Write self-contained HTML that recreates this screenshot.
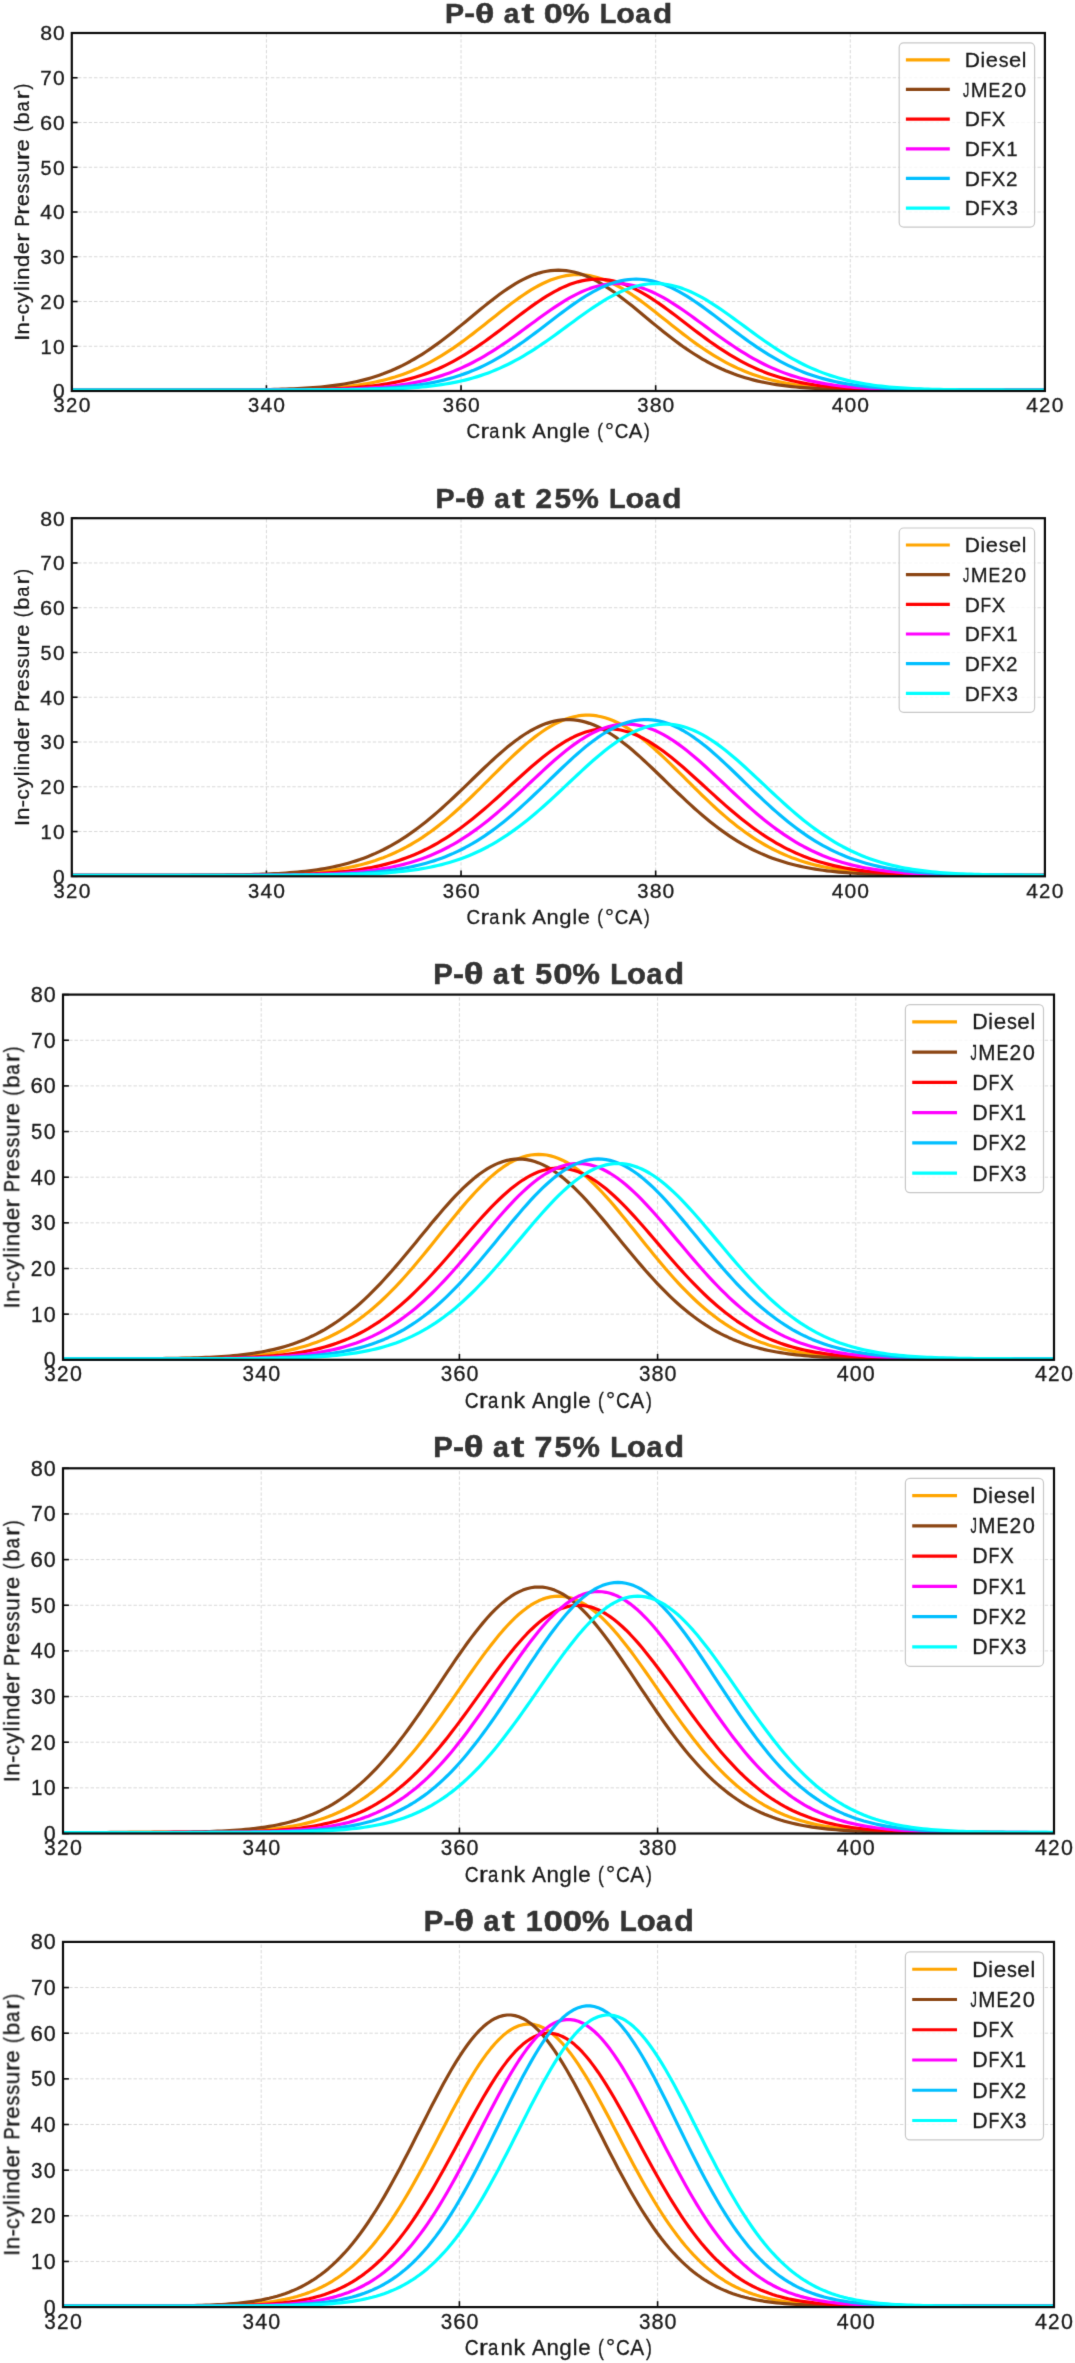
<!DOCTYPE html>
<html><head><meta charset="utf-8"><style>html,body{margin:0;padding:0;background:#fff;}svg{display:block;}</style></head>
<body>
<svg width="1075" height="2363" viewBox="0 0 1075 2363" font-family='"Liberation Sans", sans-serif'>
<defs><filter id="bl" x="0" y="0" width="1075" height="2363" filterUnits="userSpaceOnUse" color-interpolation-filters="sRGB"><feConvolveMatrix order="3" kernelMatrix="0.01134 0.08382 0.01134 0.08382 0.61935 0.08382 0.01134 0.08382 0.01134" divisor="1" edgeMode="duplicate" preserveAlpha="true"/></filter></defs>
<g filter="url(#bl)"><rect width="1075" height="2363" fill="#fff"/>
<g stroke="#d9d9d9" stroke-width="1" stroke-dasharray="3.4 1.96"><line x1="266.42" y1="391" x2="266.42" y2="33"/><line x1="461.04" y1="391" x2="461.04" y2="33"/><line x1="655.66" y1="391" x2="655.66" y2="33"/><line x1="850.28" y1="391" x2="850.28" y2="33"/><line x1="71.8" y1="346.25" x2="1044.9" y2="346.25" stroke-dashoffset="-0.8"/><line x1="71.8" y1="301.5" x2="1044.9" y2="301.5" stroke-dashoffset="-0.8"/><line x1="71.8" y1="256.75" x2="1044.9" y2="256.75" stroke-dashoffset="-0.8"/><line x1="71.8" y1="212" x2="1044.9" y2="212" stroke-dashoffset="-0.8"/><line x1="71.8" y1="167.25" x2="1044.9" y2="167.25" stroke-dashoffset="-0.8"/><line x1="71.8" y1="122.5" x2="1044.9" y2="122.5" stroke-dashoffset="-0.8"/><line x1="71.8" y1="77.75" x2="1044.9" y2="77.75" stroke-dashoffset="-0.8"/></g>
<g stroke="#0a0a0a" stroke-width="1.6"><line x1="71.8" y1="391" x2="71.8" y2="385.2"/><line x1="266.42" y1="391" x2="266.42" y2="385.2"/><line x1="461.04" y1="391" x2="461.04" y2="385.2"/><line x1="655.66" y1="391" x2="655.66" y2="385.2"/><line x1="850.28" y1="391" x2="850.28" y2="385.2"/><line x1="1044.9" y1="391" x2="1044.9" y2="385.2"/><line x1="71.8" y1="391" x2="77.6" y2="391"/><line x1="71.8" y1="346.25" x2="77.6" y2="346.25"/><line x1="71.8" y1="301.5" x2="77.6" y2="301.5"/><line x1="71.8" y1="256.75" x2="77.6" y2="256.75"/><line x1="71.8" y1="212" x2="77.6" y2="212"/><line x1="71.8" y1="167.25" x2="77.6" y2="167.25"/><line x1="71.8" y1="122.5" x2="77.6" y2="122.5"/><line x1="71.8" y1="77.75" x2="77.6" y2="77.75"/><line x1="71.8" y1="33" x2="77.6" y2="33"/></g>
<g><polyline fill="none" stroke="#FFA500" stroke-width="3.2" stroke-linejoin="round" points="71.8,390.02 75.69,390.02 79.58,390.02 83.48,390.02 87.37,390.02 91.26,390.02 95.15,390.02 99.05,390.02 102.94,390.02 106.83,390.02 110.72,390.02 114.62,390.02 118.51,390.02 122.4,390.02 126.29,390.02 130.19,390.02 134.08,390.02 137.97,390.02 141.86,390.02 145.76,390.01 149.65,390.01 153.54,390.01 157.43,390.01 161.33,390.01 165.22,390.01 169.11,390.01 173,390.01 176.89,390.01 180.79,390.01 184.68,390.01 188.57,390.01 192.46,390.01 196.36,390.01 200.25,390 204.14,390 208.03,390 211.93,390 215.82,389.99 219.71,389.99 223.6,389.98 227.5,389.98 231.39,389.97 235.28,389.96 239.17,389.95 243.07,389.94 246.96,389.92 250.85,389.91 254.74,389.89 258.64,389.86 262.53,389.84 266.42,389.81 270.31,389.77 274.2,389.73 278.1,389.69 281.99,389.63 285.88,389.57 289.77,389.5 293.67,389.42 297.56,389.33 301.45,389.22 305.34,389.1 309.24,388.97 313.13,388.82 317.02,388.65 320.91,388.45 324.81,388.24 328.7,388 332.59,387.73 336.48,387.43 340.38,387.09 344.27,386.72 348.16,386.31 352.05,385.85 355.95,385.35 359.84,384.8 363.73,384.2 367.62,383.54 371.51,382.82 375.41,382.03 379.3,381.18 383.19,380.25 387.08,379.25 390.98,378.16 394.87,377 398.76,375.74 402.65,374.4 406.55,372.97 410.44,371.44 414.33,369.81 418.22,368.09 422.12,366.26 426.01,364.33 429.9,362.3 433.79,360.17 437.69,357.94 441.58,355.61 445.47,353.18 449.36,350.66 453.26,348.05 457.15,345.36 461.04,342.59 464.93,339.74 468.82,336.83 472.72,333.86 476.61,330.84 480.5,327.79 484.39,324.7 488.29,321.6 492.18,318.49 496.07,315.38 499.96,312.3 503.86,309.25 507.75,306.24 511.64,303.3 515.53,300.42 519.43,297.64 523.32,294.95 527.21,292.38 531.1,289.94 535,287.64 538.89,285.5 542.78,283.52 546.67,281.72 550.57,280.1 554.46,278.68 558.35,277.46 562.24,276.46 566.13,275.67 570.03,275.1 573.92,274.76 577.81,274.65 581.7,274.76 585.6,275.1 589.49,275.67 593.38,276.46 597.27,277.46 601.17,278.68 605.06,280.1 608.95,281.72 612.84,283.52 616.74,285.5 620.63,287.64 624.52,289.94 628.41,292.38 632.31,294.95 636.2,297.64 640.09,300.42 643.98,303.3 647.88,306.24 651.77,309.25 655.66,312.3 659.55,315.38 663.44,318.49 667.34,321.6 671.23,324.7 675.12,327.79 679.01,330.84 682.91,333.86 686.8,336.83 690.69,339.74 694.58,342.59 698.48,345.36 702.37,348.05 706.26,350.66 710.15,353.18 714.05,355.61 717.94,357.94 721.83,360.17 725.72,362.3 729.62,364.33 733.51,366.26 737.4,368.09 741.29,369.81 745.19,371.44 749.08,372.97 752.97,374.4 756.86,375.74 760.75,377 764.65,378.16 768.54,379.25 772.43,380.25 776.32,381.18 780.22,382.03 784.11,382.82 788,383.54 791.89,384.2 795.79,384.8 799.68,385.35 803.57,385.85 807.46,386.31 811.36,386.72 815.25,387.09 819.14,387.43 823.03,387.73 826.93,388 830.82,388.24 834.71,388.45 838.6,388.65 842.5,388.82 846.39,388.97 850.28,389.1 854.17,389.22 858.06,389.33 861.96,389.42 865.85,389.5 869.74,389.57 873.63,389.63 877.53,389.69 881.42,389.73 885.31,389.77 889.2,389.81 893.1,389.84 896.99,389.86 900.88,389.89 904.77,389.91 908.67,389.92 912.56,389.94 916.45,389.95 920.34,389.96 924.24,389.97 928.13,389.98 932.02,389.98 935.91,389.99 939.81,389.99 943.7,390 947.59,390 951.48,390 955.37,390 959.27,390.01 963.16,390.01 967.05,390.01 970.94,390.01 974.84,390.01 978.73,390.01 982.62,390.01 986.51,390.01 990.41,390.01 994.3,390.01 998.19,390.01 1002.08,390.01 1005.98,390.01 1009.87,390.01 1013.76,390.02 1017.65,390.02 1021.55,390.02 1025.44,390.02 1029.33,390.02 1033.22,390.02 1037.12,390.02 1041.01,390.02 1044.9,390.02"/><polyline fill="none" stroke="#8B4513" stroke-width="3.2" stroke-linejoin="round" points="71.8,390.02 75.69,390.02 79.58,390.02 83.48,390.02 87.37,390.02 91.26,390.02 95.15,390.02 99.05,390.02 102.94,390.02 106.83,390.02 110.72,390.02 114.62,390.02 118.51,390.02 122.4,390.02 126.29,390.01 130.19,390.01 134.08,390.01 137.97,390.01 141.86,390.01 145.76,390.01 149.65,390.01 153.54,390.01 157.43,390.01 161.33,390.01 165.22,390.01 169.11,390.01 173,390.01 176.89,390.01 180.79,390 184.68,390 188.57,390 192.46,390 196.36,389.99 200.25,389.99 204.14,389.98 208.03,389.98 211.93,389.97 215.82,389.96 219.71,389.95 223.6,389.93 227.5,389.92 231.39,389.9 235.28,389.88 239.17,389.86 243.07,389.83 246.96,389.8 250.85,389.76 254.74,389.72 258.64,389.67 262.53,389.62 266.42,389.55 270.31,389.48 274.2,389.39 278.1,389.3 281.99,389.19 285.88,389.07 289.77,388.93 293.67,388.77 297.56,388.59 301.45,388.39 305.34,388.17 309.24,387.92 313.13,387.64 317.02,387.33 320.91,386.98 324.81,386.59 328.7,386.17 332.59,385.69 336.48,385.17 340.38,384.6 344.27,383.97 348.16,383.29 352.05,382.54 355.95,381.72 359.84,380.83 363.73,379.87 367.62,378.83 371.51,377.7 375.41,376.49 379.3,375.19 383.19,373.8 387.08,372.31 390.98,370.72 394.87,369.03 398.76,367.23 402.65,365.34 406.55,363.33 410.44,361.23 414.33,359.01 418.22,356.7 422.12,354.27 426.01,351.75 429.9,349.14 433.79,346.43 437.69,343.63 441.58,340.75 445.47,337.79 449.36,334.77 453.26,331.68 457.15,328.55 461.04,325.37 464.93,322.17 468.82,318.94 472.72,315.71 476.61,312.49 480.5,309.29 484.39,306.12 488.29,302.99 492.18,299.93 496.07,296.95 499.96,294.05 503.86,291.27 507.75,288.6 511.64,286.06 515.53,283.67 519.43,281.45 523.32,279.39 527.21,277.52 531.1,275.84 535,274.36 538.89,273.1 542.78,272.05 546.67,271.24 550.57,270.65 554.46,270.29 558.35,270.18 562.24,270.29 566.13,270.65 570.03,271.24 573.92,272.05 577.81,273.1 581.7,274.36 585.6,275.84 589.49,277.52 593.38,279.39 597.27,281.45 601.17,283.67 605.06,286.06 608.95,288.6 612.84,291.27 616.74,294.05 620.63,296.95 624.52,299.93 628.41,302.99 632.31,306.12 636.2,309.29 640.09,312.49 643.98,315.71 647.88,318.94 651.77,322.17 655.66,325.37 659.55,328.55 663.44,331.68 667.34,334.77 671.23,337.79 675.12,340.75 679.01,343.63 682.91,346.43 686.8,349.14 690.69,351.75 694.58,354.27 698.48,356.7 702.37,359.01 706.26,361.23 710.15,363.33 714.05,365.34 717.94,367.23 721.83,369.03 725.72,370.72 729.62,372.31 733.51,373.8 737.4,375.19 741.29,376.49 745.19,377.7 749.08,378.83 752.97,379.87 756.86,380.83 760.75,381.72 764.65,382.54 768.54,383.29 772.43,383.97 776.32,384.6 780.22,385.17 784.11,385.69 788,386.17 791.89,386.59 795.79,386.98 799.68,387.33 803.57,387.64 807.46,387.92 811.36,388.17 815.25,388.39 819.14,388.59 823.03,388.77 826.93,388.93 830.82,389.07 834.71,389.19 838.6,389.3 842.5,389.39 846.39,389.48 850.28,389.55 854.17,389.62 858.06,389.67 861.96,389.72 865.85,389.76 869.74,389.8 873.63,389.83 877.53,389.86 881.42,389.88 885.31,389.9 889.2,389.92 893.1,389.93 896.99,389.95 900.88,389.96 904.77,389.97 908.67,389.98 912.56,389.98 916.45,389.99 920.34,389.99 924.24,390 928.13,390 932.02,390 935.91,390 939.81,390.01 943.7,390.01 947.59,390.01 951.48,390.01 955.37,390.01 959.27,390.01 963.16,390.01 967.05,390.01 970.94,390.01 974.84,390.01 978.73,390.01 982.62,390.01 986.51,390.01 990.41,390.01 994.3,390.02 998.19,390.02 1002.08,390.02 1005.98,390.02 1009.87,390.02 1013.76,390.02 1017.65,390.02 1021.55,390.02 1025.44,390.02 1029.33,390.02 1033.22,390.02 1037.12,390.02 1041.01,390.02 1044.9,390.02"/><polyline fill="none" stroke="#FF0000" stroke-width="3.2" stroke-linejoin="round" points="71.8,390.02 75.69,390.02 79.58,390.02 83.48,390.02 87.37,390.02 91.26,390.02 95.15,390.02 99.05,390.02 102.94,390.02 106.83,390.02 110.72,390.02 114.62,390.02 118.51,390.02 122.4,390.02 126.29,390.02 130.19,390.02 134.08,390.02 137.97,390.02 141.86,390.02 145.76,390.02 149.65,390.02 153.54,390.02 157.43,390.02 161.33,390.02 165.22,390.01 169.11,390.01 173,390.01 176.89,390.01 180.79,390.01 184.68,390.01 188.57,390.01 192.46,390.01 196.36,390.01 200.25,390.01 204.14,390.01 208.03,390.01 211.93,390.01 215.82,390.01 219.71,390.01 223.6,390 227.5,390 231.39,390 235.28,389.99 239.17,389.99 243.07,389.98 246.96,389.98 250.85,389.97 254.74,389.96 258.64,389.95 262.53,389.94 266.42,389.93 270.31,389.91 274.2,389.89 278.1,389.87 281.99,389.85 285.88,389.82 289.77,389.78 293.67,389.74 297.56,389.7 301.45,389.65 305.34,389.59 309.24,389.52 313.13,389.44 317.02,389.35 320.91,389.25 324.81,389.14 328.7,389.01 332.59,388.86 336.48,388.7 340.38,388.51 344.27,388.31 348.16,388.07 352.05,387.82 355.95,387.53 359.84,387.2 363.73,386.85 367.62,386.45 371.51,386.02 375.41,385.54 379.3,385.01 383.19,384.43 387.08,383.79 390.98,383.1 394.87,382.34 398.76,381.52 402.65,380.63 406.55,379.66 410.44,378.62 414.33,377.5 418.22,376.3 422.12,375.01 426.01,373.63 429.9,372.16 433.79,370.6 437.69,368.94 441.58,367.18 445.47,365.33 449.36,363.38 453.26,361.33 457.15,359.18 461.04,356.94 464.93,354.61 468.82,352.19 472.72,349.68 476.61,347.09 480.5,344.43 484.39,341.69 488.29,338.89 492.18,336.04 496.07,333.14 499.96,330.2 503.86,327.23 507.75,324.25 511.64,321.26 515.53,318.28 519.43,315.32 523.32,312.38 527.21,309.49 531.1,306.66 535,303.9 538.89,301.22 542.78,298.64 546.67,296.17 550.57,293.83 554.46,291.62 558.35,289.55 562.24,287.65 566.13,285.92 570.03,284.36 573.92,283 577.81,281.83 581.7,280.86 585.6,280.11 589.49,279.56 593.38,279.23 597.27,279.12 601.17,279.23 605.06,279.56 608.95,280.11 612.84,280.86 616.74,281.83 620.63,283 624.52,284.36 628.41,285.92 632.31,287.65 636.2,289.55 640.09,291.62 643.98,293.83 647.88,296.17 651.77,298.64 655.66,301.22 659.55,303.9 663.44,306.66 667.34,309.49 671.23,312.38 675.12,315.32 679.01,318.28 682.91,321.26 686.8,324.25 690.69,327.23 694.58,330.2 698.48,333.14 702.37,336.04 706.26,338.89 710.15,341.69 714.05,344.43 717.94,347.09 721.83,349.68 725.72,352.19 729.62,354.61 733.51,356.94 737.4,359.18 741.29,361.33 745.19,363.38 749.08,365.33 752.97,367.18 756.86,368.94 760.75,370.6 764.65,372.16 768.54,373.63 772.43,375.01 776.32,376.3 780.22,377.5 784.11,378.62 788,379.66 791.89,380.63 795.79,381.52 799.68,382.34 803.57,383.1 807.46,383.79 811.36,384.43 815.25,385.01 819.14,385.54 823.03,386.02 826.93,386.45 830.82,386.85 834.71,387.2 838.6,387.53 842.5,387.82 846.39,388.07 850.28,388.31 854.17,388.51 858.06,388.7 861.96,388.86 865.85,389.01 869.74,389.14 873.63,389.25 877.53,389.35 881.42,389.44 885.31,389.52 889.2,389.59 893.1,389.65 896.99,389.7 900.88,389.74 904.77,389.78 908.67,389.82 912.56,389.85 916.45,389.87 920.34,389.89 924.24,389.91 928.13,389.93 932.02,389.94 935.91,389.95 939.81,389.96 943.7,389.97 947.59,389.98 951.48,389.98 955.37,389.99 959.27,389.99 963.16,390 967.05,390 970.94,390 974.84,390.01 978.73,390.01 982.62,390.01 986.51,390.01 990.41,390.01 994.3,390.01 998.19,390.01 1002.08,390.01 1005.98,390.01 1009.87,390.01 1013.76,390.01 1017.65,390.01 1021.55,390.01 1025.44,390.01 1029.33,390.01 1033.22,390.02 1037.12,390.02 1041.01,390.02 1044.9,390.02"/><polyline fill="none" stroke="#FF00FF" stroke-width="3.2" stroke-linejoin="round" points="71.8,390.02 75.69,390.02 79.58,390.02 83.48,390.02 87.37,390.02 91.26,390.02 95.15,390.02 99.05,390.02 102.94,390.02 106.83,390.02 110.72,390.02 114.62,390.02 118.51,390.02 122.4,390.02 126.29,390.02 130.19,390.02 134.08,390.02 137.97,390.02 141.86,390.02 145.76,390.02 149.65,390.02 153.54,390.02 157.43,390.02 161.33,390.02 165.22,390.02 169.11,390.02 173,390.02 176.89,390.02 180.79,390.02 184.68,390.01 188.57,390.01 192.46,390.01 196.36,390.01 200.25,390.01 204.14,390.01 208.03,390.01 211.93,390.01 215.82,390.01 219.71,390.01 223.6,390.01 227.5,390.01 231.39,390.01 235.28,390.01 239.17,390.01 243.07,390 246.96,390 250.85,390 254.74,389.99 258.64,389.99 262.53,389.99 266.42,389.98 270.31,389.97 274.2,389.96 278.1,389.96 281.99,389.94 285.88,389.93 289.77,389.92 293.67,389.9 297.56,389.88 301.45,389.85 305.34,389.82 309.24,389.79 313.13,389.75 317.02,389.71 320.91,389.66 324.81,389.6 328.7,389.54 332.59,389.46 336.48,389.38 340.38,389.28 344.27,389.17 348.16,389.05 352.05,388.91 355.95,388.75 359.84,388.57 363.73,388.38 367.62,388.15 371.51,387.9 375.41,387.63 379.3,387.32 383.19,386.98 387.08,386.6 390.98,386.18 394.87,385.72 398.76,385.21 402.65,384.65 406.55,384.04 410.44,383.38 414.33,382.65 418.22,381.86 422.12,381.01 426.01,380.08 429.9,379.08 433.79,378.01 437.69,376.85 441.58,375.61 445.47,374.29 449.36,372.88 453.26,371.38 457.15,369.79 461.04,368.1 464.93,366.32 468.82,364.45 472.72,362.49 476.61,360.43 480.5,358.28 484.39,356.04 488.29,353.72 492.18,351.31 496.07,348.82 499.96,346.27 503.86,343.64 507.75,340.96 511.64,338.22 515.53,335.43 519.43,332.61 523.32,329.77 527.21,326.91 531.1,324.04 535,321.17 538.89,318.33 542.78,315.51 546.67,312.74 550.57,310.02 554.46,307.37 558.35,304.8 562.24,302.33 566.13,299.96 570.03,297.71 573.92,295.59 577.81,293.61 581.7,291.78 585.6,290.12 589.49,288.63 593.38,287.32 597.27,286.2 601.17,285.27 605.06,284.54 608.95,284.02 612.84,283.71 616.74,283.6 620.63,283.71 624.52,284.02 628.41,284.54 632.31,285.27 636.2,286.2 640.09,287.32 643.98,288.63 647.88,290.12 651.77,291.78 655.66,293.61 659.55,295.59 663.44,297.71 667.34,299.96 671.23,302.33 675.12,304.8 679.01,307.37 682.91,310.02 686.8,312.74 690.69,315.51 694.58,318.33 698.48,321.17 702.37,324.04 706.26,326.91 710.15,329.77 714.05,332.61 717.94,335.43 721.83,338.22 725.72,340.96 729.62,343.64 733.51,346.27 737.4,348.82 741.29,351.31 745.19,353.72 749.08,356.04 752.97,358.28 756.86,360.43 760.75,362.49 764.65,364.45 768.54,366.32 772.43,368.1 776.32,369.79 780.22,371.38 784.11,372.88 788,374.29 791.89,375.61 795.79,376.85 799.68,378.01 803.57,379.08 807.46,380.08 811.36,381.01 815.25,381.86 819.14,382.65 823.03,383.38 826.93,384.04 830.82,384.65 834.71,385.21 838.6,385.72 842.5,386.18 846.39,386.6 850.28,386.98 854.17,387.32 858.06,387.63 861.96,387.9 865.85,388.15 869.74,388.38 873.63,388.57 877.53,388.75 881.42,388.91 885.31,389.05 889.2,389.17 893.1,389.28 896.99,389.38 900.88,389.46 904.77,389.54 908.67,389.6 912.56,389.66 916.45,389.71 920.34,389.75 924.24,389.79 928.13,389.82 932.02,389.85 935.91,389.88 939.81,389.9 943.7,389.92 947.59,389.93 951.48,389.94 955.37,389.96 959.27,389.96 963.16,389.97 967.05,389.98 970.94,389.99 974.84,389.99 978.73,389.99 982.62,390 986.51,390 990.41,390 994.3,390.01 998.19,390.01 1002.08,390.01 1005.98,390.01 1009.87,390.01 1013.76,390.01 1017.65,390.01 1021.55,390.01 1025.44,390.01 1029.33,390.01 1033.22,390.01 1037.12,390.01 1041.01,390.01 1044.9,390.01"/><polyline fill="none" stroke="#00BFFF" stroke-width="3.2" stroke-linejoin="round" points="71.8,390.02 75.69,390.02 79.58,390.02 83.48,390.02 87.37,390.02 91.26,390.02 95.15,390.02 99.05,390.02 102.94,390.02 106.83,390.02 110.72,390.02 114.62,390.02 118.51,390.02 122.4,390.02 126.29,390.02 130.19,390.02 134.08,390.02 137.97,390.02 141.86,390.02 145.76,390.02 149.65,390.02 153.54,390.02 157.43,390.02 161.33,390.02 165.22,390.02 169.11,390.02 173,390.02 176.89,390.02 180.79,390.02 184.68,390.02 188.57,390.02 192.46,390.02 196.36,390.02 200.25,390.02 204.14,390.01 208.03,390.01 211.93,390.01 215.82,390.01 219.71,390.01 223.6,390.01 227.5,390.01 231.39,390.01 235.28,390.01 239.17,390.01 243.07,390.01 246.96,390.01 250.85,390.01 254.74,390.01 258.64,390.01 262.53,390 266.42,390 270.31,390 274.2,389.99 278.1,389.99 281.99,389.98 285.88,389.98 289.77,389.97 293.67,389.96 297.56,389.95 301.45,389.94 305.34,389.93 309.24,389.91 313.13,389.89 317.02,389.87 320.91,389.85 324.81,389.82 328.7,389.78 332.59,389.74 336.48,389.7 340.38,389.65 344.27,389.59 348.16,389.52 352.05,389.44 355.95,389.35 359.84,389.25 363.73,389.14 367.62,389.01 371.51,388.86 375.41,388.7 379.3,388.51 383.19,388.31 387.08,388.07 390.98,387.82 394.87,387.53 398.76,387.2 402.65,386.85 406.55,386.45 410.44,386.02 414.33,385.54 418.22,385.01 422.12,384.43 426.01,383.79 429.9,383.1 433.79,382.34 437.69,381.52 441.58,380.63 445.47,379.66 449.36,378.62 453.26,377.5 457.15,376.3 461.04,375.01 464.93,373.63 468.82,372.16 472.72,370.6 476.61,368.94 480.5,367.18 484.39,365.33 488.29,363.38 492.18,361.33 496.07,359.18 499.96,356.94 503.86,354.61 507.75,352.19 511.64,349.68 515.53,347.09 519.43,344.43 523.32,341.69 527.21,338.89 531.1,336.04 535,333.14 538.89,330.2 542.78,327.23 546.67,324.25 550.57,321.26 554.46,318.28 558.35,315.32 562.24,312.38 566.13,309.49 570.03,306.66 573.92,303.9 577.81,301.22 581.7,298.64 585.6,296.17 589.49,293.83 593.38,291.62 597.27,289.55 601.17,287.65 605.06,285.92 608.95,284.36 612.84,283 616.74,281.83 620.63,280.86 624.52,280.11 628.41,279.56 632.31,279.23 636.2,279.12 640.09,279.23 643.98,279.56 647.88,280.11 651.77,280.86 655.66,281.83 659.55,283 663.44,284.36 667.34,285.92 671.23,287.65 675.12,289.55 679.01,291.62 682.91,293.83 686.8,296.17 690.69,298.64 694.58,301.22 698.48,303.9 702.37,306.66 706.26,309.49 710.15,312.38 714.05,315.32 717.94,318.28 721.83,321.26 725.72,324.25 729.62,327.23 733.51,330.2 737.4,333.14 741.29,336.04 745.19,338.89 749.08,341.69 752.97,344.43 756.86,347.09 760.75,349.68 764.65,352.19 768.54,354.61 772.43,356.94 776.32,359.18 780.22,361.33 784.11,363.38 788,365.33 791.89,367.18 795.79,368.94 799.68,370.6 803.57,372.16 807.46,373.63 811.36,375.01 815.25,376.3 819.14,377.5 823.03,378.62 826.93,379.66 830.82,380.63 834.71,381.52 838.6,382.34 842.5,383.1 846.39,383.79 850.28,384.43 854.17,385.01 858.06,385.54 861.96,386.02 865.85,386.45 869.74,386.85 873.63,387.2 877.53,387.53 881.42,387.82 885.31,388.07 889.2,388.31 893.1,388.51 896.99,388.7 900.88,388.86 904.77,389.01 908.67,389.14 912.56,389.25 916.45,389.35 920.34,389.44 924.24,389.52 928.13,389.59 932.02,389.65 935.91,389.7 939.81,389.74 943.7,389.78 947.59,389.82 951.48,389.85 955.37,389.87 959.27,389.89 963.16,389.91 967.05,389.93 970.94,389.94 974.84,389.95 978.73,389.96 982.62,389.97 986.51,389.98 990.41,389.98 994.3,389.99 998.19,389.99 1002.08,390 1005.98,390 1009.87,390 1013.76,390.01 1017.65,390.01 1021.55,390.01 1025.44,390.01 1029.33,390.01 1033.22,390.01 1037.12,390.01 1041.01,390.01 1044.9,390.01"/><polyline fill="none" stroke="#00FFFF" stroke-width="3.2" stroke-linejoin="round" points="71.8,390.02 75.69,390.02 79.58,390.02 83.48,390.02 87.37,390.02 91.26,390.02 95.15,390.02 99.05,390.02 102.94,390.02 106.83,390.02 110.72,390.02 114.62,390.02 118.51,390.02 122.4,390.02 126.29,390.02 130.19,390.02 134.08,390.02 137.97,390.02 141.86,390.02 145.76,390.02 149.65,390.02 153.54,390.02 157.43,390.02 161.33,390.02 165.22,390.02 169.11,390.02 173,390.02 176.89,390.02 180.79,390.02 184.68,390.02 188.57,390.02 192.46,390.02 196.36,390.02 200.25,390.02 204.14,390.02 208.03,390.02 211.93,390.02 215.82,390.02 219.71,390.02 223.6,390.01 227.5,390.01 231.39,390.01 235.28,390.01 239.17,390.01 243.07,390.01 246.96,390.01 250.85,390.01 254.74,390.01 258.64,390.01 262.53,390.01 266.42,390.01 270.31,390.01 274.2,390.01 278.1,390.01 281.99,390 285.88,390 289.77,390 293.67,389.99 297.56,389.99 301.45,389.99 305.34,389.98 309.24,389.97 313.13,389.96 317.02,389.96 320.91,389.94 324.81,389.93 328.7,389.92 332.59,389.9 336.48,389.88 340.38,389.85 344.27,389.82 348.16,389.79 352.05,389.75 355.95,389.71 359.84,389.66 363.73,389.6 367.62,389.54 371.51,389.46 375.41,389.38 379.3,389.28 383.19,389.17 387.08,389.05 390.98,388.91 394.87,388.75 398.76,388.57 402.65,388.38 406.55,388.15 410.44,387.9 414.33,387.63 418.22,387.32 422.12,386.98 426.01,386.6 429.9,386.18 433.79,385.72 437.69,385.21 441.58,384.65 445.47,384.04 449.36,383.38 453.26,382.65 457.15,381.86 461.04,381.01 464.93,380.08 468.82,379.08 472.72,378.01 476.61,376.85 480.5,375.61 484.39,374.29 488.29,372.88 492.18,371.38 496.07,369.79 499.96,368.1 503.86,366.32 507.75,364.45 511.64,362.49 515.53,360.43 519.43,358.28 523.32,356.04 527.21,353.72 531.1,351.31 535,348.82 538.89,346.27 542.78,343.64 546.67,340.96 550.57,338.22 554.46,335.43 558.35,332.61 562.24,329.77 566.13,326.91 570.03,324.04 573.92,321.17 577.81,318.33 581.7,315.51 585.6,312.74 589.49,310.02 593.38,307.37 597.27,304.8 601.17,302.33 605.06,299.96 608.95,297.71 612.84,295.59 616.74,293.61 620.63,291.78 624.52,290.12 628.41,288.63 632.31,287.32 636.2,286.2 640.09,285.27 643.98,284.54 647.88,284.02 651.77,283.71 655.66,283.6 659.55,283.71 663.44,284.02 667.34,284.54 671.23,285.27 675.12,286.2 679.01,287.32 682.91,288.63 686.8,290.12 690.69,291.78 694.58,293.61 698.48,295.59 702.37,297.71 706.26,299.96 710.15,302.33 714.05,304.8 717.94,307.37 721.83,310.02 725.72,312.74 729.62,315.51 733.51,318.33 737.4,321.17 741.29,324.04 745.19,326.91 749.08,329.77 752.97,332.61 756.86,335.43 760.75,338.22 764.65,340.96 768.54,343.64 772.43,346.27 776.32,348.82 780.22,351.31 784.11,353.72 788,356.04 791.89,358.28 795.79,360.43 799.68,362.49 803.57,364.45 807.46,366.32 811.36,368.1 815.25,369.79 819.14,371.38 823.03,372.88 826.93,374.29 830.82,375.61 834.71,376.85 838.6,378.01 842.5,379.08 846.39,380.08 850.28,381.01 854.17,381.86 858.06,382.65 861.96,383.38 865.85,384.04 869.74,384.65 873.63,385.21 877.53,385.72 881.42,386.18 885.31,386.6 889.2,386.98 893.1,387.32 896.99,387.63 900.88,387.9 904.77,388.15 908.67,388.38 912.56,388.57 916.45,388.75 920.34,388.91 924.24,389.05 928.13,389.17 932.02,389.28 935.91,389.38 939.81,389.46 943.7,389.54 947.59,389.6 951.48,389.66 955.37,389.71 959.27,389.75 963.16,389.79 967.05,389.82 970.94,389.85 974.84,389.88 978.73,389.9 982.62,389.92 986.51,389.93 990.41,389.94 994.3,389.96 998.19,389.96 1002.08,389.97 1005.98,389.98 1009.87,389.99 1013.76,389.99 1017.65,389.99 1021.55,390 1025.44,390 1029.33,390 1033.22,390.01 1037.12,390.01 1041.01,390.01 1044.9,390.01"/></g>
<rect x="71.8" y="33" width="973.1" height="358" fill="none" stroke="#0a0a0a" stroke-width="2.2"/>
<g><g transform="translate(71.8,412.2)" font-size="21" fill="#1a1a1a" stroke="#1a1a1a" stroke-width="0.3"><text transform="translate(-18.33,0) scale(0.964,1)">3</text><text transform="translate(-5.92,0) scale(0.968,1)">2</text><text transform="translate(6.86,0) scale(1.004,1)">0</text></g><g transform="translate(266.42,412.2)" font-size="21" fill="#1a1a1a" stroke="#1a1a1a" stroke-width="0.3"><text transform="translate(-18.33,0) scale(0.964,1)">3</text><text transform="translate(-5.87,0) scale(1.004,1)">4</text><text transform="translate(6.86,0) scale(1.004,1)">0</text></g><g transform="translate(461.04,412.2)" font-size="21" fill="#1a1a1a" stroke="#1a1a1a" stroke-width="0.3"><text transform="translate(-18.33,0) scale(0.964,1)">3</text><text transform="translate(-6.07,0) scale(1.039,1)">6</text><text transform="translate(6.86,0) scale(1.004,1)">0</text></g><g transform="translate(655.66,412.2)" font-size="21" fill="#1a1a1a" stroke="#1a1a1a" stroke-width="0.3"><text transform="translate(-18.33,0) scale(0.964,1)">3</text><text transform="translate(-5.93,0) scale(1.015,1)">8</text><text transform="translate(6.86,0) scale(1.004,1)">0</text></g><g transform="translate(850.28,412.2)" font-size="21" fill="#1a1a1a" stroke="#1a1a1a" stroke-width="0.3"><text transform="translate(-18.59,0) scale(1.004,1)">4</text><text transform="translate(-5.87,0) scale(1.004,1)">0</text><text transform="translate(6.86,0) scale(1.004,1)">0</text></g><g transform="translate(1044.9,412.2)" font-size="21" fill="#1a1a1a" stroke="#1a1a1a" stroke-width="0.3"><text transform="translate(-18.59,0) scale(1.004,1)">4</text><text transform="translate(-5.92,0) scale(0.968,1)">2</text><text transform="translate(6.86,0) scale(1.004,1)">0</text></g><g transform="translate(65.2,398.3)" font-size="21" fill="#1a1a1a" stroke="#1a1a1a" stroke-width="0.3"><text transform="translate(-12.23,0) scale(1.004,1)">0</text></g><g transform="translate(65.2,353.55)" font-size="21" fill="#1a1a1a" stroke="#1a1a1a" stroke-width="0.3"><text transform="translate(-24.79,0) scale(0.959,1)">1</text><text transform="translate(-12.23,0) scale(1.004,1)">0</text></g><g transform="translate(65.2,308.8)" font-size="21" fill="#1a1a1a" stroke="#1a1a1a" stroke-width="0.3"><text transform="translate(-25.01,0) scale(0.968,1)">2</text><text transform="translate(-12.23,0) scale(1.004,1)">0</text></g><g transform="translate(65.2,264.05)" font-size="21" fill="#1a1a1a" stroke="#1a1a1a" stroke-width="0.3"><text transform="translate(-24.7,0) scale(0.964,1)">3</text><text transform="translate(-12.23,0) scale(1.004,1)">0</text></g><g transform="translate(65.2,219.3)" font-size="21" fill="#1a1a1a" stroke="#1a1a1a" stroke-width="0.3"><text transform="translate(-24.96,0) scale(1.004,1)">4</text><text transform="translate(-12.23,0) scale(1.004,1)">0</text></g><g transform="translate(65.2,174.55)" font-size="21" fill="#1a1a1a" stroke="#1a1a1a" stroke-width="0.3"><text transform="translate(-24.7,0) scale(0.947,1)">5</text><text transform="translate(-12.23,0) scale(1.004,1)">0</text></g><g transform="translate(65.2,129.8)" font-size="21" fill="#1a1a1a" stroke="#1a1a1a" stroke-width="0.3"><text transform="translate(-25.16,0) scale(1.039,1)">6</text><text transform="translate(-12.23,0) scale(1.004,1)">0</text></g><g transform="translate(65.2,85.05)" font-size="21" fill="#1a1a1a" stroke="#1a1a1a" stroke-width="0.3"><text transform="translate(-24.87,0) scale(0.982,1)">7</text><text transform="translate(-12.23,0) scale(1.004,1)">0</text></g><g transform="translate(65.2,40.3)" font-size="21" fill="#1a1a1a" stroke="#1a1a1a" stroke-width="0.3"><text transform="translate(-25.02,0) scale(1.015,1)">8</text><text transform="translate(-12.23,0) scale(1.004,1)">0</text></g></g>
<g transform="translate(558.35,438.4)" font-size="21" fill="#1a1a1a" stroke="#1a1a1a" stroke-width="0.3"><text transform="translate(-91.97,0) scale(0.897,1)">C</text><text transform="translate(-77.86,0) scale(1.239,1)">r</text><text transform="translate(-69.19,0) scale(0.869,1)">a</text><text transform="translate(-56.8,0) scale(1.042,1)">n</text><text transform="translate(-44.01,0) scale(1.081,1)">k</text><text transform="translate(-26,0) scale(0.974,1)">A</text><text transform="translate(-11.84,0) scale(1.042,1)">n</text><text transform="translate(0.83,0) scale(1.051,1)">g</text><text transform="translate(14.03,0) scale(0.988,1)">l</text><text transform="translate(19.35,0) scale(1.044,1)">e</text><text transform="translate(38.78,0) scale(0.817,1)">(</text><text transform="translate(46.62,0) scale(1.068,1)">°</text><text transform="translate(56.35,0) scale(0.897,1)">C</text><text transform="translate(70.46,0) scale(0.974,1)">A</text><text transform="translate(85.76,0) scale(0.817,1)">)</text></g>
<g transform="translate(28.9,212) rotate(-90)" font-size="21" fill="#1a1a1a" stroke="#1a1a1a" stroke-width="0.3"><text transform="translate(-128.77,0) scale(1.022,1)">I</text><text transform="translate(-122.41,0) scale(1.042,1)">n</text><text transform="translate(-109.91,0) scale(1.042,1)">-</text><text transform="translate(-102.35,0) scale(0.970,1)">c</text><text transform="translate(-90.89,0) scale(1.038,1)">y</text><text transform="translate(-78.92,0) scale(0.988,1)">l</text><text transform="translate(-73.27,0) scale(0.988,1)">i</text><text transform="translate(-67.76,0) scale(1.042,1)">n</text><text transform="translate(-55.09,0) scale(1.051,1)">d</text><text transform="translate(-42.21,0) scale(1.044,1)">e</text><text transform="translate(-29.79,0) scale(1.239,1)">r</text><text transform="translate(-14.59,0) scale(0.855,1)">P</text><text transform="translate(-2.75,0) scale(1.239,1)">r</text><text transform="translate(5.67,0) scale(1.044,1)">e</text><text transform="translate(18.52,0) scale(0.927,1)">s</text><text transform="translate(29.1,0) scale(0.927,1)">s</text><text transform="translate(39.42,0) scale(1.042,1)">u</text><text transform="translate(52.1,0) scale(1.239,1)">r</text><text transform="translate(60.52,0) scale(1.044,1)">e</text><text transform="translate(79.95,0) scale(0.817,1)">(</text><text transform="translate(87.61,0) scale(1.052,1)">b</text><text transform="translate(100.52,0) scale(0.869,1)">a</text><text transform="translate(112.63,0) scale(1.239,1)">r</text><text transform="translate(122.39,0) scale(0.817,1)">)</text></g>
<g transform="translate(558.35,22.6)" font-size="28.4" font-weight="bold" fill="#333" stroke="#333" stroke-width="0.5"><text transform="translate(-113.44,0) scale(1.008,1)">P</text><text transform="translate(-94.03,0) scale(1.148,1)">-</text><text transform="translate(-83.43,0) scale(1.264,1)">θ</text><text transform="translate(-54.72,0) scale(0.986,1)">a</text><text transform="translate(-36.9,0) scale(1.350,1)">t</text><text transform="translate(-14.59,0) scale(1.200,1)">0</text><text transform="translate(4.37,0) scale(1.064,1)">%</text><text transform="translate(41.36,0) scale(0.960,1)">L</text><text transform="translate(57.88,0) scale(1.073,1)">o</text><text transform="translate(76.8,0) scale(0.986,1)">a</text><text transform="translate(94.6,0) scale(1.107,1)">d</text></g>
<rect x="899.2" y="42.8" width="135.4" height="184.3" rx="4.5" fill="#fff" fill-opacity="0.8" stroke="#c8c8c8" stroke-width="1.2"/>
<g><line x1="905.9" y1="59.8" x2="949.8" y2="59.8" stroke="#FFA500" stroke-width="3.2"/><g transform="translate(964.4,67)" font-size="21" fill="#1a1a1a" stroke="#1a1a1a" stroke-width="0.3"><text transform="translate(0.27,0) scale(1.000,1)">D</text><text transform="translate(16.16,0) scale(0.988,1)">i</text><text transform="translate(21.46,0) scale(1.044,1)">e</text><text transform="translate(34.32,0) scale(0.927,1)">s</text><text transform="translate(44.53,0) scale(1.044,1)">e</text><text transform="translate(57.34,0) scale(0.988,1)">l</text></g><line x1="905.9" y1="89.46" x2="949.8" y2="89.46" stroke="#8B4513" stroke-width="3.2"/><g transform="translate(964.4,96.66)" font-size="21" fill="#1a1a1a" stroke="#1a1a1a" stroke-width="0.3"><text transform="translate(-1.31,0) scale(0.600,1)">J</text><text transform="translate(6.32,0) scale(0.964,1)">M</text><text transform="translate(24.05,0) scale(0.838,1)">E</text><text transform="translate(36.78,0) scale(0.982,1)">2</text><text transform="translate(49.75,0) scale(1.019,1)">0</text></g><line x1="905.9" y1="119.12" x2="949.8" y2="119.12" stroke="#FF0000" stroke-width="3.2"/><g transform="translate(964.4,126.32)" font-size="21" fill="#1a1a1a" stroke="#1a1a1a" stroke-width="0.3"><text transform="translate(0.27,0) scale(1.000,1)">D</text><text transform="translate(16.2,0) scale(0.829,1)">F</text><text transform="translate(27.46,0) scale(0.967,1)">X</text></g><line x1="905.9" y1="148.78" x2="949.8" y2="148.78" stroke="#FF00FF" stroke-width="3.2"/><g transform="translate(964.4,155.98)" font-size="21" fill="#1a1a1a" stroke="#1a1a1a" stroke-width="0.3"><text transform="translate(0.27,0) scale(1.000,1)">D</text><text transform="translate(16.2,0) scale(0.829,1)">F</text><text transform="translate(27.46,0) scale(0.967,1)">X</text><text transform="translate(41.89,0) scale(0.973,1)">1</text></g><line x1="905.9" y1="178.44" x2="949.8" y2="178.44" stroke="#00BFFF" stroke-width="3.2"/><g transform="translate(964.4,185.64)" font-size="21" fill="#1a1a1a" stroke="#1a1a1a" stroke-width="0.3"><text transform="translate(0.27,0) scale(1.000,1)">D</text><text transform="translate(16.2,0) scale(0.829,1)">F</text><text transform="translate(27.46,0) scale(0.967,1)">X</text><text transform="translate(41.66,0) scale(0.982,1)">2</text></g><line x1="905.9" y1="208.1" x2="949.8" y2="208.1" stroke="#00FFFF" stroke-width="3.2"/><g transform="translate(964.4,215.3)" font-size="21" fill="#1a1a1a" stroke="#1a1a1a" stroke-width="0.3"><text transform="translate(0.27,0) scale(1.000,1)">D</text><text transform="translate(16.2,0) scale(0.829,1)">F</text><text transform="translate(27.46,0) scale(0.967,1)">X</text><text transform="translate(41.98,0) scale(0.979,1)">3</text></g></g>
<g stroke="#d9d9d9" stroke-width="1" stroke-dasharray="3.4 1.96"><line x1="266.42" y1="876.3" x2="266.42" y2="518.2"/><line x1="461.04" y1="876.3" x2="461.04" y2="518.2"/><line x1="655.66" y1="876.3" x2="655.66" y2="518.2"/><line x1="850.28" y1="876.3" x2="850.28" y2="518.2"/><line x1="71.8" y1="831.54" x2="1044.9" y2="831.54" stroke-dashoffset="-0.8"/><line x1="71.8" y1="786.77" x2="1044.9" y2="786.77" stroke-dashoffset="-0.8"/><line x1="71.8" y1="742.01" x2="1044.9" y2="742.01" stroke-dashoffset="-0.8"/><line x1="71.8" y1="697.25" x2="1044.9" y2="697.25" stroke-dashoffset="-0.8"/><line x1="71.8" y1="652.49" x2="1044.9" y2="652.49" stroke-dashoffset="-0.8"/><line x1="71.8" y1="607.73" x2="1044.9" y2="607.73" stroke-dashoffset="-0.8"/><line x1="71.8" y1="562.96" x2="1044.9" y2="562.96" stroke-dashoffset="-0.8"/></g>
<g stroke="#0a0a0a" stroke-width="1.6"><line x1="71.8" y1="876.3" x2="71.8" y2="870.5"/><line x1="266.42" y1="876.3" x2="266.42" y2="870.5"/><line x1="461.04" y1="876.3" x2="461.04" y2="870.5"/><line x1="655.66" y1="876.3" x2="655.66" y2="870.5"/><line x1="850.28" y1="876.3" x2="850.28" y2="870.5"/><line x1="1044.9" y1="876.3" x2="1044.9" y2="870.5"/><line x1="71.8" y1="876.3" x2="77.6" y2="876.3"/><line x1="71.8" y1="831.54" x2="77.6" y2="831.54"/><line x1="71.8" y1="786.77" x2="77.6" y2="786.77"/><line x1="71.8" y1="742.01" x2="77.6" y2="742.01"/><line x1="71.8" y1="697.25" x2="77.6" y2="697.25"/><line x1="71.8" y1="652.49" x2="77.6" y2="652.49"/><line x1="71.8" y1="607.73" x2="77.6" y2="607.73"/><line x1="71.8" y1="562.96" x2="77.6" y2="562.96"/><line x1="71.8" y1="518.2" x2="77.6" y2="518.2"/></g>
<g><polyline fill="none" stroke="#FFA500" stroke-width="3.2" stroke-linejoin="round" points="71.8,875.32 75.69,875.32 79.58,875.32 83.48,875.31 87.37,875.31 91.26,875.31 95.15,875.31 99.05,875.31 102.94,875.31 106.83,875.31 110.72,875.31 114.62,875.31 118.51,875.31 122.4,875.31 126.29,875.31 130.19,875.31 134.08,875.31 137.97,875.31 141.86,875.31 145.76,875.31 149.65,875.31 153.54,875.31 157.43,875.31 161.33,875.3 165.22,875.3 169.11,875.3 173,875.3 176.89,875.29 180.79,875.29 184.68,875.28 188.57,875.28 192.46,875.27 196.36,875.27 200.25,875.26 204.14,875.25 208.03,875.24 211.93,875.22 215.82,875.21 219.71,875.19 223.6,875.17 227.5,875.14 231.39,875.12 235.28,875.09 239.17,875.05 243.07,875.01 246.96,874.96 250.85,874.91 254.74,874.85 258.64,874.79 262.53,874.71 266.42,874.62 270.31,874.53 274.2,874.42 278.1,874.3 281.99,874.16 285.88,874 289.77,873.83 293.67,873.64 297.56,873.43 301.45,873.19 305.34,872.93 309.24,872.63 313.13,872.31 317.02,871.96 320.91,871.56 324.81,871.13 328.7,870.66 332.59,870.14 336.48,869.57 340.38,868.95 344.27,868.28 348.16,867.54 352.05,866.75 355.95,865.88 359.84,864.95 363.73,863.94 367.62,862.86 371.51,861.69 375.41,860.44 379.3,859.09 383.19,857.66 387.08,856.13 390.98,854.49 394.87,852.76 398.76,850.92 402.65,848.97 406.55,846.92 410.44,844.75 414.33,842.46 418.22,840.07 422.12,837.56 426.01,834.93 429.9,832.2 433.79,829.35 437.69,826.39 441.58,823.32 445.47,820.15 449.36,816.88 453.26,813.51 457.15,810.06 461.04,806.52 464.93,802.9 468.82,799.22 472.72,795.48 476.61,791.69 480.5,787.86 484.39,783.99 488.29,780.12 492.18,776.23 496.07,772.35 499.96,768.49 503.86,764.66 507.75,760.88 511.64,757.16 515.53,753.52 519.43,749.96 523.32,746.5 527.21,743.16 531.1,739.95 535,736.88 538.89,733.97 542.78,731.23 546.67,728.68 550.57,726.31 554.46,724.15 558.35,722.2 562.24,720.48 566.13,718.98 570.03,717.73 573.92,716.72 577.81,715.95 581.7,715.44 585.6,715.19 589.49,715.19 593.38,715.44 597.27,715.95 601.17,716.72 605.06,717.73 608.95,718.98 612.84,720.48 616.74,722.2 620.63,724.15 624.52,726.31 628.41,728.68 632.31,731.23 636.2,733.97 640.09,736.88 643.98,739.95 647.88,743.16 651.77,746.5 655.66,749.96 659.55,753.52 663.44,757.16 667.34,760.88 671.23,764.66 675.12,768.49 679.01,772.35 682.91,776.23 686.8,780.12 690.69,783.99 694.58,787.86 698.48,791.69 702.37,795.48 706.26,799.22 710.15,802.9 714.05,806.52 717.94,810.06 721.83,813.51 725.72,816.88 729.62,820.15 733.51,823.32 737.4,826.39 741.29,829.35 745.19,832.2 749.08,834.93 752.97,837.56 756.86,840.07 760.75,842.46 764.65,844.75 768.54,846.92 772.43,848.97 776.32,850.92 780.22,852.76 784.11,854.49 788,856.13 791.89,857.66 795.79,859.09 799.68,860.44 803.57,861.69 807.46,862.86 811.36,863.94 815.25,864.95 819.14,865.88 823.03,866.75 826.93,867.54 830.82,868.28 834.71,868.95 838.6,869.57 842.5,870.14 846.39,870.66 850.28,871.13 854.17,871.56 858.06,871.96 861.96,872.31 865.85,872.63 869.74,872.93 873.63,873.19 877.53,873.43 881.42,873.64 885.31,873.83 889.2,874 893.1,874.16 896.99,874.3 900.88,874.42 904.77,874.53 908.67,874.62 912.56,874.71 916.45,874.79 920.34,874.85 924.24,874.91 928.13,874.96 932.02,875.01 935.91,875.05 939.81,875.09 943.7,875.12 947.59,875.14 951.48,875.17 955.37,875.19 959.27,875.21 963.16,875.22 967.05,875.24 970.94,875.25 974.84,875.26 978.73,875.27 982.62,875.27 986.51,875.28 990.41,875.28 994.3,875.29 998.19,875.29 1002.08,875.3 1005.98,875.3 1009.87,875.3 1013.76,875.3 1017.65,875.31 1021.55,875.31 1025.44,875.31 1029.33,875.31 1033.22,875.31 1037.12,875.31 1041.01,875.31 1044.9,875.31"/><polyline fill="none" stroke="#8B4513" stroke-width="3.2" stroke-linejoin="round" points="71.8,875.31 75.69,875.31 79.58,875.31 83.48,875.31 87.37,875.31 91.26,875.31 95.15,875.31 99.05,875.31 102.94,875.31 106.83,875.31 110.72,875.31 114.62,875.31 118.51,875.31 122.4,875.31 126.29,875.31 130.19,875.31 134.08,875.31 137.97,875.31 141.86,875.3 145.76,875.3 149.65,875.3 153.54,875.3 157.43,875.29 161.33,875.29 165.22,875.29 169.11,875.28 173,875.27 176.89,875.27 180.79,875.26 184.68,875.25 188.57,875.24 192.46,875.22 196.36,875.21 200.25,875.19 204.14,875.17 208.03,875.15 211.93,875.12 215.82,875.09 219.71,875.06 223.6,875.02 227.5,874.97 231.39,874.92 235.28,874.87 239.17,874.8 243.07,874.73 246.96,874.64 250.85,874.55 254.74,874.44 258.64,874.32 262.53,874.19 266.42,874.04 270.31,873.87 274.2,873.69 278.1,873.48 281.99,873.25 285.88,872.99 289.77,872.71 293.67,872.4 297.56,872.05 301.45,871.67 305.34,871.25 309.24,870.79 313.13,870.28 317.02,869.73 320.91,869.13 324.81,868.47 328.7,867.76 332.59,866.99 336.48,866.15 340.38,865.24 344.27,864.26 348.16,863.21 352.05,862.07 355.95,860.85 359.84,859.55 363.73,858.15 367.62,856.66 371.51,855.08 375.41,853.39 379.3,851.6 383.19,849.71 387.08,847.71 390.98,845.6 394.87,843.38 398.76,841.05 402.65,838.61 406.55,836.06 410.44,833.4 414.33,830.63 418.22,827.75 422.12,824.77 426.01,821.69 429.9,818.51 433.79,815.24 437.69,811.88 441.58,808.44 445.47,804.93 449.36,801.35 453.26,797.71 457.15,794.02 461.04,790.3 464.93,786.55 468.82,782.78 472.72,779 476.61,775.23 480.5,771.48 484.39,767.76 488.29,764.08 492.18,760.47 496.07,756.92 499.96,753.46 503.86,750.1 507.75,746.85 511.64,743.73 515.53,740.75 519.43,737.92 523.32,735.26 527.21,732.77 531.1,730.48 535,728.37 538.89,726.48 542.78,724.81 546.67,723.35 550.57,722.13 554.46,721.15 558.35,720.41 562.24,719.91 566.13,719.66 570.03,719.66 573.92,719.91 577.81,720.41 581.7,721.15 585.6,722.13 589.49,723.35 593.38,724.81 597.27,726.48 601.17,728.37 605.06,730.48 608.95,732.77 612.84,735.26 616.74,737.92 620.63,740.75 624.52,743.73 628.41,746.85 632.31,750.1 636.2,753.46 640.09,756.92 643.98,760.47 647.88,764.08 651.77,767.76 655.66,771.48 659.55,775.23 663.44,779 667.34,782.78 671.23,786.55 675.12,790.3 679.01,794.02 682.91,797.71 686.8,801.35 690.69,804.93 694.58,808.44 698.48,811.88 702.37,815.24 706.26,818.51 710.15,821.69 714.05,824.77 717.94,827.75 721.83,830.63 725.72,833.4 729.62,836.06 733.51,838.61 737.4,841.05 741.29,843.38 745.19,845.6 749.08,847.71 752.97,849.71 756.86,851.6 760.75,853.39 764.65,855.08 768.54,856.66 772.43,858.15 776.32,859.55 780.22,860.85 784.11,862.07 788,863.21 791.89,864.26 795.79,865.24 799.68,866.15 803.57,866.99 807.46,867.76 811.36,868.47 815.25,869.13 819.14,869.73 823.03,870.28 826.93,870.79 830.82,871.25 834.71,871.67 838.6,872.05 842.5,872.4 846.39,872.71 850.28,872.99 854.17,873.25 858.06,873.48 861.96,873.69 865.85,873.87 869.74,874.04 873.63,874.19 877.53,874.32 881.42,874.44 885.31,874.55 889.2,874.64 893.1,874.73 896.99,874.8 900.88,874.87 904.77,874.92 908.67,874.97 912.56,875.02 916.45,875.06 920.34,875.09 924.24,875.12 928.13,875.15 932.02,875.17 935.91,875.19 939.81,875.21 943.7,875.22 947.59,875.24 951.48,875.25 955.37,875.26 959.27,875.27 963.16,875.27 967.05,875.28 970.94,875.29 974.84,875.29 978.73,875.29 982.62,875.3 986.51,875.3 990.41,875.3 994.3,875.3 998.19,875.31 1002.08,875.31 1005.98,875.31 1009.87,875.31 1013.76,875.31 1017.65,875.31 1021.55,875.31 1025.44,875.31 1029.33,875.31 1033.22,875.31 1037.12,875.31 1041.01,875.31 1044.9,875.31"/><polyline fill="none" stroke="#FF0000" stroke-width="3.2" stroke-linejoin="round" points="71.8,875.32 75.69,875.32 79.58,875.32 83.48,875.32 87.37,875.32 91.26,875.32 95.15,875.32 99.05,875.32 102.94,875.32 106.83,875.31 110.72,875.31 114.62,875.31 118.51,875.31 122.4,875.31 126.29,875.31 130.19,875.31 134.08,875.31 137.97,875.31 141.86,875.31 145.76,875.31 149.65,875.31 153.54,875.31 157.43,875.31 161.33,875.31 165.22,875.31 169.11,875.31 173,875.31 176.89,875.31 180.79,875.31 184.68,875.3 188.57,875.3 192.46,875.3 196.36,875.3 200.25,875.29 204.14,875.29 208.03,875.28 211.93,875.28 215.82,875.27 219.71,875.26 223.6,875.25 227.5,875.24 231.39,875.23 235.28,875.22 239.17,875.2 243.07,875.18 246.96,875.16 250.85,875.13 254.74,875.11 258.64,875.07 262.53,875.04 266.42,874.99 270.31,874.95 274.2,874.89 278.1,874.83 281.99,874.76 285.88,874.68 289.77,874.59 293.67,874.49 297.56,874.38 301.45,874.25 305.34,874.11 309.24,873.96 313.13,873.78 317.02,873.58 320.91,873.37 324.81,873.13 328.7,872.86 332.59,872.56 336.48,872.24 340.38,871.88 344.27,871.48 348.16,871.05 352.05,870.57 355.95,870.05 359.84,869.49 363.73,868.87 367.62,868.2 371.51,867.47 375.41,866.68 379.3,865.82 383.19,864.9 387.08,863.9 390.98,862.83 394.87,861.68 398.76,860.45 402.65,859.14 406.55,857.73 410.44,856.24 414.33,854.65 418.22,852.97 422.12,851.18 426.01,849.3 429.9,847.31 433.79,845.22 437.69,843.02 441.58,840.72 445.47,838.32 449.36,835.81 453.26,833.2 457.15,830.49 461.04,827.68 464.93,824.77 468.82,821.78 472.72,818.69 476.61,815.53 480.5,812.29 484.39,808.97 488.29,805.6 492.18,802.17 496.07,798.7 499.96,795.19 503.86,791.65 507.75,788.1 511.64,784.54 515.53,780.98 519.43,777.45 523.32,773.94 527.21,770.48 531.1,767.07 535,763.73 538.89,760.47 542.78,757.3 546.67,754.24 550.57,751.3 554.46,748.49 558.35,745.83 562.24,743.31 566.13,740.97 570.03,738.8 573.92,736.82 577.81,735.04 581.7,733.46 585.6,732.09 589.49,730.94 593.38,730.01 597.27,729.32 601.17,728.85 605.06,728.61 608.95,728.61 612.84,728.85 616.74,729.32 620.63,730.01 624.52,730.94 628.41,732.09 632.31,733.46 636.2,735.04 640.09,736.82 643.98,738.8 647.88,740.97 651.77,743.31 655.66,745.83 659.55,748.49 663.44,751.3 667.34,754.24 671.23,757.3 675.12,760.47 679.01,763.73 682.91,767.07 686.8,770.48 690.69,773.94 694.58,777.45 698.48,780.98 702.37,784.54 706.26,788.1 710.15,791.65 714.05,795.19 717.94,798.7 721.83,802.17 725.72,805.6 729.62,808.97 733.51,812.29 737.4,815.53 741.29,818.69 745.19,821.78 749.08,824.77 752.97,827.68 756.86,830.49 760.75,833.2 764.65,835.81 768.54,838.32 772.43,840.72 776.32,843.02 780.22,845.22 784.11,847.31 788,849.3 791.89,851.18 795.79,852.97 799.68,854.65 803.57,856.24 807.46,857.73 811.36,859.14 815.25,860.45 819.14,861.68 823.03,862.83 826.93,863.9 830.82,864.9 834.71,865.82 838.6,866.68 842.5,867.47 846.39,868.2 850.28,868.87 854.17,869.49 858.06,870.05 861.96,870.57 865.85,871.05 869.74,871.48 873.63,871.88 877.53,872.24 881.42,872.56 885.31,872.86 889.2,873.13 893.1,873.37 896.99,873.58 900.88,873.78 904.77,873.96 908.67,874.11 912.56,874.25 916.45,874.38 920.34,874.49 924.24,874.59 928.13,874.68 932.02,874.76 935.91,874.83 939.81,874.89 943.7,874.95 947.59,874.99 951.48,875.04 955.37,875.07 959.27,875.11 963.16,875.13 967.05,875.16 970.94,875.18 974.84,875.2 978.73,875.22 982.62,875.23 986.51,875.24 990.41,875.25 994.3,875.26 998.19,875.27 1002.08,875.28 1005.98,875.28 1009.87,875.29 1013.76,875.29 1017.65,875.3 1021.55,875.3 1025.44,875.3 1029.33,875.3 1033.22,875.31 1037.12,875.31 1041.01,875.31 1044.9,875.31"/><polyline fill="none" stroke="#FF00FF" stroke-width="3.2" stroke-linejoin="round" points="71.8,875.32 75.69,875.32 79.58,875.32 83.48,875.32 87.37,875.32 91.26,875.32 95.15,875.32 99.05,875.32 102.94,875.32 106.83,875.32 110.72,875.32 114.62,875.32 118.51,875.32 122.4,875.31 126.29,875.31 130.19,875.31 134.08,875.31 137.97,875.31 141.86,875.31 145.76,875.31 149.65,875.31 153.54,875.31 157.43,875.31 161.33,875.31 165.22,875.31 169.11,875.31 173,875.31 176.89,875.31 180.79,875.31 184.68,875.31 188.57,875.31 192.46,875.31 196.36,875.31 200.25,875.3 204.14,875.3 208.03,875.3 211.93,875.3 215.82,875.29 219.71,875.29 223.6,875.29 227.5,875.28 231.39,875.28 235.28,875.27 239.17,875.26 243.07,875.25 246.96,875.24 250.85,875.23 254.74,875.21 258.64,875.2 262.53,875.18 266.42,875.15 270.31,875.13 274.2,875.1 278.1,875.07 281.99,875.03 285.88,874.98 289.77,874.94 293.67,874.88 297.56,874.82 301.45,874.74 305.34,874.66 309.24,874.57 313.13,874.47 317.02,874.35 320.91,874.22 324.81,874.08 328.7,873.91 332.59,873.73 336.48,873.53 340.38,873.31 344.27,873.06 348.16,872.78 352.05,872.48 355.95,872.14 359.84,871.77 363.73,871.37 367.62,870.92 371.51,870.43 375.41,869.89 379.3,869.31 383.19,868.67 387.08,867.98 390.98,867.23 394.87,866.41 398.76,865.53 402.65,864.58 406.55,863.55 410.44,862.45 414.33,861.27 418.22,860 422.12,858.64 426.01,857.2 429.9,855.66 433.79,854.02 437.69,852.28 441.58,850.45 445.47,848.5 449.36,846.46 453.26,844.3 457.15,842.04 461.04,839.67 464.93,837.19 468.82,834.61 472.72,831.92 476.61,829.12 480.5,826.23 484.39,823.23 488.29,820.14 492.18,816.97 496.07,813.7 499.96,810.36 503.86,806.95 507.75,803.47 511.64,799.94 515.53,796.36 519.43,792.74 523.32,789.1 527.21,785.44 531.1,781.77 535,778.11 538.89,774.46 542.78,770.85 546.67,767.28 550.57,763.77 554.46,760.32 558.35,756.96 562.24,753.7 566.13,750.55 570.03,747.52 573.92,744.62 577.81,741.87 581.7,739.29 585.6,736.87 589.49,734.64 593.38,732.6 597.27,730.76 601.17,729.13 605.06,727.72 608.95,726.54 612.84,725.58 616.74,724.86 620.63,724.38 624.52,724.14 628.41,724.14 632.31,724.38 636.2,724.86 640.09,725.58 643.98,726.54 647.88,727.72 651.77,729.13 655.66,730.76 659.55,732.6 663.44,734.64 667.34,736.87 671.23,739.29 675.12,741.87 679.01,744.62 682.91,747.52 686.8,750.55 690.69,753.7 694.58,756.96 698.48,760.32 702.37,763.77 706.26,767.28 710.15,770.85 714.05,774.46 717.94,778.11 721.83,781.77 725.72,785.44 729.62,789.1 733.51,792.74 737.4,796.36 741.29,799.94 745.19,803.47 749.08,806.95 752.97,810.36 756.86,813.7 760.75,816.97 764.65,820.14 768.54,823.23 772.43,826.23 776.32,829.12 780.22,831.92 784.11,834.61 788,837.19 791.89,839.67 795.79,842.04 799.68,844.3 803.57,846.46 807.46,848.5 811.36,850.45 815.25,852.28 819.14,854.02 823.03,855.66 826.93,857.2 830.82,858.64 834.71,860 838.6,861.27 842.5,862.45 846.39,863.55 850.28,864.58 854.17,865.53 858.06,866.41 861.96,867.23 865.85,867.98 869.74,868.67 873.63,869.31 877.53,869.89 881.42,870.43 885.31,870.92 889.2,871.37 893.1,871.77 896.99,872.14 900.88,872.48 904.77,872.78 908.67,873.06 912.56,873.31 916.45,873.53 920.34,873.73 924.24,873.91 928.13,874.08 932.02,874.22 935.91,874.35 939.81,874.47 943.7,874.57 947.59,874.66 951.48,874.74 955.37,874.82 959.27,874.88 963.16,874.94 967.05,874.98 970.94,875.03 974.84,875.07 978.73,875.1 982.62,875.13 986.51,875.15 990.41,875.18 994.3,875.2 998.19,875.21 1002.08,875.23 1005.98,875.24 1009.87,875.25 1013.76,875.26 1017.65,875.27 1021.55,875.28 1025.44,875.28 1029.33,875.29 1033.22,875.29 1037.12,875.29 1041.01,875.3 1044.9,875.3"/><polyline fill="none" stroke="#00BFFF" stroke-width="3.2" stroke-linejoin="round" points="71.8,875.32 75.69,875.32 79.58,875.32 83.48,875.32 87.37,875.32 91.26,875.32 95.15,875.32 99.05,875.32 102.94,875.32 106.83,875.32 110.72,875.32 114.62,875.32 118.51,875.32 122.4,875.32 126.29,875.32 130.19,875.32 134.08,875.32 137.97,875.32 141.86,875.31 145.76,875.31 149.65,875.31 153.54,875.31 157.43,875.31 161.33,875.31 165.22,875.31 169.11,875.31 173,875.31 176.89,875.31 180.79,875.31 184.68,875.31 188.57,875.31 192.46,875.31 196.36,875.31 200.25,875.31 204.14,875.31 208.03,875.31 211.93,875.31 215.82,875.31 219.71,875.3 223.6,875.3 227.5,875.3 231.39,875.3 235.28,875.29 239.17,875.29 243.07,875.29 246.96,875.28 250.85,875.27 254.74,875.27 258.64,875.26 262.53,875.25 266.42,875.24 270.31,875.22 274.2,875.21 278.1,875.19 281.99,875.17 285.88,875.15 289.77,875.12 293.67,875.09 297.56,875.06 301.45,875.02 305.34,874.97 309.24,874.92 313.13,874.87 317.02,874.8 320.91,874.73 324.81,874.64 328.7,874.55 332.59,874.44 336.48,874.32 340.38,874.19 344.27,874.04 348.16,873.87 352.05,873.69 355.95,873.48 359.84,873.25 363.73,872.99 367.62,872.71 371.51,872.4 375.41,872.05 379.3,871.67 383.19,871.25 387.08,870.79 390.98,870.28 394.87,869.73 398.76,869.13 402.65,868.47 406.55,867.76 410.44,866.99 414.33,866.15 418.22,865.24 422.12,864.26 426.01,863.21 429.9,862.07 433.79,860.85 437.69,859.55 441.58,858.15 445.47,856.66 449.36,855.08 453.26,853.39 457.15,851.6 461.04,849.71 464.93,847.71 468.82,845.6 472.72,843.38 476.61,841.05 480.5,838.61 484.39,836.06 488.29,833.4 492.18,830.63 496.07,827.75 499.96,824.77 503.86,821.69 507.75,818.51 511.64,815.24 515.53,811.88 519.43,808.44 523.32,804.93 527.21,801.35 531.1,797.71 535,794.02 538.89,790.3 542.78,786.55 546.67,782.78 550.57,779 554.46,775.23 558.35,771.48 562.24,767.76 566.13,764.08 570.03,760.47 573.92,756.92 577.81,753.46 581.7,750.1 585.6,746.85 589.49,743.73 593.38,740.75 597.27,737.92 601.17,735.26 605.06,732.77 608.95,730.48 612.84,728.37 616.74,726.48 620.63,724.81 624.52,723.35 628.41,722.13 632.31,721.15 636.2,720.41 640.09,719.91 643.98,719.66 647.88,719.66 651.77,719.91 655.66,720.41 659.55,721.15 663.44,722.13 667.34,723.35 671.23,724.81 675.12,726.48 679.01,728.37 682.91,730.48 686.8,732.77 690.69,735.26 694.58,737.92 698.48,740.75 702.37,743.73 706.26,746.85 710.15,750.1 714.05,753.46 717.94,756.92 721.83,760.47 725.72,764.08 729.62,767.76 733.51,771.48 737.4,775.23 741.29,779 745.19,782.78 749.08,786.55 752.97,790.3 756.86,794.02 760.75,797.71 764.65,801.35 768.54,804.93 772.43,808.44 776.32,811.88 780.22,815.24 784.11,818.51 788,821.69 791.89,824.77 795.79,827.75 799.68,830.63 803.57,833.4 807.46,836.06 811.36,838.61 815.25,841.05 819.14,843.38 823.03,845.6 826.93,847.71 830.82,849.71 834.71,851.6 838.6,853.39 842.5,855.08 846.39,856.66 850.28,858.15 854.17,859.55 858.06,860.85 861.96,862.07 865.85,863.21 869.74,864.26 873.63,865.24 877.53,866.15 881.42,866.99 885.31,867.76 889.2,868.47 893.1,869.13 896.99,869.73 900.88,870.28 904.77,870.79 908.67,871.25 912.56,871.67 916.45,872.05 920.34,872.4 924.24,872.71 928.13,872.99 932.02,873.25 935.91,873.48 939.81,873.69 943.7,873.87 947.59,874.04 951.48,874.19 955.37,874.32 959.27,874.44 963.16,874.55 967.05,874.64 970.94,874.73 974.84,874.8 978.73,874.87 982.62,874.92 986.51,874.97 990.41,875.02 994.3,875.06 998.19,875.09 1002.08,875.12 1005.98,875.15 1009.87,875.17 1013.76,875.19 1017.65,875.21 1021.55,875.22 1025.44,875.24 1029.33,875.25 1033.22,875.26 1037.12,875.27 1041.01,875.27 1044.9,875.28"/><polyline fill="none" stroke="#00FFFF" stroke-width="3.2" stroke-linejoin="round" points="71.8,875.32 75.69,875.32 79.58,875.32 83.48,875.32 87.37,875.32 91.26,875.32 95.15,875.32 99.05,875.32 102.94,875.32 106.83,875.32 110.72,875.32 114.62,875.32 118.51,875.32 122.4,875.32 126.29,875.32 130.19,875.32 134.08,875.32 137.97,875.32 141.86,875.32 145.76,875.32 149.65,875.32 153.54,875.32 157.43,875.32 161.33,875.31 165.22,875.31 169.11,875.31 173,875.31 176.89,875.31 180.79,875.31 184.68,875.31 188.57,875.31 192.46,875.31 196.36,875.31 200.25,875.31 204.14,875.31 208.03,875.31 211.93,875.31 215.82,875.31 219.71,875.31 223.6,875.31 227.5,875.31 231.39,875.31 235.28,875.31 239.17,875.3 243.07,875.3 246.96,875.3 250.85,875.3 254.74,875.29 258.64,875.29 262.53,875.29 266.42,875.28 270.31,875.28 274.2,875.27 278.1,875.26 281.99,875.25 285.88,875.24 289.77,875.23 293.67,875.21 297.56,875.2 301.45,875.18 305.34,875.15 309.24,875.13 313.13,875.1 317.02,875.07 320.91,875.03 324.81,874.98 328.7,874.94 332.59,874.88 336.48,874.82 340.38,874.74 344.27,874.66 348.16,874.57 352.05,874.47 355.95,874.35 359.84,874.22 363.73,874.08 367.62,873.91 371.51,873.73 375.41,873.53 379.3,873.31 383.19,873.06 387.08,872.78 390.98,872.48 394.87,872.14 398.76,871.77 402.65,871.37 406.55,870.92 410.44,870.43 414.33,869.89 418.22,869.31 422.12,868.67 426.01,867.98 429.9,867.23 433.79,866.41 437.69,865.53 441.58,864.58 445.47,863.55 449.36,862.45 453.26,861.27 457.15,860 461.04,858.64 464.93,857.2 468.82,855.66 472.72,854.02 476.61,852.28 480.5,850.45 484.39,848.5 488.29,846.46 492.18,844.3 496.07,842.04 499.96,839.67 503.86,837.19 507.75,834.61 511.64,831.92 515.53,829.12 519.43,826.23 523.32,823.23 527.21,820.14 531.1,816.97 535,813.7 538.89,810.36 542.78,806.95 546.67,803.47 550.57,799.94 554.46,796.36 558.35,792.74 562.24,789.1 566.13,785.44 570.03,781.77 573.92,778.11 577.81,774.46 581.7,770.85 585.6,767.28 589.49,763.77 593.38,760.32 597.27,756.96 601.17,753.7 605.06,750.55 608.95,747.52 612.84,744.62 616.74,741.87 620.63,739.29 624.52,736.87 628.41,734.64 632.31,732.6 636.2,730.76 640.09,729.13 643.98,727.72 647.88,726.54 651.77,725.58 655.66,724.86 659.55,724.38 663.44,724.14 667.34,724.14 671.23,724.38 675.12,724.86 679.01,725.58 682.91,726.54 686.8,727.72 690.69,729.13 694.58,730.76 698.48,732.6 702.37,734.64 706.26,736.87 710.15,739.29 714.05,741.87 717.94,744.62 721.83,747.52 725.72,750.55 729.62,753.7 733.51,756.96 737.4,760.32 741.29,763.77 745.19,767.28 749.08,770.85 752.97,774.46 756.86,778.11 760.75,781.77 764.65,785.44 768.54,789.1 772.43,792.74 776.32,796.36 780.22,799.94 784.11,803.47 788,806.95 791.89,810.36 795.79,813.7 799.68,816.97 803.57,820.14 807.46,823.23 811.36,826.23 815.25,829.12 819.14,831.92 823.03,834.61 826.93,837.19 830.82,839.67 834.71,842.04 838.6,844.3 842.5,846.46 846.39,848.5 850.28,850.45 854.17,852.28 858.06,854.02 861.96,855.66 865.85,857.2 869.74,858.64 873.63,860 877.53,861.27 881.42,862.45 885.31,863.55 889.2,864.58 893.1,865.53 896.99,866.41 900.88,867.23 904.77,867.98 908.67,868.67 912.56,869.31 916.45,869.89 920.34,870.43 924.24,870.92 928.13,871.37 932.02,871.77 935.91,872.14 939.81,872.48 943.7,872.78 947.59,873.06 951.48,873.31 955.37,873.53 959.27,873.73 963.16,873.91 967.05,874.08 970.94,874.22 974.84,874.35 978.73,874.47 982.62,874.57 986.51,874.66 990.41,874.74 994.3,874.82 998.19,874.88 1002.08,874.94 1005.98,874.98 1009.87,875.03 1013.76,875.07 1017.65,875.1 1021.55,875.13 1025.44,875.15 1029.33,875.18 1033.22,875.2 1037.12,875.21 1041.01,875.23 1044.9,875.24"/></g>
<rect x="71.8" y="518.2" width="973.1" height="358.1" fill="none" stroke="#0a0a0a" stroke-width="2.2"/>
<g><g transform="translate(71.8,897.5)" font-size="21" fill="#1a1a1a" stroke="#1a1a1a" stroke-width="0.3"><text transform="translate(-18.33,0) scale(0.964,1)">3</text><text transform="translate(-5.92,0) scale(0.968,1)">2</text><text transform="translate(6.86,0) scale(1.004,1)">0</text></g><g transform="translate(266.42,897.5)" font-size="21" fill="#1a1a1a" stroke="#1a1a1a" stroke-width="0.3"><text transform="translate(-18.33,0) scale(0.964,1)">3</text><text transform="translate(-5.87,0) scale(1.004,1)">4</text><text transform="translate(6.86,0) scale(1.004,1)">0</text></g><g transform="translate(461.04,897.5)" font-size="21" fill="#1a1a1a" stroke="#1a1a1a" stroke-width="0.3"><text transform="translate(-18.33,0) scale(0.964,1)">3</text><text transform="translate(-6.07,0) scale(1.039,1)">6</text><text transform="translate(6.86,0) scale(1.004,1)">0</text></g><g transform="translate(655.66,897.5)" font-size="21" fill="#1a1a1a" stroke="#1a1a1a" stroke-width="0.3"><text transform="translate(-18.33,0) scale(0.964,1)">3</text><text transform="translate(-5.93,0) scale(1.015,1)">8</text><text transform="translate(6.86,0) scale(1.004,1)">0</text></g><g transform="translate(850.28,897.5)" font-size="21" fill="#1a1a1a" stroke="#1a1a1a" stroke-width="0.3"><text transform="translate(-18.59,0) scale(1.004,1)">4</text><text transform="translate(-5.87,0) scale(1.004,1)">0</text><text transform="translate(6.86,0) scale(1.004,1)">0</text></g><g transform="translate(1044.9,897.5)" font-size="21" fill="#1a1a1a" stroke="#1a1a1a" stroke-width="0.3"><text transform="translate(-18.59,0) scale(1.004,1)">4</text><text transform="translate(-5.92,0) scale(0.968,1)">2</text><text transform="translate(6.86,0) scale(1.004,1)">0</text></g><g transform="translate(65.2,883.6)" font-size="21" fill="#1a1a1a" stroke="#1a1a1a" stroke-width="0.3"><text transform="translate(-12.23,0) scale(1.004,1)">0</text></g><g transform="translate(65.2,838.84)" font-size="21" fill="#1a1a1a" stroke="#1a1a1a" stroke-width="0.3"><text transform="translate(-24.79,0) scale(0.959,1)">1</text><text transform="translate(-12.23,0) scale(1.004,1)">0</text></g><g transform="translate(65.2,794.07)" font-size="21" fill="#1a1a1a" stroke="#1a1a1a" stroke-width="0.3"><text transform="translate(-25.01,0) scale(0.968,1)">2</text><text transform="translate(-12.23,0) scale(1.004,1)">0</text></g><g transform="translate(65.2,749.31)" font-size="21" fill="#1a1a1a" stroke="#1a1a1a" stroke-width="0.3"><text transform="translate(-24.7,0) scale(0.964,1)">3</text><text transform="translate(-12.23,0) scale(1.004,1)">0</text></g><g transform="translate(65.2,704.55)" font-size="21" fill="#1a1a1a" stroke="#1a1a1a" stroke-width="0.3"><text transform="translate(-24.96,0) scale(1.004,1)">4</text><text transform="translate(-12.23,0) scale(1.004,1)">0</text></g><g transform="translate(65.2,659.79)" font-size="21" fill="#1a1a1a" stroke="#1a1a1a" stroke-width="0.3"><text transform="translate(-24.7,0) scale(0.947,1)">5</text><text transform="translate(-12.23,0) scale(1.004,1)">0</text></g><g transform="translate(65.2,615.02)" font-size="21" fill="#1a1a1a" stroke="#1a1a1a" stroke-width="0.3"><text transform="translate(-25.16,0) scale(1.039,1)">6</text><text transform="translate(-12.23,0) scale(1.004,1)">0</text></g><g transform="translate(65.2,570.26)" font-size="21" fill="#1a1a1a" stroke="#1a1a1a" stroke-width="0.3"><text transform="translate(-24.87,0) scale(0.982,1)">7</text><text transform="translate(-12.23,0) scale(1.004,1)">0</text></g><g transform="translate(65.2,525.5)" font-size="21" fill="#1a1a1a" stroke="#1a1a1a" stroke-width="0.3"><text transform="translate(-25.02,0) scale(1.015,1)">8</text><text transform="translate(-12.23,0) scale(1.004,1)">0</text></g></g>
<g transform="translate(558.35,923.7)" font-size="21" fill="#1a1a1a" stroke="#1a1a1a" stroke-width="0.3"><text transform="translate(-91.97,0) scale(0.897,1)">C</text><text transform="translate(-77.86,0) scale(1.239,1)">r</text><text transform="translate(-69.19,0) scale(0.869,1)">a</text><text transform="translate(-56.8,0) scale(1.042,1)">n</text><text transform="translate(-44.01,0) scale(1.081,1)">k</text><text transform="translate(-26,0) scale(0.974,1)">A</text><text transform="translate(-11.84,0) scale(1.042,1)">n</text><text transform="translate(0.83,0) scale(1.051,1)">g</text><text transform="translate(14.03,0) scale(0.988,1)">l</text><text transform="translate(19.35,0) scale(1.044,1)">e</text><text transform="translate(38.78,0) scale(0.817,1)">(</text><text transform="translate(46.62,0) scale(1.068,1)">°</text><text transform="translate(56.35,0) scale(0.897,1)">C</text><text transform="translate(70.46,0) scale(0.974,1)">A</text><text transform="translate(85.76,0) scale(0.817,1)">)</text></g>
<g transform="translate(28.9,697.25) rotate(-90)" font-size="21" fill="#1a1a1a" stroke="#1a1a1a" stroke-width="0.3"><text transform="translate(-128.77,0) scale(1.022,1)">I</text><text transform="translate(-122.41,0) scale(1.042,1)">n</text><text transform="translate(-109.91,0) scale(1.042,1)">-</text><text transform="translate(-102.35,0) scale(0.970,1)">c</text><text transform="translate(-90.89,0) scale(1.038,1)">y</text><text transform="translate(-78.92,0) scale(0.988,1)">l</text><text transform="translate(-73.27,0) scale(0.988,1)">i</text><text transform="translate(-67.76,0) scale(1.042,1)">n</text><text transform="translate(-55.09,0) scale(1.051,1)">d</text><text transform="translate(-42.21,0) scale(1.044,1)">e</text><text transform="translate(-29.79,0) scale(1.239,1)">r</text><text transform="translate(-14.59,0) scale(0.855,1)">P</text><text transform="translate(-2.75,0) scale(1.239,1)">r</text><text transform="translate(5.67,0) scale(1.044,1)">e</text><text transform="translate(18.52,0) scale(0.927,1)">s</text><text transform="translate(29.1,0) scale(0.927,1)">s</text><text transform="translate(39.42,0) scale(1.042,1)">u</text><text transform="translate(52.1,0) scale(1.239,1)">r</text><text transform="translate(60.52,0) scale(1.044,1)">e</text><text transform="translate(79.95,0) scale(0.817,1)">(</text><text transform="translate(87.61,0) scale(1.052,1)">b</text><text transform="translate(100.52,0) scale(0.869,1)">a</text><text transform="translate(112.63,0) scale(1.239,1)">r</text><text transform="translate(122.39,0) scale(0.817,1)">)</text></g>
<g transform="translate(558.35,507.6)" font-size="28.4" font-weight="bold" fill="#333" stroke="#333" stroke-width="0.5"><text transform="translate(-122.84,0) scale(1.008,1)">P</text><text transform="translate(-103.42,0) scale(1.148,1)">-</text><text transform="translate(-92.82,0) scale(1.264,1)">θ</text><text transform="translate(-64.12,0) scale(0.986,1)">a</text><text transform="translate(-46.3,0) scale(1.350,1)">t</text><text transform="translate(-22.82,0) scale(1.046,1)">2</text><text transform="translate(-3.97,0) scale(1.049,1)">5</text><text transform="translate(13.76,0) scale(1.064,1)">%</text><text transform="translate(50.75,0) scale(0.960,1)">L</text><text transform="translate(67.27,0) scale(1.073,1)">o</text><text transform="translate(86.19,0) scale(0.986,1)">a</text><text transform="translate(103.99,0) scale(1.107,1)">d</text></g>
<rect x="899.2" y="528" width="135.4" height="184.3" rx="4.5" fill="#fff" fill-opacity="0.8" stroke="#c8c8c8" stroke-width="1.2"/>
<g><line x1="905.9" y1="545" x2="949.8" y2="545" stroke="#FFA500" stroke-width="3.2"/><g transform="translate(964.4,552.2)" font-size="21" fill="#1a1a1a" stroke="#1a1a1a" stroke-width="0.3"><text transform="translate(0.27,0) scale(1.000,1)">D</text><text transform="translate(16.16,0) scale(0.988,1)">i</text><text transform="translate(21.46,0) scale(1.044,1)">e</text><text transform="translate(34.32,0) scale(0.927,1)">s</text><text transform="translate(44.53,0) scale(1.044,1)">e</text><text transform="translate(57.34,0) scale(0.988,1)">l</text></g><line x1="905.9" y1="574.66" x2="949.8" y2="574.66" stroke="#8B4513" stroke-width="3.2"/><g transform="translate(964.4,581.86)" font-size="21" fill="#1a1a1a" stroke="#1a1a1a" stroke-width="0.3"><text transform="translate(-1.31,0) scale(0.600,1)">J</text><text transform="translate(6.32,0) scale(0.964,1)">M</text><text transform="translate(24.05,0) scale(0.838,1)">E</text><text transform="translate(36.78,0) scale(0.982,1)">2</text><text transform="translate(49.75,0) scale(1.019,1)">0</text></g><line x1="905.9" y1="604.32" x2="949.8" y2="604.32" stroke="#FF0000" stroke-width="3.2"/><g transform="translate(964.4,611.52)" font-size="21" fill="#1a1a1a" stroke="#1a1a1a" stroke-width="0.3"><text transform="translate(0.27,0) scale(1.000,1)">D</text><text transform="translate(16.2,0) scale(0.829,1)">F</text><text transform="translate(27.46,0) scale(0.967,1)">X</text></g><line x1="905.9" y1="633.98" x2="949.8" y2="633.98" stroke="#FF00FF" stroke-width="3.2"/><g transform="translate(964.4,641.18)" font-size="21" fill="#1a1a1a" stroke="#1a1a1a" stroke-width="0.3"><text transform="translate(0.27,0) scale(1.000,1)">D</text><text transform="translate(16.2,0) scale(0.829,1)">F</text><text transform="translate(27.46,0) scale(0.967,1)">X</text><text transform="translate(41.89,0) scale(0.973,1)">1</text></g><line x1="905.9" y1="663.64" x2="949.8" y2="663.64" stroke="#00BFFF" stroke-width="3.2"/><g transform="translate(964.4,670.84)" font-size="21" fill="#1a1a1a" stroke="#1a1a1a" stroke-width="0.3"><text transform="translate(0.27,0) scale(1.000,1)">D</text><text transform="translate(16.2,0) scale(0.829,1)">F</text><text transform="translate(27.46,0) scale(0.967,1)">X</text><text transform="translate(41.66,0) scale(0.982,1)">2</text></g><line x1="905.9" y1="693.3" x2="949.8" y2="693.3" stroke="#00FFFF" stroke-width="3.2"/><g transform="translate(964.4,700.5)" font-size="21" fill="#1a1a1a" stroke="#1a1a1a" stroke-width="0.3"><text transform="translate(0.27,0) scale(1.000,1)">D</text><text transform="translate(16.2,0) scale(0.829,1)">F</text><text transform="translate(27.46,0) scale(0.967,1)">X</text><text transform="translate(41.98,0) scale(0.979,1)">3</text></g></g>
<g stroke="#d9d9d9" stroke-width="1" stroke-dasharray="3.4 1.96"><line x1="261.2" y1="1359.8" x2="261.2" y2="994.6"/><line x1="459.4" y1="1359.8" x2="459.4" y2="994.6"/><line x1="657.6" y1="1359.8" x2="657.6" y2="994.6"/><line x1="855.8" y1="1359.8" x2="855.8" y2="994.6"/><line x1="63" y1="1314.15" x2="1054" y2="1314.15" stroke-dashoffset="-0.8"/><line x1="63" y1="1268.5" x2="1054" y2="1268.5" stroke-dashoffset="-0.8"/><line x1="63" y1="1222.85" x2="1054" y2="1222.85" stroke-dashoffset="-0.8"/><line x1="63" y1="1177.2" x2="1054" y2="1177.2" stroke-dashoffset="-0.8"/><line x1="63" y1="1131.55" x2="1054" y2="1131.55" stroke-dashoffset="-0.8"/><line x1="63" y1="1085.9" x2="1054" y2="1085.9" stroke-dashoffset="-0.8"/><line x1="63" y1="1040.25" x2="1054" y2="1040.25" stroke-dashoffset="-0.8"/></g>
<g stroke="#0a0a0a" stroke-width="1.6"><line x1="63" y1="1359.8" x2="63" y2="1353.88"/><line x1="261.2" y1="1359.8" x2="261.2" y2="1353.88"/><line x1="459.4" y1="1359.8" x2="459.4" y2="1353.88"/><line x1="657.6" y1="1359.8" x2="657.6" y2="1353.88"/><line x1="855.8" y1="1359.8" x2="855.8" y2="1353.88"/><line x1="1054" y1="1359.8" x2="1054" y2="1353.88"/><line x1="63" y1="1359.8" x2="68.92" y2="1359.8"/><line x1="63" y1="1314.15" x2="68.92" y2="1314.15"/><line x1="63" y1="1268.5" x2="68.92" y2="1268.5"/><line x1="63" y1="1222.85" x2="68.92" y2="1222.85"/><line x1="63" y1="1177.2" x2="68.92" y2="1177.2"/><line x1="63" y1="1131.55" x2="68.92" y2="1131.55"/><line x1="63" y1="1085.9" x2="68.92" y2="1085.9"/><line x1="63" y1="1040.25" x2="68.92" y2="1040.25"/><line x1="63" y1="994.6" x2="68.92" y2="994.6"/></g>
<g><polyline fill="none" stroke="#FFA500" stroke-width="3.2" stroke-linejoin="round" points="63,1358.79 66.96,1358.79 70.93,1358.79 74.89,1358.79 78.86,1358.79 82.82,1358.79 86.78,1358.79 90.75,1358.79 94.71,1358.79 98.68,1358.78 102.64,1358.78 106.6,1358.78 110.57,1358.78 114.53,1358.77 118.5,1358.77 122.46,1358.77 126.42,1358.76 130.39,1358.75 134.35,1358.75 138.32,1358.74 142.28,1358.73 146.24,1358.72 150.21,1358.7 154.17,1358.69 158.14,1358.67 162.1,1358.65 166.06,1358.62 170.03,1358.59 173.99,1358.56 177.96,1358.52 181.92,1358.48 185.88,1358.43 189.85,1358.38 193.81,1358.32 197.78,1358.25 201.74,1358.16 205.7,1358.07 209.67,1357.97 213.63,1357.85 217.6,1357.72 221.56,1357.57 225.52,1357.41 229.49,1357.22 233.45,1357.02 237.42,1356.78 241.38,1356.52 245.34,1356.24 249.31,1355.92 253.27,1355.56 257.24,1355.17 261.2,1354.74 265.16,1354.26 269.13,1353.74 273.09,1353.16 277.06,1352.53 281.02,1351.84 284.98,1351.08 288.95,1350.25 292.91,1349.36 296.88,1348.38 300.84,1347.32 304.8,1346.17 308.77,1344.94 312.73,1343.6 316.7,1342.16 320.66,1340.62 324.62,1338.96 328.59,1337.19 332.55,1335.3 336.52,1333.28 340.48,1331.13 344.44,1328.85 348.41,1326.43 352.37,1323.88 356.34,1321.18 360.3,1318.34 364.26,1315.36 368.23,1312.22 372.19,1308.95 376.16,1305.53 380.12,1301.96 384.08,1298.25 388.05,1294.4 392.01,1290.42 395.98,1286.31 399.94,1282.07 403.9,1277.72 407.87,1273.26 411.83,1268.69 415.8,1264.03 419.76,1259.29 423.72,1254.48 427.69,1249.62 431.65,1244.71 435.62,1239.77 439.58,1234.81 443.54,1229.85 447.51,1224.91 451.47,1220 455.44,1215.15 459.4,1210.36 463.36,1205.65 467.33,1201.05 471.29,1196.57 475.26,1192.23 479.22,1188.05 483.18,1184.04 487.15,1180.23 491.11,1176.62 495.08,1173.24 499.04,1170.09 503,1167.2 506.97,1164.58 510.93,1162.23 514.9,1160.18 518.86,1158.42 522.82,1156.97 526.79,1155.84 530.75,1155.03 534.72,1154.54 538.68,1154.38 542.64,1154.54 546.61,1155.03 550.57,1155.84 554.54,1156.97 558.5,1158.42 562.46,1160.18 566.43,1162.23 570.39,1164.58 574.36,1167.2 578.32,1170.09 582.28,1173.24 586.25,1176.62 590.21,1180.23 594.18,1184.04 598.14,1188.05 602.1,1192.23 606.07,1196.57 610.03,1201.05 614,1205.65 617.96,1210.36 621.92,1215.15 625.89,1220 629.85,1224.91 633.82,1229.85 637.78,1234.81 641.74,1239.77 645.71,1244.71 649.67,1249.62 653.64,1254.48 657.6,1259.29 661.56,1264.03 665.53,1268.69 669.49,1273.26 673.46,1277.72 677.42,1282.07 681.38,1286.31 685.35,1290.42 689.31,1294.4 693.28,1298.25 697.24,1301.96 701.2,1305.53 705.17,1308.95 709.13,1312.22 713.1,1315.36 717.06,1318.34 721.02,1321.18 724.99,1323.88 728.95,1326.43 732.92,1328.85 736.88,1331.13 740.84,1333.28 744.81,1335.3 748.77,1337.19 752.74,1338.96 756.7,1340.62 760.66,1342.16 764.63,1343.6 768.59,1344.94 772.56,1346.17 776.52,1347.32 780.48,1348.38 784.45,1349.36 788.41,1350.25 792.38,1351.08 796.34,1351.84 800.3,1352.53 804.27,1353.16 808.23,1353.74 812.2,1354.26 816.16,1354.74 820.12,1355.17 824.09,1355.56 828.05,1355.92 832.02,1356.24 835.98,1356.52 839.94,1356.78 843.91,1357.02 847.87,1357.22 851.84,1357.41 855.8,1357.57 859.76,1357.72 863.73,1357.85 867.69,1357.97 871.66,1358.07 875.62,1358.16 879.58,1358.25 883.55,1358.32 887.51,1358.38 891.48,1358.43 895.44,1358.48 899.4,1358.52 903.37,1358.56 907.33,1358.59 911.3,1358.62 915.26,1358.65 919.22,1358.67 923.19,1358.69 927.15,1358.7 931.12,1358.72 935.08,1358.73 939.04,1358.74 943.01,1358.75 946.97,1358.75 950.94,1358.76 954.9,1358.77 958.86,1358.77 962.83,1358.77 966.79,1358.78 970.76,1358.78 974.72,1358.78 978.68,1358.78 982.65,1358.79 986.61,1358.79 990.58,1358.79 994.54,1358.79 998.5,1358.79 1002.47,1358.79 1006.43,1358.79 1010.4,1358.79 1014.36,1358.79 1018.32,1358.79 1022.29,1358.79 1026.25,1358.79 1030.22,1358.79 1034.18,1358.79 1038.14,1358.8 1042.11,1358.8 1046.07,1358.8 1050.04,1358.8 1054,1358.8"/><polyline fill="none" stroke="#8B4513" stroke-width="3.2" stroke-linejoin="round" points="63,1358.79 66.96,1358.79 70.93,1358.79 74.89,1358.79 78.86,1358.79 82.82,1358.78 86.78,1358.78 90.75,1358.78 94.71,1358.77 98.68,1358.77 102.64,1358.77 106.6,1358.76 110.57,1358.75 114.53,1358.75 118.5,1358.74 122.46,1358.73 126.42,1358.72 130.39,1358.7 134.35,1358.69 138.32,1358.67 142.28,1358.65 146.24,1358.63 150.21,1358.6 154.17,1358.57 158.14,1358.53 162.1,1358.49 166.06,1358.44 170.03,1358.39 173.99,1358.33 177.96,1358.26 181.92,1358.18 185.88,1358.09 189.85,1357.99 193.81,1357.87 197.78,1357.75 201.74,1357.6 205.7,1357.44 209.67,1357.26 213.63,1357.05 217.6,1356.83 221.56,1356.58 225.52,1356.29 229.49,1355.98 233.45,1355.64 237.42,1355.25 241.38,1354.83 245.34,1354.36 249.31,1353.85 253.27,1353.29 257.24,1352.67 261.2,1351.99 265.16,1351.25 269.13,1350.44 273.09,1349.57 277.06,1348.61 281.02,1347.58 284.98,1346.46 288.95,1345.25 292.91,1343.94 296.88,1342.53 300.84,1341.02 304.8,1339.4 308.77,1337.67 312.73,1335.82 316.7,1333.85 320.66,1331.75 324.62,1329.52 328.59,1327.16 332.55,1324.66 336.52,1322.02 340.48,1319.24 344.44,1316.33 348.41,1313.26 352.37,1310.06 356.34,1306.71 360.3,1303.23 364.26,1299.6 368.23,1295.84 372.19,1291.95 376.16,1287.93 380.12,1283.79 384.08,1279.53 388.05,1275.17 392.01,1270.7 395.98,1266.15 399.94,1261.52 403.9,1256.81 407.87,1252.06 411.83,1247.25 415.8,1242.42 419.76,1237.58 423.72,1232.73 427.69,1227.9 431.65,1223.1 435.62,1218.35 439.58,1213.67 443.54,1209.07 447.51,1204.57 451.47,1200.19 455.44,1195.95 459.4,1191.86 463.36,1187.94 467.33,1184.21 471.29,1180.69 475.26,1177.38 479.22,1174.31 483.18,1171.48 487.15,1168.92 491.11,1166.62 495.08,1164.61 499.04,1162.9 503,1161.48 506.97,1160.37 510.93,1159.58 514.9,1159.1 518.86,1158.94 522.82,1159.1 526.79,1159.58 530.75,1160.37 534.72,1161.48 538.68,1162.9 542.64,1164.61 546.61,1166.62 550.57,1168.92 554.54,1171.48 558.5,1174.31 562.46,1177.38 566.43,1180.69 570.39,1184.21 574.36,1187.94 578.32,1191.86 582.28,1195.95 586.25,1200.19 590.21,1204.57 594.18,1209.07 598.14,1213.67 602.1,1218.35 606.07,1223.1 610.03,1227.9 614,1232.73 617.96,1237.58 621.92,1242.42 625.89,1247.25 629.85,1252.06 633.82,1256.81 637.78,1261.52 641.74,1266.15 645.71,1270.7 649.67,1275.17 653.64,1279.53 657.6,1283.79 661.56,1287.93 665.53,1291.95 669.49,1295.84 673.46,1299.6 677.42,1303.23 681.38,1306.71 685.35,1310.06 689.31,1313.26 693.28,1316.33 697.24,1319.24 701.2,1322.02 705.17,1324.66 709.13,1327.16 713.1,1329.52 717.06,1331.75 721.02,1333.85 724.99,1335.82 728.95,1337.67 732.92,1339.4 736.88,1341.02 740.84,1342.53 744.81,1343.94 748.77,1345.25 752.74,1346.46 756.7,1347.58 760.66,1348.61 764.63,1349.57 768.59,1350.44 772.56,1351.25 776.52,1351.99 780.48,1352.67 784.45,1353.29 788.41,1353.85 792.38,1354.36 796.34,1354.83 800.3,1355.25 804.27,1355.64 808.23,1355.98 812.2,1356.29 816.16,1356.58 820.12,1356.83 824.09,1357.05 828.05,1357.26 832.02,1357.44 835.98,1357.6 839.94,1357.75 843.91,1357.87 847.87,1357.99 851.84,1358.09 855.8,1358.18 859.76,1358.26 863.73,1358.33 867.69,1358.39 871.66,1358.44 875.62,1358.49 879.58,1358.53 883.55,1358.57 887.51,1358.6 891.48,1358.63 895.44,1358.65 899.4,1358.67 903.37,1358.69 907.33,1358.7 911.3,1358.72 915.26,1358.73 919.22,1358.74 923.19,1358.75 927.15,1358.75 931.12,1358.76 935.08,1358.77 939.04,1358.77 943.01,1358.77 946.97,1358.78 950.94,1358.78 954.9,1358.78 958.86,1358.79 962.83,1358.79 966.79,1358.79 970.76,1358.79 974.72,1358.79 978.68,1358.79 982.65,1358.79 986.61,1358.79 990.58,1358.79 994.54,1358.79 998.5,1358.79 1002.47,1358.79 1006.43,1358.79 1010.4,1358.79 1014.36,1358.79 1018.32,1358.8 1022.29,1358.8 1026.25,1358.8 1030.22,1358.8 1034.18,1358.8 1038.14,1358.8 1042.11,1358.8 1046.07,1358.8 1050.04,1358.8 1054,1358.8"/><polyline fill="none" stroke="#FF0000" stroke-width="3.2" stroke-linejoin="round" points="63,1358.79 66.96,1358.79 70.93,1358.79 74.89,1358.79 78.86,1358.79 82.82,1358.79 86.78,1358.79 90.75,1358.79 94.71,1358.79 98.68,1358.79 102.64,1358.79 106.6,1358.79 110.57,1358.79 114.53,1358.79 118.5,1358.79 122.46,1358.78 126.42,1358.78 130.39,1358.78 134.35,1358.78 138.32,1358.77 142.28,1358.77 146.24,1358.76 150.21,1358.76 154.17,1358.75 158.14,1358.74 162.1,1358.73 166.06,1358.72 170.03,1358.71 173.99,1358.69 177.96,1358.68 181.92,1358.66 185.88,1358.63 189.85,1358.61 193.81,1358.58 197.78,1358.54 201.74,1358.5 205.7,1358.46 209.67,1358.41 213.63,1358.35 217.6,1358.28 221.56,1358.21 225.52,1358.12 229.49,1358.02 233.45,1357.92 237.42,1357.79 241.38,1357.66 245.34,1357.5 249.31,1357.33 253.27,1357.13 257.24,1356.92 261.2,1356.68 265.16,1356.41 269.13,1356.11 273.09,1355.78 277.06,1355.42 281.02,1355.01 284.98,1354.57 288.95,1354.08 292.91,1353.54 296.88,1352.95 300.84,1352.3 304.8,1351.6 308.77,1350.83 312.73,1349.99 316.7,1349.08 320.66,1348.09 324.62,1347.02 328.59,1345.86 332.55,1344.62 336.52,1343.28 340.48,1341.84 344.44,1340.29 348.41,1338.64 352.37,1336.87 356.34,1334.99 360.3,1332.98 364.26,1330.86 368.23,1328.6 372.19,1326.22 376.16,1323.7 380.12,1321.05 384.08,1318.27 388.05,1315.34 392.01,1312.29 395.98,1309.09 399.94,1305.77 403.9,1302.31 407.87,1298.72 411.83,1295 415.8,1291.17 419.76,1287.21 423.72,1283.15 427.69,1278.99 431.65,1274.73 435.62,1270.38 439.58,1265.96 443.54,1261.47 447.51,1256.93 451.47,1252.35 455.44,1247.74 459.4,1243.11 463.36,1238.49 467.33,1233.88 471.29,1229.3 475.26,1224.77 479.22,1220.3 483.18,1215.91 487.15,1211.62 491.11,1207.44 495.08,1203.39 499.04,1199.49 503,1195.75 506.97,1192.19 510.93,1188.82 514.9,1185.67 518.86,1182.73 522.82,1180.04 526.79,1177.59 530.75,1175.4 534.72,1173.48 538.68,1171.85 542.64,1170.5 546.61,1169.44 550.57,1168.68 554.54,1168.22 558.5,1168.07 562.46,1168.22 566.43,1168.68 570.39,1169.44 574.36,1170.5 578.32,1171.85 582.28,1173.48 586.25,1175.4 590.21,1177.59 594.18,1180.04 598.14,1182.73 602.1,1185.67 606.07,1188.82 610.03,1192.19 614,1195.75 617.96,1199.49 621.92,1203.39 625.89,1207.44 629.85,1211.62 633.82,1215.91 637.78,1220.3 641.74,1224.77 645.71,1229.3 649.67,1233.88 653.64,1238.49 657.6,1243.11 661.56,1247.74 665.53,1252.35 669.49,1256.93 673.46,1261.47 677.42,1265.96 681.38,1270.38 685.35,1274.73 689.31,1278.99 693.28,1283.15 697.24,1287.21 701.2,1291.17 705.17,1295 709.13,1298.72 713.1,1302.31 717.06,1305.77 721.02,1309.09 724.99,1312.29 728.95,1315.34 732.92,1318.27 736.88,1321.05 740.84,1323.7 744.81,1326.22 748.77,1328.6 752.74,1330.86 756.7,1332.98 760.66,1334.99 764.63,1336.87 768.59,1338.64 772.56,1340.29 776.52,1341.84 780.48,1343.28 784.45,1344.62 788.41,1345.86 792.38,1347.02 796.34,1348.09 800.3,1349.08 804.27,1349.99 808.23,1350.83 812.2,1351.6 816.16,1352.3 820.12,1352.95 824.09,1353.54 828.05,1354.08 832.02,1354.57 835.98,1355.01 839.94,1355.42 843.91,1355.78 847.87,1356.11 851.84,1356.41 855.8,1356.68 859.76,1356.92 863.73,1357.13 867.69,1357.33 871.66,1357.5 875.62,1357.66 879.58,1357.79 883.55,1357.92 887.51,1358.02 891.48,1358.12 895.44,1358.21 899.4,1358.28 903.37,1358.35 907.33,1358.41 911.3,1358.46 915.26,1358.5 919.22,1358.54 923.19,1358.58 927.15,1358.61 931.12,1358.63 935.08,1358.66 939.04,1358.68 943.01,1358.69 946.97,1358.71 950.94,1358.72 954.9,1358.73 958.86,1358.74 962.83,1358.75 966.79,1358.76 970.76,1358.76 974.72,1358.77 978.68,1358.77 982.65,1358.78 986.61,1358.78 990.58,1358.78 994.54,1358.78 998.5,1358.79 1002.47,1358.79 1006.43,1358.79 1010.4,1358.79 1014.36,1358.79 1018.32,1358.79 1022.29,1358.79 1026.25,1358.79 1030.22,1358.79 1034.18,1358.79 1038.14,1358.79 1042.11,1358.79 1046.07,1358.79 1050.04,1358.79 1054,1358.79"/><polyline fill="none" stroke="#FF00FF" stroke-width="3.2" stroke-linejoin="round" points="63,1358.8 66.96,1358.8 70.93,1358.8 74.89,1358.8 78.86,1358.8 82.82,1358.79 86.78,1358.79 90.75,1358.79 94.71,1358.79 98.68,1358.79 102.64,1358.79 106.6,1358.79 110.57,1358.79 114.53,1358.79 118.5,1358.79 122.46,1358.79 126.42,1358.79 130.39,1358.79 134.35,1358.79 138.32,1358.79 142.28,1358.78 146.24,1358.78 150.21,1358.78 154.17,1358.78 158.14,1358.77 162.1,1358.77 166.06,1358.76 170.03,1358.76 173.99,1358.75 177.96,1358.74 181.92,1358.73 185.88,1358.72 189.85,1358.71 193.81,1358.69 197.78,1358.67 201.74,1358.65 205.7,1358.63 209.67,1358.6 213.63,1358.57 217.6,1358.54 221.56,1358.5 225.52,1358.45 229.49,1358.4 233.45,1358.34 237.42,1358.27 241.38,1358.19 245.34,1358.11 249.31,1358.01 253.27,1357.9 257.24,1357.77 261.2,1357.63 265.16,1357.47 269.13,1357.29 273.09,1357.09 277.06,1356.87 281.02,1356.63 284.98,1356.35 288.95,1356.05 292.91,1355.71 296.88,1355.33 300.84,1354.92 304.8,1354.47 308.77,1353.96 312.73,1353.41 316.7,1352.81 320.66,1352.15 324.62,1351.42 328.59,1350.64 332.55,1349.78 336.52,1348.84 340.48,1347.83 344.44,1346.74 348.41,1345.56 352.37,1344.28 356.34,1342.91 360.3,1341.43 364.26,1339.85 368.23,1338.15 372.19,1336.35 376.16,1334.42 380.12,1332.37 384.08,1330.19 388.05,1327.88 392.01,1325.44 395.98,1322.86 399.94,1320.15 403.9,1317.3 407.87,1314.3 411.83,1311.17 415.8,1307.9 419.76,1304.5 423.72,1300.96 427.69,1297.28 431.65,1293.48 435.62,1289.55 439.58,1285.5 443.54,1281.34 447.51,1277.08 451.47,1272.71 455.44,1268.26 459.4,1263.74 463.36,1259.14 467.33,1254.49 471.29,1249.8 475.26,1245.08 479.22,1240.35 483.18,1235.61 487.15,1230.89 491.11,1226.2 495.08,1221.56 499.04,1216.99 503,1212.49 506.97,1208.1 510.93,1203.82 514.9,1199.67 518.86,1195.68 522.82,1191.85 526.79,1188.2 530.75,1184.75 534.72,1181.52 538.68,1178.52 542.64,1175.76 546.61,1173.25 550.57,1171.01 554.54,1169.05 558.5,1167.37 562.46,1165.99 566.43,1164.91 570.39,1164.13 574.36,1163.66 578.32,1163.51 582.28,1163.66 586.25,1164.13 590.21,1164.91 594.18,1165.99 598.14,1167.37 602.1,1169.05 606.07,1171.01 610.03,1173.25 614,1175.76 617.96,1178.52 621.92,1181.52 625.89,1184.75 629.85,1188.2 633.82,1191.85 637.78,1195.68 641.74,1199.67 645.71,1203.82 649.67,1208.1 653.64,1212.49 657.6,1216.99 661.56,1221.56 665.53,1226.2 669.49,1230.89 673.46,1235.61 677.42,1240.35 681.38,1245.08 685.35,1249.8 689.31,1254.49 693.28,1259.14 697.24,1263.74 701.2,1268.26 705.17,1272.71 709.13,1277.08 713.1,1281.34 717.06,1285.5 721.02,1289.55 724.99,1293.48 728.95,1297.28 732.92,1300.96 736.88,1304.5 740.84,1307.9 744.81,1311.17 748.77,1314.3 752.74,1317.3 756.7,1320.15 760.66,1322.86 764.63,1325.44 768.59,1327.88 772.56,1330.19 776.52,1332.37 780.48,1334.42 784.45,1336.35 788.41,1338.15 792.38,1339.85 796.34,1341.43 800.3,1342.91 804.27,1344.28 808.23,1345.56 812.2,1346.74 816.16,1347.83 820.12,1348.84 824.09,1349.78 828.05,1350.64 832.02,1351.42 835.98,1352.15 839.94,1352.81 843.91,1353.41 847.87,1353.96 851.84,1354.47 855.8,1354.92 859.76,1355.33 863.73,1355.71 867.69,1356.05 871.66,1356.35 875.62,1356.63 879.58,1356.87 883.55,1357.09 887.51,1357.29 891.48,1357.47 895.44,1357.63 899.4,1357.77 903.37,1357.9 907.33,1358.01 911.3,1358.11 915.26,1358.19 919.22,1358.27 923.19,1358.34 927.15,1358.4 931.12,1358.45 935.08,1358.5 939.04,1358.54 943.01,1358.57 946.97,1358.6 950.94,1358.63 954.9,1358.65 958.86,1358.67 962.83,1358.69 966.79,1358.71 970.76,1358.72 974.72,1358.73 978.68,1358.74 982.65,1358.75 986.61,1358.76 990.58,1358.76 994.54,1358.77 998.5,1358.77 1002.47,1358.78 1006.43,1358.78 1010.4,1358.78 1014.36,1358.78 1018.32,1358.79 1022.29,1358.79 1026.25,1358.79 1030.22,1358.79 1034.18,1358.79 1038.14,1358.79 1042.11,1358.79 1046.07,1358.79 1050.04,1358.79 1054,1358.79"/><polyline fill="none" stroke="#00BFFF" stroke-width="3.2" stroke-linejoin="round" points="63,1358.8 66.96,1358.8 70.93,1358.8 74.89,1358.8 78.86,1358.8 82.82,1358.8 86.78,1358.8 90.75,1358.8 94.71,1358.8 98.68,1358.8 102.64,1358.79 106.6,1358.79 110.57,1358.79 114.53,1358.79 118.5,1358.79 122.46,1358.79 126.42,1358.79 130.39,1358.79 134.35,1358.79 138.32,1358.79 142.28,1358.79 146.24,1358.79 150.21,1358.79 154.17,1358.79 158.14,1358.79 162.1,1358.78 166.06,1358.78 170.03,1358.78 173.99,1358.77 177.96,1358.77 181.92,1358.77 185.88,1358.76 189.85,1358.75 193.81,1358.75 197.78,1358.74 201.74,1358.73 205.7,1358.72 209.67,1358.7 213.63,1358.69 217.6,1358.67 221.56,1358.65 225.52,1358.63 229.49,1358.6 233.45,1358.57 237.42,1358.53 241.38,1358.49 245.34,1358.44 249.31,1358.39 253.27,1358.33 257.24,1358.26 261.2,1358.18 265.16,1358.09 269.13,1357.99 273.09,1357.87 277.06,1357.75 281.02,1357.6 284.98,1357.44 288.95,1357.26 292.91,1357.05 296.88,1356.83 300.84,1356.58 304.8,1356.29 308.77,1355.98 312.73,1355.64 316.7,1355.25 320.66,1354.83 324.62,1354.36 328.59,1353.85 332.55,1353.29 336.52,1352.67 340.48,1351.99 344.44,1351.25 348.41,1350.44 352.37,1349.57 356.34,1348.61 360.3,1347.58 364.26,1346.46 368.23,1345.25 372.19,1343.94 376.16,1342.53 380.12,1341.02 384.08,1339.4 388.05,1337.67 392.01,1335.82 395.98,1333.85 399.94,1331.75 403.9,1329.52 407.87,1327.16 411.83,1324.66 415.8,1322.02 419.76,1319.24 423.72,1316.33 427.69,1313.26 431.65,1310.06 435.62,1306.71 439.58,1303.23 443.54,1299.6 447.51,1295.84 451.47,1291.95 455.44,1287.93 459.4,1283.79 463.36,1279.53 467.33,1275.17 471.29,1270.7 475.26,1266.15 479.22,1261.52 483.18,1256.81 487.15,1252.06 491.11,1247.25 495.08,1242.42 499.04,1237.58 503,1232.73 506.97,1227.9 510.93,1223.1 514.9,1218.35 518.86,1213.67 522.82,1209.07 526.79,1204.57 530.75,1200.19 534.72,1195.95 538.68,1191.86 542.64,1187.94 546.61,1184.21 550.57,1180.69 554.54,1177.38 558.5,1174.31 562.46,1171.48 566.43,1168.92 570.39,1166.62 574.36,1164.61 578.32,1162.9 582.28,1161.48 586.25,1160.37 590.21,1159.58 594.18,1159.1 598.14,1158.94 602.1,1159.1 606.07,1159.58 610.03,1160.37 614,1161.48 617.96,1162.9 621.92,1164.61 625.89,1166.62 629.85,1168.92 633.82,1171.48 637.78,1174.31 641.74,1177.38 645.71,1180.69 649.67,1184.21 653.64,1187.94 657.6,1191.86 661.56,1195.95 665.53,1200.19 669.49,1204.57 673.46,1209.07 677.42,1213.67 681.38,1218.35 685.35,1223.1 689.31,1227.9 693.28,1232.73 697.24,1237.58 701.2,1242.42 705.17,1247.25 709.13,1252.06 713.1,1256.81 717.06,1261.52 721.02,1266.15 724.99,1270.7 728.95,1275.17 732.92,1279.53 736.88,1283.79 740.84,1287.93 744.81,1291.95 748.77,1295.84 752.74,1299.6 756.7,1303.23 760.66,1306.71 764.63,1310.06 768.59,1313.26 772.56,1316.33 776.52,1319.24 780.48,1322.02 784.45,1324.66 788.41,1327.16 792.38,1329.52 796.34,1331.75 800.3,1333.85 804.27,1335.82 808.23,1337.67 812.2,1339.4 816.16,1341.02 820.12,1342.53 824.09,1343.94 828.05,1345.25 832.02,1346.46 835.98,1347.58 839.94,1348.61 843.91,1349.57 847.87,1350.44 851.84,1351.25 855.8,1351.99 859.76,1352.67 863.73,1353.29 867.69,1353.85 871.66,1354.36 875.62,1354.83 879.58,1355.25 883.55,1355.64 887.51,1355.98 891.48,1356.29 895.44,1356.58 899.4,1356.83 903.37,1357.05 907.33,1357.26 911.3,1357.44 915.26,1357.6 919.22,1357.75 923.19,1357.87 927.15,1357.99 931.12,1358.09 935.08,1358.18 939.04,1358.26 943.01,1358.33 946.97,1358.39 950.94,1358.44 954.9,1358.49 958.86,1358.53 962.83,1358.57 966.79,1358.6 970.76,1358.63 974.72,1358.65 978.68,1358.67 982.65,1358.69 986.61,1358.7 990.58,1358.72 994.54,1358.73 998.5,1358.74 1002.47,1358.75 1006.43,1358.75 1010.4,1358.76 1014.36,1358.77 1018.32,1358.77 1022.29,1358.77 1026.25,1358.78 1030.22,1358.78 1034.18,1358.78 1038.14,1358.79 1042.11,1358.79 1046.07,1358.79 1050.04,1358.79 1054,1358.79"/><polyline fill="none" stroke="#00FFFF" stroke-width="3.2" stroke-linejoin="round" points="63,1358.8 66.96,1358.8 70.93,1358.8 74.89,1358.8 78.86,1358.8 82.82,1358.8 86.78,1358.8 90.75,1358.8 94.71,1358.8 98.68,1358.8 102.64,1358.8 106.6,1358.8 110.57,1358.8 114.53,1358.8 118.5,1358.8 122.46,1358.79 126.42,1358.79 130.39,1358.79 134.35,1358.79 138.32,1358.79 142.28,1358.79 146.24,1358.79 150.21,1358.79 154.17,1358.79 158.14,1358.79 162.1,1358.79 166.06,1358.79 170.03,1358.79 173.99,1358.79 177.96,1358.79 181.92,1358.78 185.88,1358.78 189.85,1358.78 193.81,1358.78 197.78,1358.77 201.74,1358.77 205.7,1358.76 209.67,1358.76 213.63,1358.75 217.6,1358.74 221.56,1358.73 225.52,1358.72 229.49,1358.71 233.45,1358.69 237.42,1358.67 241.38,1358.65 245.34,1358.63 249.31,1358.6 253.27,1358.57 257.24,1358.54 261.2,1358.5 265.16,1358.45 269.13,1358.4 273.09,1358.34 277.06,1358.27 281.02,1358.19 284.98,1358.11 288.95,1358.01 292.91,1357.9 296.88,1357.77 300.84,1357.63 304.8,1357.47 308.77,1357.29 312.73,1357.09 316.7,1356.87 320.66,1356.63 324.62,1356.35 328.59,1356.05 332.55,1355.71 336.52,1355.33 340.48,1354.92 344.44,1354.47 348.41,1353.96 352.37,1353.41 356.34,1352.81 360.3,1352.15 364.26,1351.42 368.23,1350.64 372.19,1349.78 376.16,1348.84 380.12,1347.83 384.08,1346.74 388.05,1345.56 392.01,1344.28 395.98,1342.91 399.94,1341.43 403.9,1339.85 407.87,1338.15 411.83,1336.35 415.8,1334.42 419.76,1332.37 423.72,1330.19 427.69,1327.88 431.65,1325.44 435.62,1322.86 439.58,1320.15 443.54,1317.3 447.51,1314.3 451.47,1311.17 455.44,1307.9 459.4,1304.5 463.36,1300.96 467.33,1297.28 471.29,1293.48 475.26,1289.55 479.22,1285.5 483.18,1281.34 487.15,1277.08 491.11,1272.71 495.08,1268.26 499.04,1263.74 503,1259.14 506.97,1254.49 510.93,1249.8 514.9,1245.08 518.86,1240.35 522.82,1235.61 526.79,1230.89 530.75,1226.2 534.72,1221.56 538.68,1216.99 542.64,1212.49 546.61,1208.1 550.57,1203.82 554.54,1199.67 558.5,1195.68 562.46,1191.85 566.43,1188.2 570.39,1184.75 574.36,1181.52 578.32,1178.52 582.28,1175.76 586.25,1173.25 590.21,1171.01 594.18,1169.05 598.14,1167.37 602.1,1165.99 606.07,1164.91 610.03,1164.13 614,1163.66 617.96,1163.51 621.92,1163.66 625.89,1164.13 629.85,1164.91 633.82,1165.99 637.78,1167.37 641.74,1169.05 645.71,1171.01 649.67,1173.25 653.64,1175.76 657.6,1178.52 661.56,1181.52 665.53,1184.75 669.49,1188.2 673.46,1191.85 677.42,1195.68 681.38,1199.67 685.35,1203.82 689.31,1208.1 693.28,1212.49 697.24,1216.99 701.2,1221.56 705.17,1226.2 709.13,1230.89 713.1,1235.61 717.06,1240.35 721.02,1245.08 724.99,1249.8 728.95,1254.49 732.92,1259.14 736.88,1263.74 740.84,1268.26 744.81,1272.71 748.77,1277.08 752.74,1281.34 756.7,1285.5 760.66,1289.55 764.63,1293.48 768.59,1297.28 772.56,1300.96 776.52,1304.5 780.48,1307.9 784.45,1311.17 788.41,1314.3 792.38,1317.3 796.34,1320.15 800.3,1322.86 804.27,1325.44 808.23,1327.88 812.2,1330.19 816.16,1332.37 820.12,1334.42 824.09,1336.35 828.05,1338.15 832.02,1339.85 835.98,1341.43 839.94,1342.91 843.91,1344.28 847.87,1345.56 851.84,1346.74 855.8,1347.83 859.76,1348.84 863.73,1349.78 867.69,1350.64 871.66,1351.42 875.62,1352.15 879.58,1352.81 883.55,1353.41 887.51,1353.96 891.48,1354.47 895.44,1354.92 899.4,1355.33 903.37,1355.71 907.33,1356.05 911.3,1356.35 915.26,1356.63 919.22,1356.87 923.19,1357.09 927.15,1357.29 931.12,1357.47 935.08,1357.63 939.04,1357.77 943.01,1357.9 946.97,1358.01 950.94,1358.11 954.9,1358.19 958.86,1358.27 962.83,1358.34 966.79,1358.4 970.76,1358.45 974.72,1358.5 978.68,1358.54 982.65,1358.57 986.61,1358.6 990.58,1358.63 994.54,1358.65 998.5,1358.67 1002.47,1358.69 1006.43,1358.71 1010.4,1358.72 1014.36,1358.73 1018.32,1358.74 1022.29,1358.75 1026.25,1358.76 1030.22,1358.76 1034.18,1358.77 1038.14,1358.77 1042.11,1358.78 1046.07,1358.78 1050.04,1358.78 1054,1358.78"/></g>
<rect x="63" y="994.6" width="991" height="365.2" fill="none" stroke="#0a0a0a" stroke-width="2.2"/>
<g><g transform="translate(63,1381.42)" font-size="21.42" fill="#1a1a1a" stroke="#1a1a1a" stroke-width="0.3"><text transform="translate(-18.7,0) scale(0.964,1)">3</text><text transform="translate(-6.04,0) scale(0.968,1)">2</text><text transform="translate(6.99,0) scale(1.004,1)">0</text></g><g transform="translate(261.2,1381.42)" font-size="21.42" fill="#1a1a1a" stroke="#1a1a1a" stroke-width="0.3"><text transform="translate(-18.7,0) scale(0.964,1)">3</text><text transform="translate(-5.99,0) scale(1.004,1)">4</text><text transform="translate(6.99,0) scale(1.004,1)">0</text></g><g transform="translate(459.4,1381.42)" font-size="21.42" fill="#1a1a1a" stroke="#1a1a1a" stroke-width="0.3"><text transform="translate(-18.7,0) scale(0.964,1)">3</text><text transform="translate(-6.2,0) scale(1.039,1)">6</text><text transform="translate(6.99,0) scale(1.004,1)">0</text></g><g transform="translate(657.6,1381.42)" font-size="21.42" fill="#1a1a1a" stroke="#1a1a1a" stroke-width="0.3"><text transform="translate(-18.7,0) scale(0.964,1)">3</text><text transform="translate(-6.05,0) scale(1.015,1)">8</text><text transform="translate(6.99,0) scale(1.004,1)">0</text></g><g transform="translate(855.8,1381.42)" font-size="21.42" fill="#1a1a1a" stroke="#1a1a1a" stroke-width="0.3"><text transform="translate(-18.97,0) scale(1.004,1)">4</text><text transform="translate(-5.98,0) scale(1.004,1)">0</text><text transform="translate(6.99,0) scale(1.004,1)">0</text></g><g transform="translate(1054,1381.42)" font-size="21.42" fill="#1a1a1a" stroke="#1a1a1a" stroke-width="0.3"><text transform="translate(-18.97,0) scale(1.004,1)">4</text><text transform="translate(-6.04,0) scale(0.968,1)">2</text><text transform="translate(6.99,0) scale(1.004,1)">0</text></g><g transform="translate(56.27,1367.25)" font-size="21.42" fill="#1a1a1a" stroke="#1a1a1a" stroke-width="0.3"><text transform="translate(-12.47,0) scale(1.004,1)">0</text></g><g transform="translate(56.27,1321.6)" font-size="21.42" fill="#1a1a1a" stroke="#1a1a1a" stroke-width="0.3"><text transform="translate(-25.28,0) scale(0.959,1)">1</text><text transform="translate(-12.47,0) scale(1.004,1)">0</text></g><g transform="translate(56.27,1275.95)" font-size="21.42" fill="#1a1a1a" stroke="#1a1a1a" stroke-width="0.3"><text transform="translate(-25.51,0) scale(0.968,1)">2</text><text transform="translate(-12.47,0) scale(1.004,1)">0</text></g><g transform="translate(56.27,1230.3)" font-size="21.42" fill="#1a1a1a" stroke="#1a1a1a" stroke-width="0.3"><text transform="translate(-25.19,0) scale(0.964,1)">3</text><text transform="translate(-12.47,0) scale(1.004,1)">0</text></g><g transform="translate(56.27,1184.65)" font-size="21.42" fill="#1a1a1a" stroke="#1a1a1a" stroke-width="0.3"><text transform="translate(-25.46,0) scale(1.004,1)">4</text><text transform="translate(-12.47,0) scale(1.004,1)">0</text></g><g transform="translate(56.27,1139)" font-size="21.42" fill="#1a1a1a" stroke="#1a1a1a" stroke-width="0.3"><text transform="translate(-25.2,0) scale(0.947,1)">5</text><text transform="translate(-12.47,0) scale(1.004,1)">0</text></g><g transform="translate(56.27,1093.35)" font-size="21.42" fill="#1a1a1a" stroke="#1a1a1a" stroke-width="0.3"><text transform="translate(-25.66,0) scale(1.039,1)">6</text><text transform="translate(-12.47,0) scale(1.004,1)">0</text></g><g transform="translate(56.27,1047.7)" font-size="21.42" fill="#1a1a1a" stroke="#1a1a1a" stroke-width="0.3"><text transform="translate(-25.36,0) scale(0.982,1)">7</text><text transform="translate(-12.47,0) scale(1.004,1)">0</text></g><g transform="translate(56.27,1002.05)" font-size="21.42" fill="#1a1a1a" stroke="#1a1a1a" stroke-width="0.3"><text transform="translate(-25.52,0) scale(1.015,1)">8</text><text transform="translate(-12.47,0) scale(1.004,1)">0</text></g></g>
<g transform="translate(558.5,1408.15)" font-size="21.42" fill="#1a1a1a" stroke="#1a1a1a" stroke-width="0.3"><text transform="translate(-93.81,0) scale(0.897,1)">C</text><text transform="translate(-79.42,0) scale(1.239,1)">r</text><text transform="translate(-70.57,0) scale(0.869,1)">a</text><text transform="translate(-57.94,0) scale(1.042,1)">n</text><text transform="translate(-44.89,0) scale(1.081,1)">k</text><text transform="translate(-26.52,0) scale(0.974,1)">A</text><text transform="translate(-12.08,0) scale(1.042,1)">n</text><text transform="translate(0.84,0) scale(1.051,1)">g</text><text transform="translate(14.32,0) scale(0.988,1)">l</text><text transform="translate(19.74,0) scale(1.044,1)">e</text><text transform="translate(39.56,0) scale(0.817,1)">(</text><text transform="translate(47.55,0) scale(1.068,1)">°</text><text transform="translate(57.48,0) scale(0.897,1)">C</text><text transform="translate(71.87,0) scale(0.974,1)">A</text><text transform="translate(87.47,0) scale(0.817,1)">)</text></g>
<g transform="translate(19.24,1177.2) rotate(-90)" font-size="21.42" fill="#1a1a1a" stroke="#1a1a1a" stroke-width="0.3"><text transform="translate(-131.35,0) scale(1.022,1)">I</text><text transform="translate(-124.85,0) scale(1.042,1)">n</text><text transform="translate(-112.11,0) scale(1.042,1)">-</text><text transform="translate(-104.4,0) scale(0.970,1)">c</text><text transform="translate(-92.71,0) scale(1.038,1)">y</text><text transform="translate(-80.49,0) scale(0.988,1)">l</text><text transform="translate(-74.73,0) scale(0.988,1)">i</text><text transform="translate(-69.12,0) scale(1.042,1)">n</text><text transform="translate(-56.19,0) scale(1.051,1)">d</text><text transform="translate(-43.05,0) scale(1.044,1)">e</text><text transform="translate(-30.39,0) scale(1.239,1)">r</text><text transform="translate(-14.88,0) scale(0.855,1)">P</text><text transform="translate(-2.81,0) scale(1.239,1)">r</text><text transform="translate(5.78,0) scale(1.044,1)">e</text><text transform="translate(18.89,0) scale(0.927,1)">s</text><text transform="translate(29.68,0) scale(0.927,1)">s</text><text transform="translate(40.21,0) scale(1.042,1)">u</text><text transform="translate(53.14,0) scale(1.239,1)">r</text><text transform="translate(61.73,0) scale(1.044,1)">e</text><text transform="translate(81.55,0) scale(0.817,1)">(</text><text transform="translate(89.36,0) scale(1.052,1)">b</text><text transform="translate(102.53,0) scale(0.869,1)">a</text><text transform="translate(114.89,0) scale(1.239,1)">r</text><text transform="translate(124.84,0) scale(0.817,1)">)</text></g>
<g transform="translate(558.5,983.7)" font-size="28.97" font-weight="bold" fill="#333" stroke="#333" stroke-width="0.5"><text transform="translate(-125.29,0) scale(1.008,1)">P</text><text transform="translate(-105.49,0) scale(1.148,1)">-</text><text transform="translate(-94.68,0) scale(1.264,1)">θ</text><text transform="translate(-65.4,0) scale(0.986,1)">a</text><text transform="translate(-47.22,0) scale(1.350,1)">t</text><text transform="translate(-23.22,0) scale(1.049,1)">5</text><text transform="translate(-5.3,0) scale(1.200,1)">0</text><text transform="translate(14.04,0) scale(1.064,1)">%</text><text transform="translate(51.77,0) scale(0.960,1)">L</text><text transform="translate(68.62,0) scale(1.073,1)">o</text><text transform="translate(87.91,0) scale(0.986,1)">a</text><text transform="translate(106.07,0) scale(1.107,1)">d</text></g>
<rect x="905.39" y="1004.6" width="138.11" height="187.99" rx="4.59" fill="#fff" fill-opacity="0.8" stroke="#c8c8c8" stroke-width="1.2"/>
<g><line x1="912.22" y1="1021.94" x2="957" y2="1021.94" stroke="#FFA500" stroke-width="3.2"/><g transform="translate(971.89,1029.28)" font-size="21.42" fill="#1a1a1a" stroke="#1a1a1a" stroke-width="0.3"><text transform="translate(0.27,0) scale(1.000,1)">D</text><text transform="translate(16.48,0) scale(0.988,1)">i</text><text transform="translate(21.89,0) scale(1.044,1)">e</text><text transform="translate(35.01,0) scale(0.927,1)">s</text><text transform="translate(45.42,0) scale(1.044,1)">e</text><text transform="translate(58.49,0) scale(0.988,1)">l</text></g><line x1="912.22" y1="1052.19" x2="957" y2="1052.19" stroke="#8B4513" stroke-width="3.2"/><g transform="translate(971.89,1059.53)" font-size="21.42" fill="#1a1a1a" stroke="#1a1a1a" stroke-width="0.3"><text transform="translate(-1.34,0) scale(0.600,1)">J</text><text transform="translate(6.45,0) scale(0.964,1)">M</text><text transform="translate(24.53,0) scale(0.838,1)">E</text><text transform="translate(37.51,0) scale(0.982,1)">2</text><text transform="translate(50.74,0) scale(1.019,1)">0</text></g><line x1="912.22" y1="1082.44" x2="957" y2="1082.44" stroke="#FF0000" stroke-width="3.2"/><g transform="translate(971.89,1089.79)" font-size="21.42" fill="#1a1a1a" stroke="#1a1a1a" stroke-width="0.3"><text transform="translate(0.27,0) scale(1.000,1)">D</text><text transform="translate(16.52,0) scale(0.829,1)">F</text><text transform="translate(28.01,0) scale(0.967,1)">X</text></g><line x1="912.22" y1="1112.7" x2="957" y2="1112.7" stroke="#FF00FF" stroke-width="3.2"/><g transform="translate(971.89,1120.04)" font-size="21.42" fill="#1a1a1a" stroke="#1a1a1a" stroke-width="0.3"><text transform="translate(0.27,0) scale(1.000,1)">D</text><text transform="translate(16.52,0) scale(0.829,1)">F</text><text transform="translate(28.01,0) scale(0.967,1)">X</text><text transform="translate(42.73,0) scale(0.973,1)">1</text></g><line x1="912.22" y1="1142.95" x2="957" y2="1142.95" stroke="#00BFFF" stroke-width="3.2"/><g transform="translate(971.89,1150.29)" font-size="21.42" fill="#1a1a1a" stroke="#1a1a1a" stroke-width="0.3"><text transform="translate(0.27,0) scale(1.000,1)">D</text><text transform="translate(16.52,0) scale(0.829,1)">F</text><text transform="translate(28.01,0) scale(0.967,1)">X</text><text transform="translate(42.5,0) scale(0.982,1)">2</text></g><line x1="912.22" y1="1173.2" x2="957" y2="1173.2" stroke="#00FFFF" stroke-width="3.2"/><g transform="translate(971.89,1180.55)" font-size="21.42" fill="#1a1a1a" stroke="#1a1a1a" stroke-width="0.3"><text transform="translate(0.27,0) scale(1.000,1)">D</text><text transform="translate(16.52,0) scale(0.829,1)">F</text><text transform="translate(28.01,0) scale(0.967,1)">X</text><text transform="translate(42.82,0) scale(0.979,1)">3</text></g></g>
<g stroke="#d9d9d9" stroke-width="1" stroke-dasharray="3.4 1.96"><line x1="261.2" y1="1833.5" x2="261.2" y2="1468.3"/><line x1="459.4" y1="1833.5" x2="459.4" y2="1468.3"/><line x1="657.6" y1="1833.5" x2="657.6" y2="1468.3"/><line x1="855.8" y1="1833.5" x2="855.8" y2="1468.3"/><line x1="63" y1="1787.85" x2="1054" y2="1787.85" stroke-dashoffset="-0.8"/><line x1="63" y1="1742.2" x2="1054" y2="1742.2" stroke-dashoffset="-0.8"/><line x1="63" y1="1696.55" x2="1054" y2="1696.55" stroke-dashoffset="-0.8"/><line x1="63" y1="1650.9" x2="1054" y2="1650.9" stroke-dashoffset="-0.8"/><line x1="63" y1="1605.25" x2="1054" y2="1605.25" stroke-dashoffset="-0.8"/><line x1="63" y1="1559.6" x2="1054" y2="1559.6" stroke-dashoffset="-0.8"/><line x1="63" y1="1513.95" x2="1054" y2="1513.95" stroke-dashoffset="-0.8"/></g>
<g stroke="#0a0a0a" stroke-width="1.6"><line x1="63" y1="1833.5" x2="63" y2="1827.58"/><line x1="261.2" y1="1833.5" x2="261.2" y2="1827.58"/><line x1="459.4" y1="1833.5" x2="459.4" y2="1827.58"/><line x1="657.6" y1="1833.5" x2="657.6" y2="1827.58"/><line x1="855.8" y1="1833.5" x2="855.8" y2="1827.58"/><line x1="1054" y1="1833.5" x2="1054" y2="1827.58"/><line x1="63" y1="1833.5" x2="68.92" y2="1833.5"/><line x1="63" y1="1787.85" x2="68.92" y2="1787.85"/><line x1="63" y1="1742.2" x2="68.92" y2="1742.2"/><line x1="63" y1="1696.55" x2="68.92" y2="1696.55"/><line x1="63" y1="1650.9" x2="68.92" y2="1650.9"/><line x1="63" y1="1605.25" x2="68.92" y2="1605.25"/><line x1="63" y1="1559.6" x2="68.92" y2="1559.6"/><line x1="63" y1="1513.95" x2="68.92" y2="1513.95"/><line x1="63" y1="1468.3" x2="68.92" y2="1468.3"/></g>
<g><polyline fill="none" stroke="#FFA500" stroke-width="3.2" stroke-linejoin="round" points="63,1832.49 66.96,1832.49 70.93,1832.49 74.89,1832.49 78.86,1832.49 82.82,1832.49 86.78,1832.49 90.75,1832.49 94.71,1832.49 98.68,1832.49 102.64,1832.49 106.6,1832.49 110.57,1832.49 114.53,1832.49 118.5,1832.48 122.46,1832.48 126.42,1832.48 130.39,1832.47 134.35,1832.47 138.32,1832.47 142.28,1832.46 146.24,1832.45 150.21,1832.45 154.17,1832.44 158.14,1832.43 162.1,1832.42 166.06,1832.4 170.03,1832.39 173.99,1832.37 177.96,1832.35 181.92,1832.32 185.88,1832.29 189.85,1832.26 193.81,1832.22 197.78,1832.18 201.74,1832.13 205.7,1832.08 209.67,1832.01 213.63,1831.94 217.6,1831.86 221.56,1831.77 225.52,1831.66 229.49,1831.54 233.45,1831.41 237.42,1831.25 241.38,1831.08 245.34,1830.89 249.31,1830.68 253.27,1830.44 257.24,1830.17 261.2,1829.87 265.16,1829.54 269.13,1829.17 273.09,1828.76 277.06,1828.31 281.02,1827.81 284.98,1827.25 288.95,1826.65 292.91,1825.98 296.88,1825.25 300.84,1824.45 304.8,1823.57 308.77,1822.62 312.73,1821.58 316.7,1820.45 320.66,1819.23 324.62,1817.9 328.59,1816.47 332.55,1814.93 336.52,1813.26 340.48,1811.48 344.44,1809.56 348.41,1807.51 352.37,1805.32 356.34,1802.99 360.3,1800.51 364.26,1797.87 368.23,1795.08 372.19,1792.12 376.16,1789 380.12,1785.72 384.08,1782.27 388.05,1778.64 392.01,1774.86 395.98,1770.9 399.94,1766.77 403.9,1762.49 407.87,1758.04 411.83,1753.43 415.8,1748.68 419.76,1743.78 423.72,1738.75 427.69,1733.58 431.65,1728.31 435.62,1722.92 439.58,1717.44 443.54,1711.88 447.51,1706.25 451.47,1700.57 455.44,1694.86 459.4,1689.13 463.36,1683.39 467.33,1677.68 471.29,1672.01 475.26,1666.39 479.22,1660.85 483.18,1655.41 487.15,1650.09 491.11,1644.91 495.08,1639.89 499.04,1635.06 503,1630.42 506.97,1626.01 510.93,1621.84 514.9,1617.93 518.86,1614.29 522.82,1610.95 526.79,1607.92 530.75,1605.21 534.72,1602.83 538.68,1600.8 542.64,1599.13 546.61,1597.82 550.57,1596.88 554.54,1596.31 558.5,1596.12 562.46,1596.31 566.43,1596.88 570.39,1597.82 574.36,1599.13 578.32,1600.8 582.28,1602.83 586.25,1605.21 590.21,1607.92 594.18,1610.95 598.14,1614.29 602.1,1617.93 606.07,1621.84 610.03,1626.01 614,1630.42 617.96,1635.06 621.92,1639.89 625.89,1644.91 629.85,1650.09 633.82,1655.41 637.78,1660.85 641.74,1666.39 645.71,1672.01 649.67,1677.68 653.64,1683.39 657.6,1689.13 661.56,1694.86 665.53,1700.57 669.49,1706.25 673.46,1711.88 677.42,1717.44 681.38,1722.92 685.35,1728.31 689.31,1733.58 693.28,1738.75 697.24,1743.78 701.2,1748.68 705.17,1753.43 709.13,1758.04 713.1,1762.49 717.06,1766.77 721.02,1770.9 724.99,1774.86 728.95,1778.64 732.92,1782.27 736.88,1785.72 740.84,1789 744.81,1792.12 748.77,1795.08 752.74,1797.87 756.7,1800.51 760.66,1802.99 764.63,1805.32 768.59,1807.51 772.56,1809.56 776.52,1811.48 780.48,1813.26 784.45,1814.93 788.41,1816.47 792.38,1817.9 796.34,1819.23 800.3,1820.45 804.27,1821.58 808.23,1822.62 812.2,1823.57 816.16,1824.45 820.12,1825.25 824.09,1825.98 828.05,1826.65 832.02,1827.25 835.98,1827.81 839.94,1828.31 843.91,1828.76 847.87,1829.17 851.84,1829.54 855.8,1829.87 859.76,1830.17 863.73,1830.44 867.69,1830.68 871.66,1830.89 875.62,1831.08 879.58,1831.25 883.55,1831.41 887.51,1831.54 891.48,1831.66 895.44,1831.77 899.4,1831.86 903.37,1831.94 907.33,1832.01 911.3,1832.08 915.26,1832.13 919.22,1832.18 923.19,1832.22 927.15,1832.26 931.12,1832.29 935.08,1832.32 939.04,1832.35 943.01,1832.37 946.97,1832.39 950.94,1832.4 954.9,1832.42 958.86,1832.43 962.83,1832.44 966.79,1832.45 970.76,1832.45 974.72,1832.46 978.68,1832.47 982.65,1832.47 986.61,1832.47 990.58,1832.48 994.54,1832.48 998.5,1832.48 1002.47,1832.49 1006.43,1832.49 1010.4,1832.49 1014.36,1832.49 1018.32,1832.49 1022.29,1832.49 1026.25,1832.49 1030.22,1832.49 1034.18,1832.49 1038.14,1832.49 1042.11,1832.49 1046.07,1832.49 1050.04,1832.49 1054,1832.49"/><polyline fill="none" stroke="#8B4513" stroke-width="3.2" stroke-linejoin="round" points="63,1832.49 66.96,1832.49 70.93,1832.49 74.89,1832.49 78.86,1832.49 82.82,1832.49 86.78,1832.49 90.75,1832.49 94.71,1832.48 98.68,1832.48 102.64,1832.48 106.6,1832.48 110.57,1832.47 114.53,1832.47 118.5,1832.47 122.46,1832.46 126.42,1832.45 130.39,1832.45 134.35,1832.44 138.32,1832.43 142.28,1832.41 146.24,1832.4 150.21,1832.38 154.17,1832.36 158.14,1832.34 162.1,1832.32 166.06,1832.29 170.03,1832.25 173.99,1832.21 177.96,1832.17 181.92,1832.12 185.88,1832.06 189.85,1832 193.81,1831.92 197.78,1831.83 201.74,1831.74 205.7,1831.63 209.67,1831.5 213.63,1831.36 217.6,1831.21 221.56,1831.03 225.52,1830.83 229.49,1830.61 233.45,1830.36 237.42,1830.08 241.38,1829.77 245.34,1829.42 249.31,1829.04 253.27,1828.61 257.24,1828.14 261.2,1827.62 265.16,1827.05 269.13,1826.42 273.09,1825.73 277.06,1824.97 281.02,1824.14 284.98,1823.23 288.95,1822.24 292.91,1821.16 296.88,1819.99 300.84,1818.71 304.8,1817.34 308.77,1815.85 312.73,1814.25 316.7,1812.52 320.66,1810.66 324.62,1808.68 328.59,1806.55 332.55,1804.27 336.52,1801.85 340.48,1799.27 344.44,1796.53 348.41,1793.63 352.37,1790.56 356.34,1787.32 360.3,1783.91 364.26,1780.33 368.23,1776.56 372.19,1772.63 376.16,1768.52 380.12,1764.24 384.08,1759.78 388.05,1755.16 392.01,1750.38 395.98,1745.44 399.94,1740.35 403.9,1735.13 407.87,1729.76 411.83,1724.28 415.8,1718.69 419.76,1713 423.72,1707.22 427.69,1701.37 431.65,1695.48 435.62,1689.54 439.58,1683.59 443.54,1677.64 447.51,1671.7 451.47,1665.81 455.44,1659.97 459.4,1654.22 463.36,1648.57 467.33,1643.05 471.29,1637.67 475.26,1632.46 479.22,1627.43 483.18,1622.62 487.15,1618.04 491.11,1613.7 495.08,1609.64 499.04,1605.87 503,1602.39 506.97,1599.24 510.93,1596.43 514.9,1593.96 518.86,1591.85 522.82,1590.11 526.79,1588.75 530.75,1587.77 534.72,1587.19 538.68,1586.99 542.64,1587.19 546.61,1587.77 550.57,1588.75 554.54,1590.11 558.5,1591.85 562.46,1593.96 566.43,1596.43 570.39,1599.24 574.36,1602.39 578.32,1605.87 582.28,1609.64 586.25,1613.7 590.21,1618.04 594.18,1622.62 598.14,1627.43 602.1,1632.46 606.07,1637.67 610.03,1643.05 614,1648.57 617.96,1654.22 621.92,1659.97 625.89,1665.81 629.85,1671.7 633.82,1677.64 637.78,1683.59 641.74,1689.54 645.71,1695.48 649.67,1701.37 653.64,1707.22 657.6,1713 661.56,1718.69 665.53,1724.28 669.49,1729.76 673.46,1735.13 677.42,1740.35 681.38,1745.44 685.35,1750.38 689.31,1755.16 693.28,1759.78 697.24,1764.24 701.2,1768.52 705.17,1772.63 709.13,1776.56 713.1,1780.33 717.06,1783.91 721.02,1787.32 724.99,1790.56 728.95,1793.63 732.92,1796.53 736.88,1799.27 740.84,1801.85 744.81,1804.27 748.77,1806.55 752.74,1808.68 756.7,1810.66 760.66,1812.52 764.63,1814.25 768.59,1815.85 772.56,1817.34 776.52,1818.71 780.48,1819.99 784.45,1821.16 788.41,1822.24 792.38,1823.23 796.34,1824.14 800.3,1824.97 804.27,1825.73 808.23,1826.42 812.2,1827.05 816.16,1827.62 820.12,1828.14 824.09,1828.61 828.05,1829.04 832.02,1829.42 835.98,1829.77 839.94,1830.08 843.91,1830.36 847.87,1830.61 851.84,1830.83 855.8,1831.03 859.76,1831.21 863.73,1831.36 867.69,1831.5 871.66,1831.63 875.62,1831.74 879.58,1831.83 883.55,1831.92 887.51,1832 891.48,1832.06 895.44,1832.12 899.4,1832.17 903.37,1832.21 907.33,1832.25 911.3,1832.29 915.26,1832.32 919.22,1832.34 923.19,1832.36 927.15,1832.38 931.12,1832.4 935.08,1832.41 939.04,1832.43 943.01,1832.44 946.97,1832.45 950.94,1832.45 954.9,1832.46 958.86,1832.47 962.83,1832.47 966.79,1832.47 970.76,1832.48 974.72,1832.48 978.68,1832.48 982.65,1832.48 986.61,1832.49 990.58,1832.49 994.54,1832.49 998.5,1832.49 1002.47,1832.49 1006.43,1832.49 1010.4,1832.49 1014.36,1832.49 1018.32,1832.49 1022.29,1832.49 1026.25,1832.49 1030.22,1832.49 1034.18,1832.49 1038.14,1832.49 1042.11,1832.5 1046.07,1832.5 1050.04,1832.5 1054,1832.5"/><polyline fill="none" stroke="#FF0000" stroke-width="3.2" stroke-linejoin="round" points="63,1832.5 66.96,1832.5 70.93,1832.5 74.89,1832.5 78.86,1832.5 82.82,1832.49 86.78,1832.49 90.75,1832.49 94.71,1832.49 98.68,1832.49 102.64,1832.49 106.6,1832.49 110.57,1832.49 114.53,1832.49 118.5,1832.49 122.46,1832.49 126.42,1832.49 130.39,1832.49 134.35,1832.49 138.32,1832.48 142.28,1832.48 146.24,1832.48 150.21,1832.48 154.17,1832.47 158.14,1832.47 162.1,1832.46 166.06,1832.46 170.03,1832.45 173.99,1832.44 177.96,1832.43 181.92,1832.42 185.88,1832.41 189.85,1832.39 193.81,1832.37 197.78,1832.35 201.74,1832.33 205.7,1832.3 209.67,1832.27 213.63,1832.24 217.6,1832.19 221.56,1832.15 225.52,1832.09 229.49,1832.03 233.45,1831.96 237.42,1831.88 241.38,1831.79 245.34,1831.69 249.31,1831.58 253.27,1831.45 257.24,1831.3 261.2,1831.14 265.16,1830.95 269.13,1830.75 273.09,1830.52 277.06,1830.26 281.02,1829.97 284.98,1829.65 288.95,1829.3 292.91,1828.9 296.88,1828.47 300.84,1827.99 304.8,1827.46 308.77,1826.87 312.73,1826.23 316.7,1825.53 320.66,1824.76 324.62,1823.92 328.59,1823 332.55,1822 336.52,1820.92 340.48,1819.74 344.44,1818.47 348.41,1817.09 352.37,1815.6 356.34,1814.01 360.3,1812.29 364.26,1810.45 368.23,1808.48 372.19,1806.37 376.16,1804.13 380.12,1801.74 384.08,1799.21 388.05,1796.52 392.01,1793.68 395.98,1790.68 399.94,1787.52 403.9,1784.21 407.87,1780.72 411.83,1777.08 415.8,1773.28 419.76,1769.31 423.72,1765.19 427.69,1760.91 431.65,1756.49 435.62,1751.92 439.58,1747.21 443.54,1742.37 447.51,1737.4 451.47,1732.33 455.44,1727.15 459.4,1721.88 463.36,1716.54 467.33,1711.13 471.29,1705.67 475.26,1700.17 479.22,1694.66 483.18,1689.15 487.15,1683.66 491.11,1678.21 495.08,1672.81 499.04,1667.48 503,1662.25 506.97,1657.14 510.93,1652.16 514.9,1647.33 518.86,1642.68 522.82,1638.23 526.79,1633.99 530.75,1629.98 534.72,1626.22 538.68,1622.72 542.64,1619.51 546.61,1616.59 550.57,1613.99 554.54,1611.7 558.5,1609.75 562.46,1608.14 566.43,1606.88 570.39,1605.98 574.36,1605.43 578.32,1605.25 582.28,1605.43 586.25,1605.98 590.21,1606.88 594.18,1608.14 598.14,1609.75 602.1,1611.7 606.07,1613.99 610.03,1616.59 614,1619.51 617.96,1622.72 621.92,1626.22 625.89,1629.98 629.85,1633.99 633.82,1638.23 637.78,1642.68 641.74,1647.33 645.71,1652.16 649.67,1657.14 653.64,1662.25 657.6,1667.48 661.56,1672.81 665.53,1678.21 669.49,1683.66 673.46,1689.15 677.42,1694.66 681.38,1700.17 685.35,1705.67 689.31,1711.13 693.28,1716.54 697.24,1721.88 701.2,1727.15 705.17,1732.33 709.13,1737.4 713.1,1742.37 717.06,1747.21 721.02,1751.92 724.99,1756.49 728.95,1760.91 732.92,1765.19 736.88,1769.31 740.84,1773.28 744.81,1777.08 748.77,1780.72 752.74,1784.21 756.7,1787.52 760.66,1790.68 764.63,1793.68 768.59,1796.52 772.56,1799.21 776.52,1801.74 780.48,1804.13 784.45,1806.37 788.41,1808.48 792.38,1810.45 796.34,1812.29 800.3,1814.01 804.27,1815.6 808.23,1817.09 812.2,1818.47 816.16,1819.74 820.12,1820.92 824.09,1822 828.05,1823 832.02,1823.92 835.98,1824.76 839.94,1825.53 843.91,1826.23 847.87,1826.87 851.84,1827.46 855.8,1827.99 859.76,1828.47 863.73,1828.9 867.69,1829.3 871.66,1829.65 875.62,1829.97 879.58,1830.26 883.55,1830.52 887.51,1830.75 891.48,1830.95 895.44,1831.14 899.4,1831.3 903.37,1831.45 907.33,1831.58 911.3,1831.69 915.26,1831.79 919.22,1831.88 923.19,1831.96 927.15,1832.03 931.12,1832.09 935.08,1832.15 939.04,1832.19 943.01,1832.24 946.97,1832.27 950.94,1832.3 954.9,1832.33 958.86,1832.35 962.83,1832.37 966.79,1832.39 970.76,1832.41 974.72,1832.42 978.68,1832.43 982.65,1832.44 986.61,1832.45 990.58,1832.46 994.54,1832.46 998.5,1832.47 1002.47,1832.47 1006.43,1832.48 1010.4,1832.48 1014.36,1832.48 1018.32,1832.48 1022.29,1832.49 1026.25,1832.49 1030.22,1832.49 1034.18,1832.49 1038.14,1832.49 1042.11,1832.49 1046.07,1832.49 1050.04,1832.49 1054,1832.49"/><polyline fill="none" stroke="#FF00FF" stroke-width="3.2" stroke-linejoin="round" points="63,1832.5 66.96,1832.5 70.93,1832.5 74.89,1832.5 78.86,1832.5 82.82,1832.5 86.78,1832.5 90.75,1832.5 94.71,1832.5 98.68,1832.49 102.64,1832.49 106.6,1832.49 110.57,1832.49 114.53,1832.49 118.5,1832.49 122.46,1832.49 126.42,1832.49 130.39,1832.49 134.35,1832.49 138.32,1832.49 142.28,1832.49 146.24,1832.49 150.21,1832.49 154.17,1832.49 158.14,1832.48 162.1,1832.48 166.06,1832.48 170.03,1832.47 173.99,1832.47 177.96,1832.47 181.92,1832.46 185.88,1832.45 189.85,1832.45 193.81,1832.44 197.78,1832.43 201.74,1832.41 205.7,1832.4 209.67,1832.38 213.63,1832.37 217.6,1832.34 221.56,1832.32 225.52,1832.29 229.49,1832.26 233.45,1832.22 237.42,1832.18 241.38,1832.13 245.34,1832.07 249.31,1832 253.27,1831.93 257.24,1831.85 261.2,1831.75 265.16,1831.64 269.13,1831.52 273.09,1831.38 277.06,1831.23 281.02,1831.06 284.98,1830.86 288.95,1830.64 292.91,1830.4 296.88,1830.12 300.84,1829.82 304.8,1829.48 308.77,1829.1 312.73,1828.69 316.7,1828.23 320.66,1827.72 324.62,1827.15 328.59,1826.53 332.55,1825.85 336.52,1825.11 340.48,1824.29 344.44,1823.4 348.41,1822.43 352.37,1821.37 356.34,1820.22 360.3,1818.97 364.26,1817.62 368.23,1816.16 372.19,1814.59 376.16,1812.89 380.12,1811.07 384.08,1809.12 388.05,1807.03 392.01,1804.8 395.98,1802.42 399.94,1799.89 403.9,1797.2 407.87,1794.35 411.83,1791.34 415.8,1788.16 419.76,1784.81 423.72,1781.3 427.69,1777.6 431.65,1773.74 435.62,1769.71 439.58,1765.51 443.54,1761.13 447.51,1756.6 451.47,1751.91 455.44,1747.06 459.4,1742.07 463.36,1736.94 467.33,1731.67 471.29,1726.29 475.26,1720.8 479.22,1715.22 483.18,1709.55 487.15,1703.81 491.11,1698.02 495.08,1692.2 499.04,1686.36 503,1680.52 506.97,1674.69 510.93,1668.91 514.9,1663.18 518.86,1657.54 522.82,1651.99 526.79,1646.57 530.75,1641.29 534.72,1636.17 538.68,1631.25 542.64,1626.52 546.61,1622.02 550.57,1617.77 554.54,1613.78 558.5,1610.08 562.46,1606.67 566.43,1603.58 570.39,1600.82 574.36,1598.4 578.32,1596.33 582.28,1594.62 586.25,1593.28 590.21,1592.32 594.18,1591.75 598.14,1591.56 602.1,1591.75 606.07,1592.32 610.03,1593.28 614,1594.62 617.96,1596.33 621.92,1598.4 625.89,1600.82 629.85,1603.58 633.82,1606.67 637.78,1610.08 641.74,1613.78 645.71,1617.77 649.67,1622.02 653.64,1626.52 657.6,1631.25 661.56,1636.17 665.53,1641.29 669.49,1646.57 673.46,1651.99 677.42,1657.54 681.38,1663.18 685.35,1668.91 689.31,1674.69 693.28,1680.52 697.24,1686.36 701.2,1692.2 705.17,1698.02 709.13,1703.81 713.1,1709.55 717.06,1715.22 721.02,1720.8 724.99,1726.29 728.95,1731.67 732.92,1736.94 736.88,1742.07 740.84,1747.06 744.81,1751.91 748.77,1756.6 752.74,1761.13 756.7,1765.51 760.66,1769.71 764.63,1773.74 768.59,1777.6 772.56,1781.3 776.52,1784.81 780.48,1788.16 784.45,1791.34 788.41,1794.35 792.38,1797.2 796.34,1799.89 800.3,1802.42 804.27,1804.8 808.23,1807.03 812.2,1809.12 816.16,1811.07 820.12,1812.89 824.09,1814.59 828.05,1816.16 832.02,1817.62 835.98,1818.97 839.94,1820.22 843.91,1821.37 847.87,1822.43 851.84,1823.4 855.8,1824.29 859.76,1825.11 863.73,1825.85 867.69,1826.53 871.66,1827.15 875.62,1827.72 879.58,1828.23 883.55,1828.69 887.51,1829.1 891.48,1829.48 895.44,1829.82 899.4,1830.12 903.37,1830.4 907.33,1830.64 911.3,1830.86 915.26,1831.06 919.22,1831.23 923.19,1831.38 927.15,1831.52 931.12,1831.64 935.08,1831.75 939.04,1831.85 943.01,1831.93 946.97,1832 950.94,1832.07 954.9,1832.13 958.86,1832.18 962.83,1832.22 966.79,1832.26 970.76,1832.29 974.72,1832.32 978.68,1832.34 982.65,1832.37 986.61,1832.38 990.58,1832.4 994.54,1832.41 998.5,1832.43 1002.47,1832.44 1006.43,1832.45 1010.4,1832.45 1014.36,1832.46 1018.32,1832.47 1022.29,1832.47 1026.25,1832.47 1030.22,1832.48 1034.18,1832.48 1038.14,1832.48 1042.11,1832.49 1046.07,1832.49 1050.04,1832.49 1054,1832.49"/><polyline fill="none" stroke="#00BFFF" stroke-width="3.2" stroke-linejoin="round" points="63,1832.5 66.96,1832.5 70.93,1832.5 74.89,1832.5 78.86,1832.5 82.82,1832.5 86.78,1832.5 90.75,1832.5 94.71,1832.5 98.68,1832.5 102.64,1832.5 106.6,1832.5 110.57,1832.5 114.53,1832.5 118.5,1832.49 122.46,1832.49 126.42,1832.49 130.39,1832.49 134.35,1832.49 138.32,1832.49 142.28,1832.49 146.24,1832.49 150.21,1832.49 154.17,1832.49 158.14,1832.49 162.1,1832.49 166.06,1832.49 170.03,1832.49 173.99,1832.48 177.96,1832.48 181.92,1832.48 185.88,1832.48 189.85,1832.47 193.81,1832.47 197.78,1832.46 201.74,1832.46 205.7,1832.45 209.67,1832.44 213.63,1832.43 217.6,1832.42 221.56,1832.41 225.52,1832.4 229.49,1832.38 233.45,1832.36 237.42,1832.34 241.38,1832.31 245.34,1832.28 249.31,1832.25 253.27,1832.21 257.24,1832.16 261.2,1832.11 265.16,1832.05 269.13,1831.99 273.09,1831.91 277.06,1831.82 281.02,1831.72 284.98,1831.61 288.95,1831.49 292.91,1831.34 296.88,1831.18 300.84,1831 304.8,1830.8 308.77,1830.57 312.73,1830.32 316.7,1830.03 320.66,1829.72 324.62,1829.37 328.59,1828.98 332.55,1828.54 336.52,1828.06 340.48,1827.53 344.44,1826.95 348.41,1826.31 352.37,1825.6 356.34,1824.83 360.3,1823.98 364.26,1823.06 368.23,1822.05 372.19,1820.95 376.16,1819.75 380.12,1818.46 384.08,1817.06 388.05,1815.54 392.01,1813.91 395.98,1812.15 399.94,1810.26 403.9,1808.23 407.87,1806.06 411.83,1803.75 415.8,1801.28 419.76,1798.65 423.72,1795.86 427.69,1792.91 431.65,1789.78 435.62,1786.48 439.58,1783.01 443.54,1779.35 447.51,1775.52 451.47,1771.52 455.44,1767.33 459.4,1762.97 463.36,1758.43 467.33,1753.72 471.29,1748.85 475.26,1743.82 479.22,1738.64 483.18,1733.31 487.15,1727.85 491.11,1722.27 495.08,1716.57 499.04,1710.77 503,1704.89 506.97,1698.94 510.93,1692.93 514.9,1686.88 518.86,1680.82 522.82,1674.76 526.79,1668.71 530.75,1662.71 534.72,1656.77 538.68,1650.91 542.64,1645.15 546.61,1639.52 550.57,1634.04 554.54,1628.74 558.5,1623.62 562.46,1618.72 566.43,1614.05 570.39,1609.64 574.36,1605.5 578.32,1601.65 582.28,1598.12 586.25,1594.91 590.21,1592.04 594.18,1589.52 598.14,1587.38 602.1,1585.61 606.07,1584.22 610.03,1583.22 614,1582.62 617.96,1582.42 621.92,1582.62 625.89,1583.22 629.85,1584.22 633.82,1585.61 637.78,1587.38 641.74,1589.52 645.71,1592.04 649.67,1594.91 653.64,1598.12 657.6,1601.65 661.56,1605.5 665.53,1609.64 669.49,1614.05 673.46,1618.72 677.42,1623.62 681.38,1628.74 685.35,1634.04 689.31,1639.52 693.28,1645.15 697.24,1650.91 701.2,1656.77 705.17,1662.71 709.13,1668.71 713.1,1674.76 717.06,1680.82 721.02,1686.88 724.99,1692.93 728.95,1698.94 732.92,1704.89 736.88,1710.77 740.84,1716.57 744.81,1722.27 748.77,1727.85 752.74,1733.31 756.7,1738.64 760.66,1743.82 764.63,1748.85 768.59,1753.72 772.56,1758.43 776.52,1762.97 780.48,1767.33 784.45,1771.52 788.41,1775.52 792.38,1779.35 796.34,1783.01 800.3,1786.48 804.27,1789.78 808.23,1792.91 812.2,1795.86 816.16,1798.65 820.12,1801.28 824.09,1803.75 828.05,1806.06 832.02,1808.23 835.98,1810.26 839.94,1812.15 843.91,1813.91 847.87,1815.54 851.84,1817.06 855.8,1818.46 859.76,1819.75 863.73,1820.95 867.69,1822.05 871.66,1823.06 875.62,1823.98 879.58,1824.83 883.55,1825.6 887.51,1826.31 891.48,1826.95 895.44,1827.53 899.4,1828.06 903.37,1828.54 907.33,1828.98 911.3,1829.37 915.26,1829.72 919.22,1830.03 923.19,1830.32 927.15,1830.57 931.12,1830.8 935.08,1831 939.04,1831.18 943.01,1831.34 946.97,1831.49 950.94,1831.61 954.9,1831.72 958.86,1831.82 962.83,1831.91 966.79,1831.99 970.76,1832.05 974.72,1832.11 978.68,1832.16 982.65,1832.21 986.61,1832.25 990.58,1832.28 994.54,1832.31 998.5,1832.34 1002.47,1832.36 1006.43,1832.38 1010.4,1832.4 1014.36,1832.41 1018.32,1832.42 1022.29,1832.43 1026.25,1832.44 1030.22,1832.45 1034.18,1832.46 1038.14,1832.46 1042.11,1832.47 1046.07,1832.47 1050.04,1832.48 1054,1832.48"/><polyline fill="none" stroke="#00FFFF" stroke-width="3.2" stroke-linejoin="round" points="63,1832.5 66.96,1832.5 70.93,1832.5 74.89,1832.5 78.86,1832.5 82.82,1832.5 86.78,1832.5 90.75,1832.5 94.71,1832.5 98.68,1832.5 102.64,1832.5 106.6,1832.5 110.57,1832.5 114.53,1832.5 118.5,1832.5 122.46,1832.5 126.42,1832.5 130.39,1832.5 134.35,1832.5 138.32,1832.49 142.28,1832.49 146.24,1832.49 150.21,1832.49 154.17,1832.49 158.14,1832.49 162.1,1832.49 166.06,1832.49 170.03,1832.49 173.99,1832.49 177.96,1832.49 181.92,1832.49 185.88,1832.49 189.85,1832.49 193.81,1832.49 197.78,1832.48 201.74,1832.48 205.7,1832.48 209.67,1832.47 213.63,1832.47 217.6,1832.47 221.56,1832.46 225.52,1832.45 229.49,1832.45 233.45,1832.44 237.42,1832.43 241.38,1832.42 245.34,1832.4 249.31,1832.39 253.27,1832.37 257.24,1832.35 261.2,1832.32 265.16,1832.29 269.13,1832.26 273.09,1832.22 277.06,1832.18 281.02,1832.13 284.98,1832.08 288.95,1832.01 292.91,1831.94 296.88,1831.86 300.84,1831.77 304.8,1831.66 308.77,1831.54 312.73,1831.41 316.7,1831.25 320.66,1831.08 324.62,1830.89 328.59,1830.68 332.55,1830.44 336.52,1830.17 340.48,1829.87 344.44,1829.54 348.41,1829.17 352.37,1828.76 356.34,1828.31 360.3,1827.81 364.26,1827.25 368.23,1826.65 372.19,1825.98 376.16,1825.25 380.12,1824.45 384.08,1823.57 388.05,1822.62 392.01,1821.58 395.98,1820.45 399.94,1819.23 403.9,1817.9 407.87,1816.47 411.83,1814.93 415.8,1813.26 419.76,1811.48 423.72,1809.56 427.69,1807.51 431.65,1805.32 435.62,1802.99 439.58,1800.51 443.54,1797.87 447.51,1795.08 451.47,1792.12 455.44,1789 459.4,1785.72 463.36,1782.27 467.33,1778.64 471.29,1774.86 475.26,1770.9 479.22,1766.77 483.18,1762.49 487.15,1758.04 491.11,1753.43 495.08,1748.68 499.04,1743.78 503,1738.75 506.97,1733.58 510.93,1728.31 514.9,1722.92 518.86,1717.44 522.82,1711.88 526.79,1706.25 530.75,1700.57 534.72,1694.86 538.68,1689.13 542.64,1683.39 546.61,1677.68 550.57,1672.01 554.54,1666.39 558.5,1660.85 562.46,1655.41 566.43,1650.09 570.39,1644.91 574.36,1639.89 578.32,1635.06 582.28,1630.42 586.25,1626.01 590.21,1621.84 594.18,1617.93 598.14,1614.29 602.1,1610.95 606.07,1607.92 610.03,1605.21 614,1602.83 617.96,1600.8 621.92,1599.13 625.89,1597.82 629.85,1596.88 633.82,1596.31 637.78,1596.12 641.74,1596.31 645.71,1596.88 649.67,1597.82 653.64,1599.13 657.6,1600.8 661.56,1602.83 665.53,1605.21 669.49,1607.92 673.46,1610.95 677.42,1614.29 681.38,1617.93 685.35,1621.84 689.31,1626.01 693.28,1630.42 697.24,1635.06 701.2,1639.89 705.17,1644.91 709.13,1650.09 713.1,1655.41 717.06,1660.85 721.02,1666.39 724.99,1672.01 728.95,1677.68 732.92,1683.39 736.88,1689.13 740.84,1694.86 744.81,1700.57 748.77,1706.25 752.74,1711.88 756.7,1717.44 760.66,1722.92 764.63,1728.31 768.59,1733.58 772.56,1738.75 776.52,1743.78 780.48,1748.68 784.45,1753.43 788.41,1758.04 792.38,1762.49 796.34,1766.77 800.3,1770.9 804.27,1774.86 808.23,1778.64 812.2,1782.27 816.16,1785.72 820.12,1789 824.09,1792.12 828.05,1795.08 832.02,1797.87 835.98,1800.51 839.94,1802.99 843.91,1805.32 847.87,1807.51 851.84,1809.56 855.8,1811.48 859.76,1813.26 863.73,1814.93 867.69,1816.47 871.66,1817.9 875.62,1819.23 879.58,1820.45 883.55,1821.58 887.51,1822.62 891.48,1823.57 895.44,1824.45 899.4,1825.25 903.37,1825.98 907.33,1826.65 911.3,1827.25 915.26,1827.81 919.22,1828.31 923.19,1828.76 927.15,1829.17 931.12,1829.54 935.08,1829.87 939.04,1830.17 943.01,1830.44 946.97,1830.68 950.94,1830.89 954.9,1831.08 958.86,1831.25 962.83,1831.41 966.79,1831.54 970.76,1831.66 974.72,1831.77 978.68,1831.86 982.65,1831.94 986.61,1832.01 990.58,1832.08 994.54,1832.13 998.5,1832.18 1002.47,1832.22 1006.43,1832.26 1010.4,1832.29 1014.36,1832.32 1018.32,1832.35 1022.29,1832.37 1026.25,1832.39 1030.22,1832.4 1034.18,1832.42 1038.14,1832.43 1042.11,1832.44 1046.07,1832.45 1050.04,1832.45 1054,1832.46"/></g>
<rect x="63" y="1468.3" width="991" height="365.2" fill="none" stroke="#0a0a0a" stroke-width="2.2"/>
<g><g transform="translate(63,1855.12)" font-size="21.42" fill="#1a1a1a" stroke="#1a1a1a" stroke-width="0.3"><text transform="translate(-18.7,0) scale(0.964,1)">3</text><text transform="translate(-6.04,0) scale(0.968,1)">2</text><text transform="translate(6.99,0) scale(1.004,1)">0</text></g><g transform="translate(261.2,1855.12)" font-size="21.42" fill="#1a1a1a" stroke="#1a1a1a" stroke-width="0.3"><text transform="translate(-18.7,0) scale(0.964,1)">3</text><text transform="translate(-5.99,0) scale(1.004,1)">4</text><text transform="translate(6.99,0) scale(1.004,1)">0</text></g><g transform="translate(459.4,1855.12)" font-size="21.42" fill="#1a1a1a" stroke="#1a1a1a" stroke-width="0.3"><text transform="translate(-18.7,0) scale(0.964,1)">3</text><text transform="translate(-6.2,0) scale(1.039,1)">6</text><text transform="translate(6.99,0) scale(1.004,1)">0</text></g><g transform="translate(657.6,1855.12)" font-size="21.42" fill="#1a1a1a" stroke="#1a1a1a" stroke-width="0.3"><text transform="translate(-18.7,0) scale(0.964,1)">3</text><text transform="translate(-6.05,0) scale(1.015,1)">8</text><text transform="translate(6.99,0) scale(1.004,1)">0</text></g><g transform="translate(855.8,1855.12)" font-size="21.42" fill="#1a1a1a" stroke="#1a1a1a" stroke-width="0.3"><text transform="translate(-18.97,0) scale(1.004,1)">4</text><text transform="translate(-5.98,0) scale(1.004,1)">0</text><text transform="translate(6.99,0) scale(1.004,1)">0</text></g><g transform="translate(1054,1855.12)" font-size="21.42" fill="#1a1a1a" stroke="#1a1a1a" stroke-width="0.3"><text transform="translate(-18.97,0) scale(1.004,1)">4</text><text transform="translate(-6.04,0) scale(0.968,1)">2</text><text transform="translate(6.99,0) scale(1.004,1)">0</text></g><g transform="translate(56.27,1840.95)" font-size="21.42" fill="#1a1a1a" stroke="#1a1a1a" stroke-width="0.3"><text transform="translate(-12.47,0) scale(1.004,1)">0</text></g><g transform="translate(56.27,1795.3)" font-size="21.42" fill="#1a1a1a" stroke="#1a1a1a" stroke-width="0.3"><text transform="translate(-25.28,0) scale(0.959,1)">1</text><text transform="translate(-12.47,0) scale(1.004,1)">0</text></g><g transform="translate(56.27,1749.65)" font-size="21.42" fill="#1a1a1a" stroke="#1a1a1a" stroke-width="0.3"><text transform="translate(-25.51,0) scale(0.968,1)">2</text><text transform="translate(-12.47,0) scale(1.004,1)">0</text></g><g transform="translate(56.27,1704)" font-size="21.42" fill="#1a1a1a" stroke="#1a1a1a" stroke-width="0.3"><text transform="translate(-25.19,0) scale(0.964,1)">3</text><text transform="translate(-12.47,0) scale(1.004,1)">0</text></g><g transform="translate(56.27,1658.35)" font-size="21.42" fill="#1a1a1a" stroke="#1a1a1a" stroke-width="0.3"><text transform="translate(-25.46,0) scale(1.004,1)">4</text><text transform="translate(-12.47,0) scale(1.004,1)">0</text></g><g transform="translate(56.27,1612.7)" font-size="21.42" fill="#1a1a1a" stroke="#1a1a1a" stroke-width="0.3"><text transform="translate(-25.2,0) scale(0.947,1)">5</text><text transform="translate(-12.47,0) scale(1.004,1)">0</text></g><g transform="translate(56.27,1567.05)" font-size="21.42" fill="#1a1a1a" stroke="#1a1a1a" stroke-width="0.3"><text transform="translate(-25.66,0) scale(1.039,1)">6</text><text transform="translate(-12.47,0) scale(1.004,1)">0</text></g><g transform="translate(56.27,1521.4)" font-size="21.42" fill="#1a1a1a" stroke="#1a1a1a" stroke-width="0.3"><text transform="translate(-25.36,0) scale(0.982,1)">7</text><text transform="translate(-12.47,0) scale(1.004,1)">0</text></g><g transform="translate(56.27,1475.75)" font-size="21.42" fill="#1a1a1a" stroke="#1a1a1a" stroke-width="0.3"><text transform="translate(-25.52,0) scale(1.015,1)">8</text><text transform="translate(-12.47,0) scale(1.004,1)">0</text></g></g>
<g transform="translate(558.5,1881.85)" font-size="21.42" fill="#1a1a1a" stroke="#1a1a1a" stroke-width="0.3"><text transform="translate(-93.81,0) scale(0.897,1)">C</text><text transform="translate(-79.42,0) scale(1.239,1)">r</text><text transform="translate(-70.57,0) scale(0.869,1)">a</text><text transform="translate(-57.94,0) scale(1.042,1)">n</text><text transform="translate(-44.89,0) scale(1.081,1)">k</text><text transform="translate(-26.52,0) scale(0.974,1)">A</text><text transform="translate(-12.08,0) scale(1.042,1)">n</text><text transform="translate(0.84,0) scale(1.051,1)">g</text><text transform="translate(14.32,0) scale(0.988,1)">l</text><text transform="translate(19.74,0) scale(1.044,1)">e</text><text transform="translate(39.56,0) scale(0.817,1)">(</text><text transform="translate(47.55,0) scale(1.068,1)">°</text><text transform="translate(57.48,0) scale(0.897,1)">C</text><text transform="translate(71.87,0) scale(0.974,1)">A</text><text transform="translate(87.47,0) scale(0.817,1)">)</text></g>
<g transform="translate(19.24,1650.9) rotate(-90)" font-size="21.42" fill="#1a1a1a" stroke="#1a1a1a" stroke-width="0.3"><text transform="translate(-131.35,0) scale(1.022,1)">I</text><text transform="translate(-124.85,0) scale(1.042,1)">n</text><text transform="translate(-112.11,0) scale(1.042,1)">-</text><text transform="translate(-104.4,0) scale(0.970,1)">c</text><text transform="translate(-92.71,0) scale(1.038,1)">y</text><text transform="translate(-80.49,0) scale(0.988,1)">l</text><text transform="translate(-74.73,0) scale(0.988,1)">i</text><text transform="translate(-69.12,0) scale(1.042,1)">n</text><text transform="translate(-56.19,0) scale(1.051,1)">d</text><text transform="translate(-43.05,0) scale(1.044,1)">e</text><text transform="translate(-30.39,0) scale(1.239,1)">r</text><text transform="translate(-14.88,0) scale(0.855,1)">P</text><text transform="translate(-2.81,0) scale(1.239,1)">r</text><text transform="translate(5.78,0) scale(1.044,1)">e</text><text transform="translate(18.89,0) scale(0.927,1)">s</text><text transform="translate(29.68,0) scale(0.927,1)">s</text><text transform="translate(40.21,0) scale(1.042,1)">u</text><text transform="translate(53.14,0) scale(1.239,1)">r</text><text transform="translate(61.73,0) scale(1.044,1)">e</text><text transform="translate(81.55,0) scale(0.817,1)">(</text><text transform="translate(89.36,0) scale(1.052,1)">b</text><text transform="translate(102.53,0) scale(0.869,1)">a</text><text transform="translate(114.89,0) scale(1.239,1)">r</text><text transform="translate(124.84,0) scale(0.817,1)">)</text></g>
<g transform="translate(558.5,1457.4)" font-size="28.97" font-weight="bold" fill="#333" stroke="#333" stroke-width="0.5"><text transform="translate(-125.29,0) scale(1.008,1)">P</text><text transform="translate(-105.49,0) scale(1.148,1)">-</text><text transform="translate(-94.68,0) scale(1.264,1)">θ</text><text transform="translate(-65.4,0) scale(0.986,1)">a</text><text transform="translate(-47.22,0) scale(1.350,1)">t</text><text transform="translate(-23.95,0) scale(1.113,1)">7</text><text transform="translate(-4.05,0) scale(1.049,1)">5</text><text transform="translate(14.04,0) scale(1.064,1)">%</text><text transform="translate(51.77,0) scale(0.960,1)">L</text><text transform="translate(68.62,0) scale(1.073,1)">o</text><text transform="translate(87.91,0) scale(0.986,1)">a</text><text transform="translate(106.07,0) scale(1.107,1)">d</text></g>
<rect x="905.39" y="1478.3" width="138.11" height="187.99" rx="4.59" fill="#fff" fill-opacity="0.8" stroke="#c8c8c8" stroke-width="1.2"/>
<g><line x1="912.22" y1="1495.64" x2="957" y2="1495.64" stroke="#FFA500" stroke-width="3.2"/><g transform="translate(971.89,1502.98)" font-size="21.42" fill="#1a1a1a" stroke="#1a1a1a" stroke-width="0.3"><text transform="translate(0.27,0) scale(1.000,1)">D</text><text transform="translate(16.48,0) scale(0.988,1)">i</text><text transform="translate(21.89,0) scale(1.044,1)">e</text><text transform="translate(35.01,0) scale(0.927,1)">s</text><text transform="translate(45.42,0) scale(1.044,1)">e</text><text transform="translate(58.49,0) scale(0.988,1)">l</text></g><line x1="912.22" y1="1525.89" x2="957" y2="1525.89" stroke="#8B4513" stroke-width="3.2"/><g transform="translate(971.89,1533.23)" font-size="21.42" fill="#1a1a1a" stroke="#1a1a1a" stroke-width="0.3"><text transform="translate(-1.34,0) scale(0.600,1)">J</text><text transform="translate(6.45,0) scale(0.964,1)">M</text><text transform="translate(24.53,0) scale(0.838,1)">E</text><text transform="translate(37.51,0) scale(0.982,1)">2</text><text transform="translate(50.74,0) scale(1.019,1)">0</text></g><line x1="912.22" y1="1556.14" x2="957" y2="1556.14" stroke="#FF0000" stroke-width="3.2"/><g transform="translate(971.89,1563.49)" font-size="21.42" fill="#1a1a1a" stroke="#1a1a1a" stroke-width="0.3"><text transform="translate(0.27,0) scale(1.000,1)">D</text><text transform="translate(16.52,0) scale(0.829,1)">F</text><text transform="translate(28.01,0) scale(0.967,1)">X</text></g><line x1="912.22" y1="1586.4" x2="957" y2="1586.4" stroke="#FF00FF" stroke-width="3.2"/><g transform="translate(971.89,1593.74)" font-size="21.42" fill="#1a1a1a" stroke="#1a1a1a" stroke-width="0.3"><text transform="translate(0.27,0) scale(1.000,1)">D</text><text transform="translate(16.52,0) scale(0.829,1)">F</text><text transform="translate(28.01,0) scale(0.967,1)">X</text><text transform="translate(42.73,0) scale(0.973,1)">1</text></g><line x1="912.22" y1="1616.65" x2="957" y2="1616.65" stroke="#00BFFF" stroke-width="3.2"/><g transform="translate(971.89,1623.99)" font-size="21.42" fill="#1a1a1a" stroke="#1a1a1a" stroke-width="0.3"><text transform="translate(0.27,0) scale(1.000,1)">D</text><text transform="translate(16.52,0) scale(0.829,1)">F</text><text transform="translate(28.01,0) scale(0.967,1)">X</text><text transform="translate(42.5,0) scale(0.982,1)">2</text></g><line x1="912.22" y1="1646.9" x2="957" y2="1646.9" stroke="#00FFFF" stroke-width="3.2"/><g transform="translate(971.89,1654.25)" font-size="21.42" fill="#1a1a1a" stroke="#1a1a1a" stroke-width="0.3"><text transform="translate(0.27,0) scale(1.000,1)">D</text><text transform="translate(16.52,0) scale(0.829,1)">F</text><text transform="translate(28.01,0) scale(0.967,1)">X</text><text transform="translate(42.82,0) scale(0.979,1)">3</text></g></g>
<g stroke="#d9d9d9" stroke-width="1" stroke-dasharray="3.4 1.96"><line x1="261.2" y1="2307.1" x2="261.2" y2="1941.9"/><line x1="459.4" y1="2307.1" x2="459.4" y2="1941.9"/><line x1="657.6" y1="2307.1" x2="657.6" y2="1941.9"/><line x1="855.8" y1="2307.1" x2="855.8" y2="1941.9"/><line x1="63" y1="2261.45" x2="1054" y2="2261.45" stroke-dashoffset="-0.8"/><line x1="63" y1="2215.8" x2="1054" y2="2215.8" stroke-dashoffset="-0.8"/><line x1="63" y1="2170.15" x2="1054" y2="2170.15" stroke-dashoffset="-0.8"/><line x1="63" y1="2124.5" x2="1054" y2="2124.5" stroke-dashoffset="-0.8"/><line x1="63" y1="2078.85" x2="1054" y2="2078.85" stroke-dashoffset="-0.8"/><line x1="63" y1="2033.2" x2="1054" y2="2033.2" stroke-dashoffset="-0.8"/><line x1="63" y1="1987.55" x2="1054" y2="1987.55" stroke-dashoffset="-0.8"/></g>
<g stroke="#0a0a0a" stroke-width="1.6"><line x1="63" y1="2307.1" x2="63" y2="2301.18"/><line x1="261.2" y1="2307.1" x2="261.2" y2="2301.18"/><line x1="459.4" y1="2307.1" x2="459.4" y2="2301.18"/><line x1="657.6" y1="2307.1" x2="657.6" y2="2301.18"/><line x1="855.8" y1="2307.1" x2="855.8" y2="2301.18"/><line x1="1054" y1="2307.1" x2="1054" y2="2301.18"/><line x1="63" y1="2307.1" x2="68.92" y2="2307.1"/><line x1="63" y1="2261.45" x2="68.92" y2="2261.45"/><line x1="63" y1="2215.8" x2="68.92" y2="2215.8"/><line x1="63" y1="2170.15" x2="68.92" y2="2170.15"/><line x1="63" y1="2124.5" x2="68.92" y2="2124.5"/><line x1="63" y1="2078.85" x2="68.92" y2="2078.85"/><line x1="63" y1="2033.2" x2="68.92" y2="2033.2"/><line x1="63" y1="1987.55" x2="68.92" y2="1987.55"/><line x1="63" y1="1941.9" x2="68.92" y2="1941.9"/></g>
<g><polyline fill="none" stroke="#FFA500" stroke-width="3.2" stroke-linejoin="round" points="63,2306.1 66.96,2306.1 70.93,2306.1 74.89,2306.1 78.86,2306.09 82.82,2306.09 86.78,2306.09 90.75,2306.09 94.71,2306.09 98.68,2306.09 102.64,2306.09 106.6,2306.09 110.57,2306.09 114.53,2306.09 118.5,2306.09 122.46,2306.09 126.42,2306.08 130.39,2306.08 134.35,2306.08 138.32,2306.08 142.28,2306.07 146.24,2306.07 150.21,2306.06 154.17,2306.05 158.14,2306.05 162.1,2306.04 166.06,2306.02 170.03,2306.01 173.99,2305.99 177.96,2305.97 181.92,2305.95 185.88,2305.92 189.85,2305.89 193.81,2305.85 197.78,2305.81 201.74,2305.76 205.7,2305.7 209.67,2305.63 213.63,2305.55 217.6,2305.45 221.56,2305.35 225.52,2305.22 229.49,2305.08 233.45,2304.92 237.42,2304.74 241.38,2304.53 245.34,2304.29 249.31,2304.01 253.27,2303.71 257.24,2303.36 261.2,2302.96 265.16,2302.52 269.13,2302.02 273.09,2301.46 277.06,2300.84 281.02,2300.14 284.98,2299.37 288.95,2298.5 292.91,2297.55 296.88,2296.49 300.84,2295.33 304.8,2294.04 308.77,2292.63 312.73,2291.09 316.7,2289.4 320.66,2287.56 324.62,2285.55 328.59,2283.38 332.55,2281.02 336.52,2278.47 340.48,2275.72 344.44,2272.77 348.41,2269.6 352.37,2266.2 356.34,2262.58 360.3,2258.72 364.26,2254.63 368.23,2250.28 372.19,2245.69 376.16,2240.86 380.12,2235.77 384.08,2230.44 388.05,2224.86 392.01,2219.05 395.98,2213 399.94,2206.73 403.9,2200.25 407.87,2193.56 411.83,2186.69 415.8,2179.65 419.76,2172.46 423.72,2165.14 427.69,2157.72 431.65,2150.2 435.62,2142.64 439.58,2135.04 443.54,2127.44 447.51,2119.87 451.47,2112.37 455.44,2104.96 459.4,2097.68 463.36,2090.56 467.33,2083.64 471.29,2076.95 475.26,2070.53 479.22,2064.4 483.18,2058.6 487.15,2053.17 491.11,2048.12 495.08,2043.49 499.04,2039.31 503,2035.6 506.97,2032.37 510.93,2029.65 514.9,2027.46 518.86,2025.81 522.82,2024.7 526.79,2024.14 530.75,2024.14 534.72,2024.7 538.68,2025.81 542.64,2027.46 546.61,2029.65 550.57,2032.37 554.54,2035.6 558.5,2039.31 562.46,2043.49 566.43,2048.12 570.39,2053.17 574.36,2058.6 578.32,2064.4 582.28,2070.53 586.25,2076.95 590.21,2083.64 594.18,2090.56 598.14,2097.68 602.1,2104.96 606.07,2112.37 610.03,2119.87 614,2127.44 617.96,2135.04 621.92,2142.64 625.89,2150.2 629.85,2157.72 633.82,2165.14 637.78,2172.46 641.74,2179.65 645.71,2186.69 649.67,2193.56 653.64,2200.25 657.6,2206.73 661.56,2213 665.53,2219.05 669.49,2224.86 673.46,2230.44 677.42,2235.77 681.38,2240.86 685.35,2245.69 689.31,2250.28 693.28,2254.63 697.24,2258.72 701.2,2262.58 705.17,2266.2 709.13,2269.6 713.1,2272.77 717.06,2275.72 721.02,2278.47 724.99,2281.02 728.95,2283.38 732.92,2285.55 736.88,2287.56 740.84,2289.4 744.81,2291.09 748.77,2292.63 752.74,2294.04 756.7,2295.33 760.66,2296.49 764.63,2297.55 768.59,2298.5 772.56,2299.37 776.52,2300.14 780.48,2300.84 784.45,2301.46 788.41,2302.02 792.38,2302.52 796.34,2302.96 800.3,2303.36 804.27,2303.71 808.23,2304.01 812.2,2304.29 816.16,2304.53 820.12,2304.74 824.09,2304.92 828.05,2305.08 832.02,2305.22 835.98,2305.35 839.94,2305.45 843.91,2305.55 847.87,2305.63 851.84,2305.7 855.8,2305.76 859.76,2305.81 863.73,2305.85 867.69,2305.89 871.66,2305.92 875.62,2305.95 879.58,2305.97 883.55,2305.99 887.51,2306.01 891.48,2306.02 895.44,2306.04 899.4,2306.05 903.37,2306.05 907.33,2306.06 911.3,2306.07 915.26,2306.07 919.22,2306.08 923.19,2306.08 927.15,2306.08 931.12,2306.08 935.08,2306.09 939.04,2306.09 943.01,2306.09 946.97,2306.09 950.94,2306.09 954.9,2306.09 958.86,2306.09 962.83,2306.09 966.79,2306.09 970.76,2306.09 974.72,2306.09 978.68,2306.09 982.65,2306.1 986.61,2306.1 990.58,2306.1 994.54,2306.1 998.5,2306.1 1002.47,2306.1 1006.43,2306.1 1010.4,2306.1 1014.36,2306.1 1018.32,2306.1 1022.29,2306.1 1026.25,2306.1 1030.22,2306.1 1034.18,2306.1 1038.14,2306.1 1042.11,2306.1 1046.07,2306.1 1050.04,2306.1 1054,2306.1"/><polyline fill="none" stroke="#8B4513" stroke-width="3.2" stroke-linejoin="round" points="63,2306.09 66.96,2306.09 70.93,2306.09 74.89,2306.09 78.86,2306.09 82.82,2306.09 86.78,2306.09 90.75,2306.09 94.71,2306.09 98.68,2306.09 102.64,2306.09 106.6,2306.08 110.57,2306.08 114.53,2306.08 118.5,2306.08 122.46,2306.07 126.42,2306.07 130.39,2306.06 134.35,2306.05 138.32,2306.04 142.28,2306.03 146.24,2306.02 150.21,2306.01 154.17,2305.99 158.14,2305.97 162.1,2305.94 166.06,2305.92 170.03,2305.88 173.99,2305.84 177.96,2305.8 181.92,2305.75 185.88,2305.68 189.85,2305.61 193.81,2305.53 197.78,2305.43 201.74,2305.32 205.7,2305.2 209.67,2305.05 213.63,2304.88 217.6,2304.69 221.56,2304.48 225.52,2304.23 229.49,2303.95 233.45,2303.63 237.42,2303.27 241.38,2302.86 245.34,2302.4 249.31,2301.89 253.27,2301.31 257.24,2300.67 261.2,2299.95 265.16,2299.15 269.13,2298.26 273.09,2297.27 277.06,2296.18 281.02,2294.98 284.98,2293.65 288.95,2292.2 292.91,2290.6 296.88,2288.86 300.84,2286.96 304.8,2284.89 308.77,2282.64 312.73,2280.21 316.7,2277.57 320.66,2274.74 324.62,2271.69 328.59,2268.41 332.55,2264.91 336.52,2261.17 340.48,2257.19 344.44,2252.96 348.41,2248.48 352.37,2243.74 356.34,2238.75 360.3,2233.5 364.26,2227.99 368.23,2222.23 372.19,2216.23 376.16,2209.99 380.12,2203.52 384.08,2196.82 388.05,2189.92 392.01,2182.83 395.98,2175.56 399.94,2168.14 403.9,2160.58 407.87,2152.91 411.83,2145.16 415.8,2137.34 419.76,2129.5 423.72,2121.66 427.69,2113.85 431.65,2106.1 435.62,2098.45 439.58,2090.93 443.54,2083.59 447.51,2076.44 451.47,2069.54 455.44,2062.9 459.4,2056.58 463.36,2050.59 467.33,2044.98 471.29,2039.77 475.26,2034.99 479.22,2030.67 483.18,2026.84 487.15,2023.51 491.11,2020.71 495.08,2018.44 499.04,2016.73 503,2015.59 506.97,2015.01 510.93,2015.01 514.9,2015.59 518.86,2016.73 522.82,2018.44 526.79,2020.71 530.75,2023.51 534.72,2026.84 538.68,2030.67 542.64,2034.99 546.61,2039.77 550.57,2044.98 554.54,2050.59 558.5,2056.58 562.46,2062.9 566.43,2069.54 570.39,2076.44 574.36,2083.59 578.32,2090.93 582.28,2098.45 586.25,2106.1 590.21,2113.85 594.18,2121.66 598.14,2129.5 602.1,2137.34 606.07,2145.16 610.03,2152.91 614,2160.58 617.96,2168.14 621.92,2175.56 625.89,2182.83 629.85,2189.92 633.82,2196.82 637.78,2203.52 641.74,2209.99 645.71,2216.23 649.67,2222.23 653.64,2227.99 657.6,2233.5 661.56,2238.75 665.53,2243.74 669.49,2248.48 673.46,2252.96 677.42,2257.19 681.38,2261.17 685.35,2264.91 689.31,2268.41 693.28,2271.69 697.24,2274.74 701.2,2277.57 705.17,2280.21 709.13,2282.64 713.1,2284.89 717.06,2286.96 721.02,2288.86 724.99,2290.6 728.95,2292.2 732.92,2293.65 736.88,2294.98 740.84,2296.18 744.81,2297.27 748.77,2298.26 752.74,2299.15 756.7,2299.95 760.66,2300.67 764.63,2301.31 768.59,2301.89 772.56,2302.4 776.52,2302.86 780.48,2303.27 784.45,2303.63 788.41,2303.95 792.38,2304.23 796.34,2304.48 800.3,2304.69 804.27,2304.88 808.23,2305.05 812.2,2305.2 816.16,2305.32 820.12,2305.43 824.09,2305.53 828.05,2305.61 832.02,2305.68 835.98,2305.75 839.94,2305.8 843.91,2305.84 847.87,2305.88 851.84,2305.92 855.8,2305.94 859.76,2305.97 863.73,2305.99 867.69,2306.01 871.66,2306.02 875.62,2306.03 879.58,2306.04 883.55,2306.05 887.51,2306.06 891.48,2306.07 895.44,2306.07 899.4,2306.08 903.37,2306.08 907.33,2306.08 911.3,2306.08 915.26,2306.09 919.22,2306.09 923.19,2306.09 927.15,2306.09 931.12,2306.09 935.08,2306.09 939.04,2306.09 943.01,2306.09 946.97,2306.09 950.94,2306.09 954.9,2306.09 958.86,2306.09 962.83,2306.1 966.79,2306.1 970.76,2306.1 974.72,2306.1 978.68,2306.1 982.65,2306.1 986.61,2306.1 990.58,2306.1 994.54,2306.1 998.5,2306.1 1002.47,2306.1 1006.43,2306.1 1010.4,2306.1 1014.36,2306.1 1018.32,2306.1 1022.29,2306.1 1026.25,2306.1 1030.22,2306.1 1034.18,2306.1 1038.14,2306.1 1042.11,2306.1 1046.07,2306.1 1050.04,2306.1 1054,2306.1"/><polyline fill="none" stroke="#FF0000" stroke-width="3.2" stroke-linejoin="round" points="63,2306.1 66.96,2306.1 70.93,2306.1 74.89,2306.1 78.86,2306.1 82.82,2306.1 86.78,2306.1 90.75,2306.1 94.71,2306.1 98.68,2306.09 102.64,2306.09 106.6,2306.09 110.57,2306.09 114.53,2306.09 118.5,2306.09 122.46,2306.09 126.42,2306.09 130.39,2306.09 134.35,2306.09 138.32,2306.09 142.28,2306.09 146.24,2306.09 150.21,2306.08 154.17,2306.08 158.14,2306.08 162.1,2306.07 166.06,2306.07 170.03,2306.06 173.99,2306.06 177.96,2306.05 181.92,2306.04 185.88,2306.03 189.85,2306.01 193.81,2306 197.78,2305.98 201.74,2305.95 205.7,2305.93 209.67,2305.9 213.63,2305.86 217.6,2305.82 221.56,2305.77 225.52,2305.71 229.49,2305.64 233.45,2305.56 237.42,2305.48 241.38,2305.37 245.34,2305.25 249.31,2305.12 253.27,2304.96 257.24,2304.78 261.2,2304.58 265.16,2304.35 269.13,2304.08 273.09,2303.78 277.06,2303.45 281.02,2303.06 284.98,2302.64 288.95,2302.15 292.91,2301.61 296.88,2301.01 300.84,2300.33 304.8,2299.58 308.77,2298.75 312.73,2297.83 316.7,2296.8 320.66,2295.68 324.62,2294.43 328.59,2293.07 332.55,2291.58 336.52,2289.94 340.48,2288.16 344.44,2286.22 348.41,2284.11 352.37,2281.83 356.34,2279.36 360.3,2276.7 364.26,2273.85 368.23,2270.78 372.19,2267.49 376.16,2263.99 380.12,2260.26 384.08,2256.29 388.05,2252.09 392.01,2247.65 395.98,2242.97 399.94,2238.05 403.9,2232.89 407.87,2227.49 411.83,2221.87 415.8,2216.02 419.76,2209.95 423.72,2203.67 427.69,2197.21 431.65,2190.56 435.62,2183.75 439.58,2176.79 443.54,2169.71 447.51,2162.52 451.47,2155.25 455.44,2147.93 459.4,2140.58 463.36,2133.22 467.33,2125.9 471.29,2118.64 475.26,2111.47 479.22,2104.43 483.18,2097.54 487.15,2090.84 491.11,2084.37 495.08,2078.15 499.04,2072.22 503,2066.62 506.97,2061.35 510.93,2056.47 514.9,2051.99 518.86,2047.95 522.82,2044.35 526.79,2041.23 530.75,2038.6 534.72,2036.48 538.68,2034.88 542.64,2033.81 546.61,2033.27 550.57,2033.27 554.54,2033.81 558.5,2034.88 562.46,2036.48 566.43,2038.6 570.39,2041.23 574.36,2044.35 578.32,2047.95 582.28,2051.99 586.25,2056.47 590.21,2061.35 594.18,2066.62 598.14,2072.22 602.1,2078.15 606.07,2084.37 610.03,2090.84 614,2097.54 617.96,2104.43 621.92,2111.47 625.89,2118.64 629.85,2125.9 633.82,2133.22 637.78,2140.58 641.74,2147.93 645.71,2155.25 649.67,2162.52 653.64,2169.71 657.6,2176.79 661.56,2183.75 665.53,2190.56 669.49,2197.21 673.46,2203.67 677.42,2209.95 681.38,2216.02 685.35,2221.87 689.31,2227.49 693.28,2232.89 697.24,2238.05 701.2,2242.97 705.17,2247.65 709.13,2252.09 713.1,2256.29 717.06,2260.26 721.02,2263.99 724.99,2267.49 728.95,2270.78 732.92,2273.85 736.88,2276.7 740.84,2279.36 744.81,2281.83 748.77,2284.11 752.74,2286.22 756.7,2288.16 760.66,2289.94 764.63,2291.58 768.59,2293.07 772.56,2294.43 776.52,2295.68 780.48,2296.8 784.45,2297.83 788.41,2298.75 792.38,2299.58 796.34,2300.33 800.3,2301.01 804.27,2301.61 808.23,2302.15 812.2,2302.64 816.16,2303.06 820.12,2303.45 824.09,2303.78 828.05,2304.08 832.02,2304.35 835.98,2304.58 839.94,2304.78 843.91,2304.96 847.87,2305.12 851.84,2305.25 855.8,2305.37 859.76,2305.48 863.73,2305.56 867.69,2305.64 871.66,2305.71 875.62,2305.77 879.58,2305.82 883.55,2305.86 887.51,2305.9 891.48,2305.93 895.44,2305.95 899.4,2305.98 903.37,2306 907.33,2306.01 911.3,2306.03 915.26,2306.04 919.22,2306.05 923.19,2306.06 927.15,2306.06 931.12,2306.07 935.08,2306.07 939.04,2306.08 943.01,2306.08 946.97,2306.08 950.94,2306.09 954.9,2306.09 958.86,2306.09 962.83,2306.09 966.79,2306.09 970.76,2306.09 974.72,2306.09 978.68,2306.09 982.65,2306.09 986.61,2306.09 990.58,2306.09 994.54,2306.09 998.5,2306.09 1002.47,2306.1 1006.43,2306.1 1010.4,2306.1 1014.36,2306.1 1018.32,2306.1 1022.29,2306.1 1026.25,2306.1 1030.22,2306.1 1034.18,2306.1 1038.14,2306.1 1042.11,2306.1 1046.07,2306.1 1050.04,2306.1 1054,2306.1"/><polyline fill="none" stroke="#FF00FF" stroke-width="3.2" stroke-linejoin="round" points="63,2306.1 66.96,2306.1 70.93,2306.1 74.89,2306.1 78.86,2306.1 82.82,2306.1 86.78,2306.1 90.75,2306.1 94.71,2306.1 98.68,2306.1 102.64,2306.1 106.6,2306.1 110.57,2306.1 114.53,2306.1 118.5,2306.09 122.46,2306.09 126.42,2306.09 130.39,2306.09 134.35,2306.09 138.32,2306.09 142.28,2306.09 146.24,2306.09 150.21,2306.09 154.17,2306.09 158.14,2306.09 162.1,2306.09 166.06,2306.08 170.03,2306.08 173.99,2306.08 177.96,2306.08 181.92,2306.07 185.88,2306.07 189.85,2306.06 193.81,2306.05 197.78,2306.04 201.74,2306.03 205.7,2306.02 209.67,2306.01 213.63,2305.99 217.6,2305.97 221.56,2305.95 225.52,2305.92 229.49,2305.89 233.45,2305.85 237.42,2305.8 241.38,2305.75 245.34,2305.69 249.31,2305.62 253.27,2305.54 257.24,2305.44 261.2,2305.34 265.16,2305.21 269.13,2305.07 273.09,2304.9 277.06,2304.72 281.02,2304.5 284.98,2304.26 288.95,2303.98 292.91,2303.67 296.88,2303.31 300.84,2302.91 304.8,2302.46 308.77,2301.96 312.73,2301.39 316.7,2300.75 320.66,2300.05 324.62,2299.26 328.59,2298.38 332.55,2297.41 336.52,2296.34 340.48,2295.15 344.44,2293.85 348.41,2292.42 352.37,2290.85 356.34,2289.13 360.3,2287.26 364.26,2285.22 368.23,2283.01 372.19,2280.61 376.16,2278.02 380.12,2275.23 384.08,2272.23 388.05,2269.01 392.01,2265.56 395.98,2261.88 399.94,2257.96 403.9,2253.79 407.87,2249.38 411.83,2244.72 415.8,2239.8 419.76,2234.63 423.72,2229.22 427.69,2223.55 431.65,2217.64 435.62,2211.5 439.58,2205.12 443.54,2198.54 447.51,2191.74 451.47,2184.76 455.44,2177.61 459.4,2170.3 463.36,2162.86 467.33,2155.31 471.29,2147.68 475.26,2139.99 479.22,2132.27 483.18,2124.55 487.15,2116.86 491.11,2109.23 495.08,2101.71 499.04,2094.31 503,2087.08 506.97,2080.04 510.93,2073.24 514.9,2066.72 518.86,2060.49 522.82,2054.6 526.79,2049.07 530.75,2043.95 534.72,2039.24 538.68,2034.99 542.64,2031.22 546.61,2027.94 550.57,2025.18 554.54,2022.95 558.5,2021.27 562.46,2020.14 566.43,2019.58 570.39,2019.58 574.36,2020.14 578.32,2021.27 582.28,2022.95 586.25,2025.18 590.21,2027.94 594.18,2031.22 598.14,2034.99 602.1,2039.24 606.07,2043.95 610.03,2049.07 614,2054.6 617.96,2060.49 621.92,2066.72 625.89,2073.24 629.85,2080.04 633.82,2087.08 637.78,2094.31 641.74,2101.71 645.71,2109.23 649.67,2116.86 653.64,2124.55 657.6,2132.27 661.56,2139.99 665.53,2147.68 669.49,2155.31 673.46,2162.86 677.42,2170.3 681.38,2177.61 685.35,2184.76 689.31,2191.74 693.28,2198.54 697.24,2205.12 701.2,2211.5 705.17,2217.64 709.13,2223.55 713.1,2229.22 717.06,2234.63 721.02,2239.8 724.99,2244.72 728.95,2249.38 732.92,2253.79 736.88,2257.96 740.84,2261.88 744.81,2265.56 748.77,2269.01 752.74,2272.23 756.7,2275.23 760.66,2278.02 764.63,2280.61 768.59,2283.01 772.56,2285.22 776.52,2287.26 780.48,2289.13 784.45,2290.85 788.41,2292.42 792.38,2293.85 796.34,2295.15 800.3,2296.34 804.27,2297.41 808.23,2298.38 812.2,2299.26 816.16,2300.05 820.12,2300.75 824.09,2301.39 828.05,2301.96 832.02,2302.46 835.98,2302.91 839.94,2303.31 843.91,2303.67 847.87,2303.98 851.84,2304.26 855.8,2304.5 859.76,2304.72 863.73,2304.9 867.69,2305.07 871.66,2305.21 875.62,2305.34 879.58,2305.44 883.55,2305.54 887.51,2305.62 891.48,2305.69 895.44,2305.75 899.4,2305.8 903.37,2305.85 907.33,2305.89 911.3,2305.92 915.26,2305.95 919.22,2305.97 923.19,2305.99 927.15,2306.01 931.12,2306.02 935.08,2306.03 939.04,2306.04 943.01,2306.05 946.97,2306.06 950.94,2306.07 954.9,2306.07 958.86,2306.08 962.83,2306.08 966.79,2306.08 970.76,2306.08 974.72,2306.09 978.68,2306.09 982.65,2306.09 986.61,2306.09 990.58,2306.09 994.54,2306.09 998.5,2306.09 1002.47,2306.09 1006.43,2306.09 1010.4,2306.09 1014.36,2306.09 1018.32,2306.09 1022.29,2306.1 1026.25,2306.1 1030.22,2306.1 1034.18,2306.1 1038.14,2306.1 1042.11,2306.1 1046.07,2306.1 1050.04,2306.1 1054,2306.1"/><polyline fill="none" stroke="#00BFFF" stroke-width="3.2" stroke-linejoin="round" points="63,2306.1 66.96,2306.1 70.93,2306.1 74.89,2306.1 78.86,2306.1 82.82,2306.1 86.78,2306.1 90.75,2306.1 94.71,2306.1 98.68,2306.1 102.64,2306.1 106.6,2306.1 110.57,2306.1 114.53,2306.1 118.5,2306.1 122.46,2306.1 126.42,2306.1 130.39,2306.1 134.35,2306.09 138.32,2306.09 142.28,2306.09 146.24,2306.09 150.21,2306.09 154.17,2306.09 158.14,2306.09 162.1,2306.09 166.06,2306.09 170.03,2306.09 173.99,2306.09 177.96,2306.09 181.92,2306.09 185.88,2306.08 189.85,2306.08 193.81,2306.08 197.78,2306.08 201.74,2306.07 205.7,2306.07 209.67,2306.06 213.63,2306.05 217.6,2306.04 221.56,2306.03 225.52,2306.02 229.49,2306 233.45,2305.99 237.42,2305.96 241.38,2305.94 245.34,2305.91 249.31,2305.88 253.27,2305.84 257.24,2305.79 261.2,2305.73 265.16,2305.67 269.13,2305.6 273.09,2305.51 277.06,2305.41 281.02,2305.3 284.98,2305.17 288.95,2305.02 292.91,2304.85 296.88,2304.65 300.84,2304.42 304.8,2304.17 308.77,2303.88 312.73,2303.55 316.7,2303.18 320.66,2302.76 324.62,2302.29 328.59,2301.76 332.55,2301.16 336.52,2300.5 340.48,2299.76 344.44,2298.93 348.41,2298.01 352.37,2297 356.34,2295.87 360.3,2294.63 364.26,2293.26 368.23,2291.76 372.19,2290.12 376.16,2288.32 380.12,2286.36 384.08,2284.22 388.05,2281.9 392.01,2279.39 395.98,2276.68 399.94,2273.75 403.9,2270.61 407.87,2267.23 411.83,2263.62 415.8,2259.76 419.76,2255.66 423.72,2251.29 427.69,2246.67 431.65,2241.78 435.62,2236.63 439.58,2231.22 443.54,2225.54 447.51,2219.6 451.47,2213.41 455.44,2206.97 459.4,2200.3 463.36,2193.4 467.33,2186.28 471.29,2178.96 475.26,2171.47 479.22,2163.81 483.18,2156.02 487.15,2148.11 491.11,2140.11 495.08,2132.05 499.04,2123.96 503,2115.87 506.97,2107.82 510.93,2099.83 514.9,2091.94 518.86,2084.19 522.82,2076.61 526.79,2069.24 530.75,2062.12 534.72,2055.28 538.68,2048.75 542.64,2042.58 546.61,2036.79 550.57,2031.42 554.54,2026.49 558.5,2022.04 562.46,2018.08 566.43,2014.65 570.39,2011.76 574.36,2009.42 578.32,2007.66 582.28,2006.48 586.25,2005.88 590.21,2005.88 594.18,2006.48 598.14,2007.66 602.1,2009.42 606.07,2011.76 610.03,2014.65 614,2018.08 617.96,2022.04 621.92,2026.49 625.89,2031.42 629.85,2036.79 633.82,2042.58 637.78,2048.75 641.74,2055.28 645.71,2062.12 649.67,2069.24 653.64,2076.61 657.6,2084.19 661.56,2091.94 665.53,2099.83 669.49,2107.82 673.46,2115.87 677.42,2123.96 681.38,2132.05 685.35,2140.11 689.31,2148.11 693.28,2156.02 697.24,2163.81 701.2,2171.47 705.17,2178.96 709.13,2186.28 713.1,2193.4 717.06,2200.3 721.02,2206.97 724.99,2213.41 728.95,2219.6 732.92,2225.54 736.88,2231.22 740.84,2236.63 744.81,2241.78 748.77,2246.67 752.74,2251.29 756.7,2255.66 760.66,2259.76 764.63,2263.62 768.59,2267.23 772.56,2270.61 776.52,2273.75 780.48,2276.68 784.45,2279.39 788.41,2281.9 792.38,2284.22 796.34,2286.36 800.3,2288.32 804.27,2290.12 808.23,2291.76 812.2,2293.26 816.16,2294.63 820.12,2295.87 824.09,2297 828.05,2298.01 832.02,2298.93 835.98,2299.76 839.94,2300.5 843.91,2301.16 847.87,2301.76 851.84,2302.29 855.8,2302.76 859.76,2303.18 863.73,2303.55 867.69,2303.88 871.66,2304.17 875.62,2304.42 879.58,2304.65 883.55,2304.85 887.51,2305.02 891.48,2305.17 895.44,2305.3 899.4,2305.41 903.37,2305.51 907.33,2305.6 911.3,2305.67 915.26,2305.73 919.22,2305.79 923.19,2305.84 927.15,2305.88 931.12,2305.91 935.08,2305.94 939.04,2305.96 943.01,2305.99 946.97,2306 950.94,2306.02 954.9,2306.03 958.86,2306.04 962.83,2306.05 966.79,2306.06 970.76,2306.07 974.72,2306.07 978.68,2306.08 982.65,2306.08 986.61,2306.08 990.58,2306.08 994.54,2306.09 998.5,2306.09 1002.47,2306.09 1006.43,2306.09 1010.4,2306.09 1014.36,2306.09 1018.32,2306.09 1022.29,2306.09 1026.25,2306.09 1030.22,2306.09 1034.18,2306.09 1038.14,2306.09 1042.11,2306.09 1046.07,2306.1 1050.04,2306.1 1054,2306.1"/><polyline fill="none" stroke="#00FFFF" stroke-width="3.2" stroke-linejoin="round" points="63,2306.1 66.96,2306.1 70.93,2306.1 74.89,2306.1 78.86,2306.1 82.82,2306.1 86.78,2306.1 90.75,2306.1 94.71,2306.1 98.68,2306.1 102.64,2306.1 106.6,2306.1 110.57,2306.1 114.53,2306.1 118.5,2306.1 122.46,2306.1 126.42,2306.1 130.39,2306.1 134.35,2306.1 138.32,2306.1 142.28,2306.1 146.24,2306.1 150.21,2306.1 154.17,2306.1 158.14,2306.09 162.1,2306.09 166.06,2306.09 170.03,2306.09 173.99,2306.09 177.96,2306.09 181.92,2306.09 185.88,2306.09 189.85,2306.09 193.81,2306.09 197.78,2306.09 201.74,2306.09 205.7,2306.08 209.67,2306.08 213.63,2306.08 217.6,2306.08 221.56,2306.07 225.52,2306.07 229.49,2306.06 233.45,2306.05 237.42,2306.04 241.38,2306.03 245.34,2306.02 249.31,2306.01 253.27,2305.99 257.24,2305.97 261.2,2305.94 265.16,2305.92 269.13,2305.88 273.09,2305.84 277.06,2305.8 281.02,2305.75 284.98,2305.68 288.95,2305.61 292.91,2305.53 296.88,2305.43 300.84,2305.32 304.8,2305.2 308.77,2305.05 312.73,2304.88 316.7,2304.69 320.66,2304.48 324.62,2304.23 328.59,2303.95 332.55,2303.63 336.52,2303.27 340.48,2302.86 344.44,2302.4 348.41,2301.89 352.37,2301.31 356.34,2300.67 360.3,2299.95 364.26,2299.15 368.23,2298.26 372.19,2297.27 376.16,2296.18 380.12,2294.98 384.08,2293.65 388.05,2292.2 392.01,2290.6 395.98,2288.86 399.94,2286.96 403.9,2284.89 407.87,2282.64 411.83,2280.21 415.8,2277.57 419.76,2274.74 423.72,2271.69 427.69,2268.41 431.65,2264.91 435.62,2261.17 439.58,2257.19 443.54,2252.96 447.51,2248.48 451.47,2243.74 455.44,2238.75 459.4,2233.5 463.36,2227.99 467.33,2222.23 471.29,2216.23 475.26,2209.99 479.22,2203.52 483.18,2196.82 487.15,2189.92 491.11,2182.83 495.08,2175.56 499.04,2168.14 503,2160.58 506.97,2152.91 510.93,2145.16 514.9,2137.34 518.86,2129.5 522.82,2121.66 526.79,2113.85 530.75,2106.1 534.72,2098.45 538.68,2090.93 542.64,2083.59 546.61,2076.44 550.57,2069.54 554.54,2062.9 558.5,2056.58 562.46,2050.59 566.43,2044.98 570.39,2039.77 574.36,2034.99 578.32,2030.67 582.28,2026.84 586.25,2023.51 590.21,2020.71 594.18,2018.44 598.14,2016.73 602.1,2015.59 606.07,2015.01 610.03,2015.01 614,2015.59 617.96,2016.73 621.92,2018.44 625.89,2020.71 629.85,2023.51 633.82,2026.84 637.78,2030.67 641.74,2034.99 645.71,2039.77 649.67,2044.98 653.64,2050.59 657.6,2056.58 661.56,2062.9 665.53,2069.54 669.49,2076.44 673.46,2083.59 677.42,2090.93 681.38,2098.45 685.35,2106.1 689.31,2113.85 693.28,2121.66 697.24,2129.5 701.2,2137.34 705.17,2145.16 709.13,2152.91 713.1,2160.58 717.06,2168.14 721.02,2175.56 724.99,2182.83 728.95,2189.92 732.92,2196.82 736.88,2203.52 740.84,2209.99 744.81,2216.23 748.77,2222.23 752.74,2227.99 756.7,2233.5 760.66,2238.75 764.63,2243.74 768.59,2248.48 772.56,2252.96 776.52,2257.19 780.48,2261.17 784.45,2264.91 788.41,2268.41 792.38,2271.69 796.34,2274.74 800.3,2277.57 804.27,2280.21 808.23,2282.64 812.2,2284.89 816.16,2286.96 820.12,2288.86 824.09,2290.6 828.05,2292.2 832.02,2293.65 835.98,2294.98 839.94,2296.18 843.91,2297.27 847.87,2298.26 851.84,2299.15 855.8,2299.95 859.76,2300.67 863.73,2301.31 867.69,2301.89 871.66,2302.4 875.62,2302.86 879.58,2303.27 883.55,2303.63 887.51,2303.95 891.48,2304.23 895.44,2304.48 899.4,2304.69 903.37,2304.88 907.33,2305.05 911.3,2305.2 915.26,2305.32 919.22,2305.43 923.19,2305.53 927.15,2305.61 931.12,2305.68 935.08,2305.75 939.04,2305.8 943.01,2305.84 946.97,2305.88 950.94,2305.92 954.9,2305.94 958.86,2305.97 962.83,2305.99 966.79,2306.01 970.76,2306.02 974.72,2306.03 978.68,2306.04 982.65,2306.05 986.61,2306.06 990.58,2306.07 994.54,2306.07 998.5,2306.08 1002.47,2306.08 1006.43,2306.08 1010.4,2306.08 1014.36,2306.09 1018.32,2306.09 1022.29,2306.09 1026.25,2306.09 1030.22,2306.09 1034.18,2306.09 1038.14,2306.09 1042.11,2306.09 1046.07,2306.09 1050.04,2306.09 1054,2306.09"/></g>
<rect x="63" y="1941.9" width="991" height="365.2" fill="none" stroke="#0a0a0a" stroke-width="2.2"/>
<g><g transform="translate(63,2328.72)" font-size="21.42" fill="#1a1a1a" stroke="#1a1a1a" stroke-width="0.3"><text transform="translate(-18.7,0) scale(0.964,1)">3</text><text transform="translate(-6.04,0) scale(0.968,1)">2</text><text transform="translate(6.99,0) scale(1.004,1)">0</text></g><g transform="translate(261.2,2328.72)" font-size="21.42" fill="#1a1a1a" stroke="#1a1a1a" stroke-width="0.3"><text transform="translate(-18.7,0) scale(0.964,1)">3</text><text transform="translate(-5.99,0) scale(1.004,1)">4</text><text transform="translate(6.99,0) scale(1.004,1)">0</text></g><g transform="translate(459.4,2328.72)" font-size="21.42" fill="#1a1a1a" stroke="#1a1a1a" stroke-width="0.3"><text transform="translate(-18.7,0) scale(0.964,1)">3</text><text transform="translate(-6.2,0) scale(1.039,1)">6</text><text transform="translate(6.99,0) scale(1.004,1)">0</text></g><g transform="translate(657.6,2328.72)" font-size="21.42" fill="#1a1a1a" stroke="#1a1a1a" stroke-width="0.3"><text transform="translate(-18.7,0) scale(0.964,1)">3</text><text transform="translate(-6.05,0) scale(1.015,1)">8</text><text transform="translate(6.99,0) scale(1.004,1)">0</text></g><g transform="translate(855.8,2328.72)" font-size="21.42" fill="#1a1a1a" stroke="#1a1a1a" stroke-width="0.3"><text transform="translate(-18.97,0) scale(1.004,1)">4</text><text transform="translate(-5.98,0) scale(1.004,1)">0</text><text transform="translate(6.99,0) scale(1.004,1)">0</text></g><g transform="translate(1054,2328.72)" font-size="21.42" fill="#1a1a1a" stroke="#1a1a1a" stroke-width="0.3"><text transform="translate(-18.97,0) scale(1.004,1)">4</text><text transform="translate(-6.04,0) scale(0.968,1)">2</text><text transform="translate(6.99,0) scale(1.004,1)">0</text></g><g transform="translate(56.27,2314.55)" font-size="21.42" fill="#1a1a1a" stroke="#1a1a1a" stroke-width="0.3"><text transform="translate(-12.47,0) scale(1.004,1)">0</text></g><g transform="translate(56.27,2268.9)" font-size="21.42" fill="#1a1a1a" stroke="#1a1a1a" stroke-width="0.3"><text transform="translate(-25.28,0) scale(0.959,1)">1</text><text transform="translate(-12.47,0) scale(1.004,1)">0</text></g><g transform="translate(56.27,2223.25)" font-size="21.42" fill="#1a1a1a" stroke="#1a1a1a" stroke-width="0.3"><text transform="translate(-25.51,0) scale(0.968,1)">2</text><text transform="translate(-12.47,0) scale(1.004,1)">0</text></g><g transform="translate(56.27,2177.6)" font-size="21.42" fill="#1a1a1a" stroke="#1a1a1a" stroke-width="0.3"><text transform="translate(-25.19,0) scale(0.964,1)">3</text><text transform="translate(-12.47,0) scale(1.004,1)">0</text></g><g transform="translate(56.27,2131.95)" font-size="21.42" fill="#1a1a1a" stroke="#1a1a1a" stroke-width="0.3"><text transform="translate(-25.46,0) scale(1.004,1)">4</text><text transform="translate(-12.47,0) scale(1.004,1)">0</text></g><g transform="translate(56.27,2086.3)" font-size="21.42" fill="#1a1a1a" stroke="#1a1a1a" stroke-width="0.3"><text transform="translate(-25.2,0) scale(0.947,1)">5</text><text transform="translate(-12.47,0) scale(1.004,1)">0</text></g><g transform="translate(56.27,2040.65)" font-size="21.42" fill="#1a1a1a" stroke="#1a1a1a" stroke-width="0.3"><text transform="translate(-25.66,0) scale(1.039,1)">6</text><text transform="translate(-12.47,0) scale(1.004,1)">0</text></g><g transform="translate(56.27,1995)" font-size="21.42" fill="#1a1a1a" stroke="#1a1a1a" stroke-width="0.3"><text transform="translate(-25.36,0) scale(0.982,1)">7</text><text transform="translate(-12.47,0) scale(1.004,1)">0</text></g><g transform="translate(56.27,1949.35)" font-size="21.42" fill="#1a1a1a" stroke="#1a1a1a" stroke-width="0.3"><text transform="translate(-25.52,0) scale(1.015,1)">8</text><text transform="translate(-12.47,0) scale(1.004,1)">0</text></g></g>
<g transform="translate(558.5,2355.45)" font-size="21.42" fill="#1a1a1a" stroke="#1a1a1a" stroke-width="0.3"><text transform="translate(-93.81,0) scale(0.897,1)">C</text><text transform="translate(-79.42,0) scale(1.239,1)">r</text><text transform="translate(-70.57,0) scale(0.869,1)">a</text><text transform="translate(-57.94,0) scale(1.042,1)">n</text><text transform="translate(-44.89,0) scale(1.081,1)">k</text><text transform="translate(-26.52,0) scale(0.974,1)">A</text><text transform="translate(-12.08,0) scale(1.042,1)">n</text><text transform="translate(0.84,0) scale(1.051,1)">g</text><text transform="translate(14.32,0) scale(0.988,1)">l</text><text transform="translate(19.74,0) scale(1.044,1)">e</text><text transform="translate(39.56,0) scale(0.817,1)">(</text><text transform="translate(47.55,0) scale(1.068,1)">°</text><text transform="translate(57.48,0) scale(0.897,1)">C</text><text transform="translate(71.87,0) scale(0.974,1)">A</text><text transform="translate(87.47,0) scale(0.817,1)">)</text></g>
<g transform="translate(19.24,2124.5) rotate(-90)" font-size="21.42" fill="#1a1a1a" stroke="#1a1a1a" stroke-width="0.3"><text transform="translate(-131.35,0) scale(1.022,1)">I</text><text transform="translate(-124.85,0) scale(1.042,1)">n</text><text transform="translate(-112.11,0) scale(1.042,1)">-</text><text transform="translate(-104.4,0) scale(0.970,1)">c</text><text transform="translate(-92.71,0) scale(1.038,1)">y</text><text transform="translate(-80.49,0) scale(0.988,1)">l</text><text transform="translate(-74.73,0) scale(0.988,1)">i</text><text transform="translate(-69.12,0) scale(1.042,1)">n</text><text transform="translate(-56.19,0) scale(1.051,1)">d</text><text transform="translate(-43.05,0) scale(1.044,1)">e</text><text transform="translate(-30.39,0) scale(1.239,1)">r</text><text transform="translate(-14.88,0) scale(0.855,1)">P</text><text transform="translate(-2.81,0) scale(1.239,1)">r</text><text transform="translate(5.78,0) scale(1.044,1)">e</text><text transform="translate(18.89,0) scale(0.927,1)">s</text><text transform="translate(29.68,0) scale(0.927,1)">s</text><text transform="translate(40.21,0) scale(1.042,1)">u</text><text transform="translate(53.14,0) scale(1.239,1)">r</text><text transform="translate(61.73,0) scale(1.044,1)">e</text><text transform="translate(81.55,0) scale(0.817,1)">(</text><text transform="translate(89.36,0) scale(1.052,1)">b</text><text transform="translate(102.53,0) scale(0.869,1)">a</text><text transform="translate(114.89,0) scale(1.239,1)">r</text><text transform="translate(124.84,0) scale(0.817,1)">)</text></g>
<g transform="translate(558.5,1931.2)" font-size="28.97" font-weight="bold" fill="#333" stroke="#333" stroke-width="0.5"><text transform="translate(-134.87,0) scale(1.008,1)">P</text><text transform="translate(-115.07,0) scale(1.148,1)">-</text><text transform="translate(-104.26,0) scale(1.264,1)">θ</text><text transform="translate(-74.98,0) scale(0.986,1)">a</text><text transform="translate(-56.8,0) scale(1.350,1)">t</text><text transform="translate(-32.8,0) scale(1.050,1)">1</text><text transform="translate(-14.88,0) scale(1.200,1)">0</text><text transform="translate(4.28,0) scale(1.200,1)">0</text><text transform="translate(23.62,0) scale(1.064,1)">%</text><text transform="translate(61.35,0) scale(0.960,1)">L</text><text transform="translate(78.2,0) scale(1.073,1)">o</text><text transform="translate(97.5,0) scale(0.986,1)">a</text><text transform="translate(115.66,0) scale(1.107,1)">d</text></g>
<rect x="905.39" y="1951.9" width="138.11" height="187.99" rx="4.59" fill="#fff" fill-opacity="0.8" stroke="#c8c8c8" stroke-width="1.2"/>
<g><line x1="912.22" y1="1969.24" x2="957" y2="1969.24" stroke="#FFA500" stroke-width="3.2"/><g transform="translate(971.89,1976.58)" font-size="21.42" fill="#1a1a1a" stroke="#1a1a1a" stroke-width="0.3"><text transform="translate(0.27,0) scale(1.000,1)">D</text><text transform="translate(16.48,0) scale(0.988,1)">i</text><text transform="translate(21.89,0) scale(1.044,1)">e</text><text transform="translate(35.01,0) scale(0.927,1)">s</text><text transform="translate(45.42,0) scale(1.044,1)">e</text><text transform="translate(58.49,0) scale(0.988,1)">l</text></g><line x1="912.22" y1="1999.49" x2="957" y2="1999.49" stroke="#8B4513" stroke-width="3.2"/><g transform="translate(971.89,2006.83)" font-size="21.42" fill="#1a1a1a" stroke="#1a1a1a" stroke-width="0.3"><text transform="translate(-1.34,0) scale(0.600,1)">J</text><text transform="translate(6.45,0) scale(0.964,1)">M</text><text transform="translate(24.53,0) scale(0.838,1)">E</text><text transform="translate(37.51,0) scale(0.982,1)">2</text><text transform="translate(50.74,0) scale(1.019,1)">0</text></g><line x1="912.22" y1="2029.74" x2="957" y2="2029.74" stroke="#FF0000" stroke-width="3.2"/><g transform="translate(971.89,2037.09)" font-size="21.42" fill="#1a1a1a" stroke="#1a1a1a" stroke-width="0.3"><text transform="translate(0.27,0) scale(1.000,1)">D</text><text transform="translate(16.52,0) scale(0.829,1)">F</text><text transform="translate(28.01,0) scale(0.967,1)">X</text></g><line x1="912.22" y1="2060" x2="957" y2="2060" stroke="#FF00FF" stroke-width="3.2"/><g transform="translate(971.89,2067.34)" font-size="21.42" fill="#1a1a1a" stroke="#1a1a1a" stroke-width="0.3"><text transform="translate(0.27,0) scale(1.000,1)">D</text><text transform="translate(16.52,0) scale(0.829,1)">F</text><text transform="translate(28.01,0) scale(0.967,1)">X</text><text transform="translate(42.73,0) scale(0.973,1)">1</text></g><line x1="912.22" y1="2090.25" x2="957" y2="2090.25" stroke="#00BFFF" stroke-width="3.2"/><g transform="translate(971.89,2097.59)" font-size="21.42" fill="#1a1a1a" stroke="#1a1a1a" stroke-width="0.3"><text transform="translate(0.27,0) scale(1.000,1)">D</text><text transform="translate(16.52,0) scale(0.829,1)">F</text><text transform="translate(28.01,0) scale(0.967,1)">X</text><text transform="translate(42.5,0) scale(0.982,1)">2</text></g><line x1="912.22" y1="2120.5" x2="957" y2="2120.5" stroke="#00FFFF" stroke-width="3.2"/><g transform="translate(971.89,2127.85)" font-size="21.42" fill="#1a1a1a" stroke="#1a1a1a" stroke-width="0.3"><text transform="translate(0.27,0) scale(1.000,1)">D</text><text transform="translate(16.52,0) scale(0.829,1)">F</text><text transform="translate(28.01,0) scale(0.967,1)">X</text><text transform="translate(42.82,0) scale(0.979,1)">3</text></g></g>
</g></svg>
</body></html>
